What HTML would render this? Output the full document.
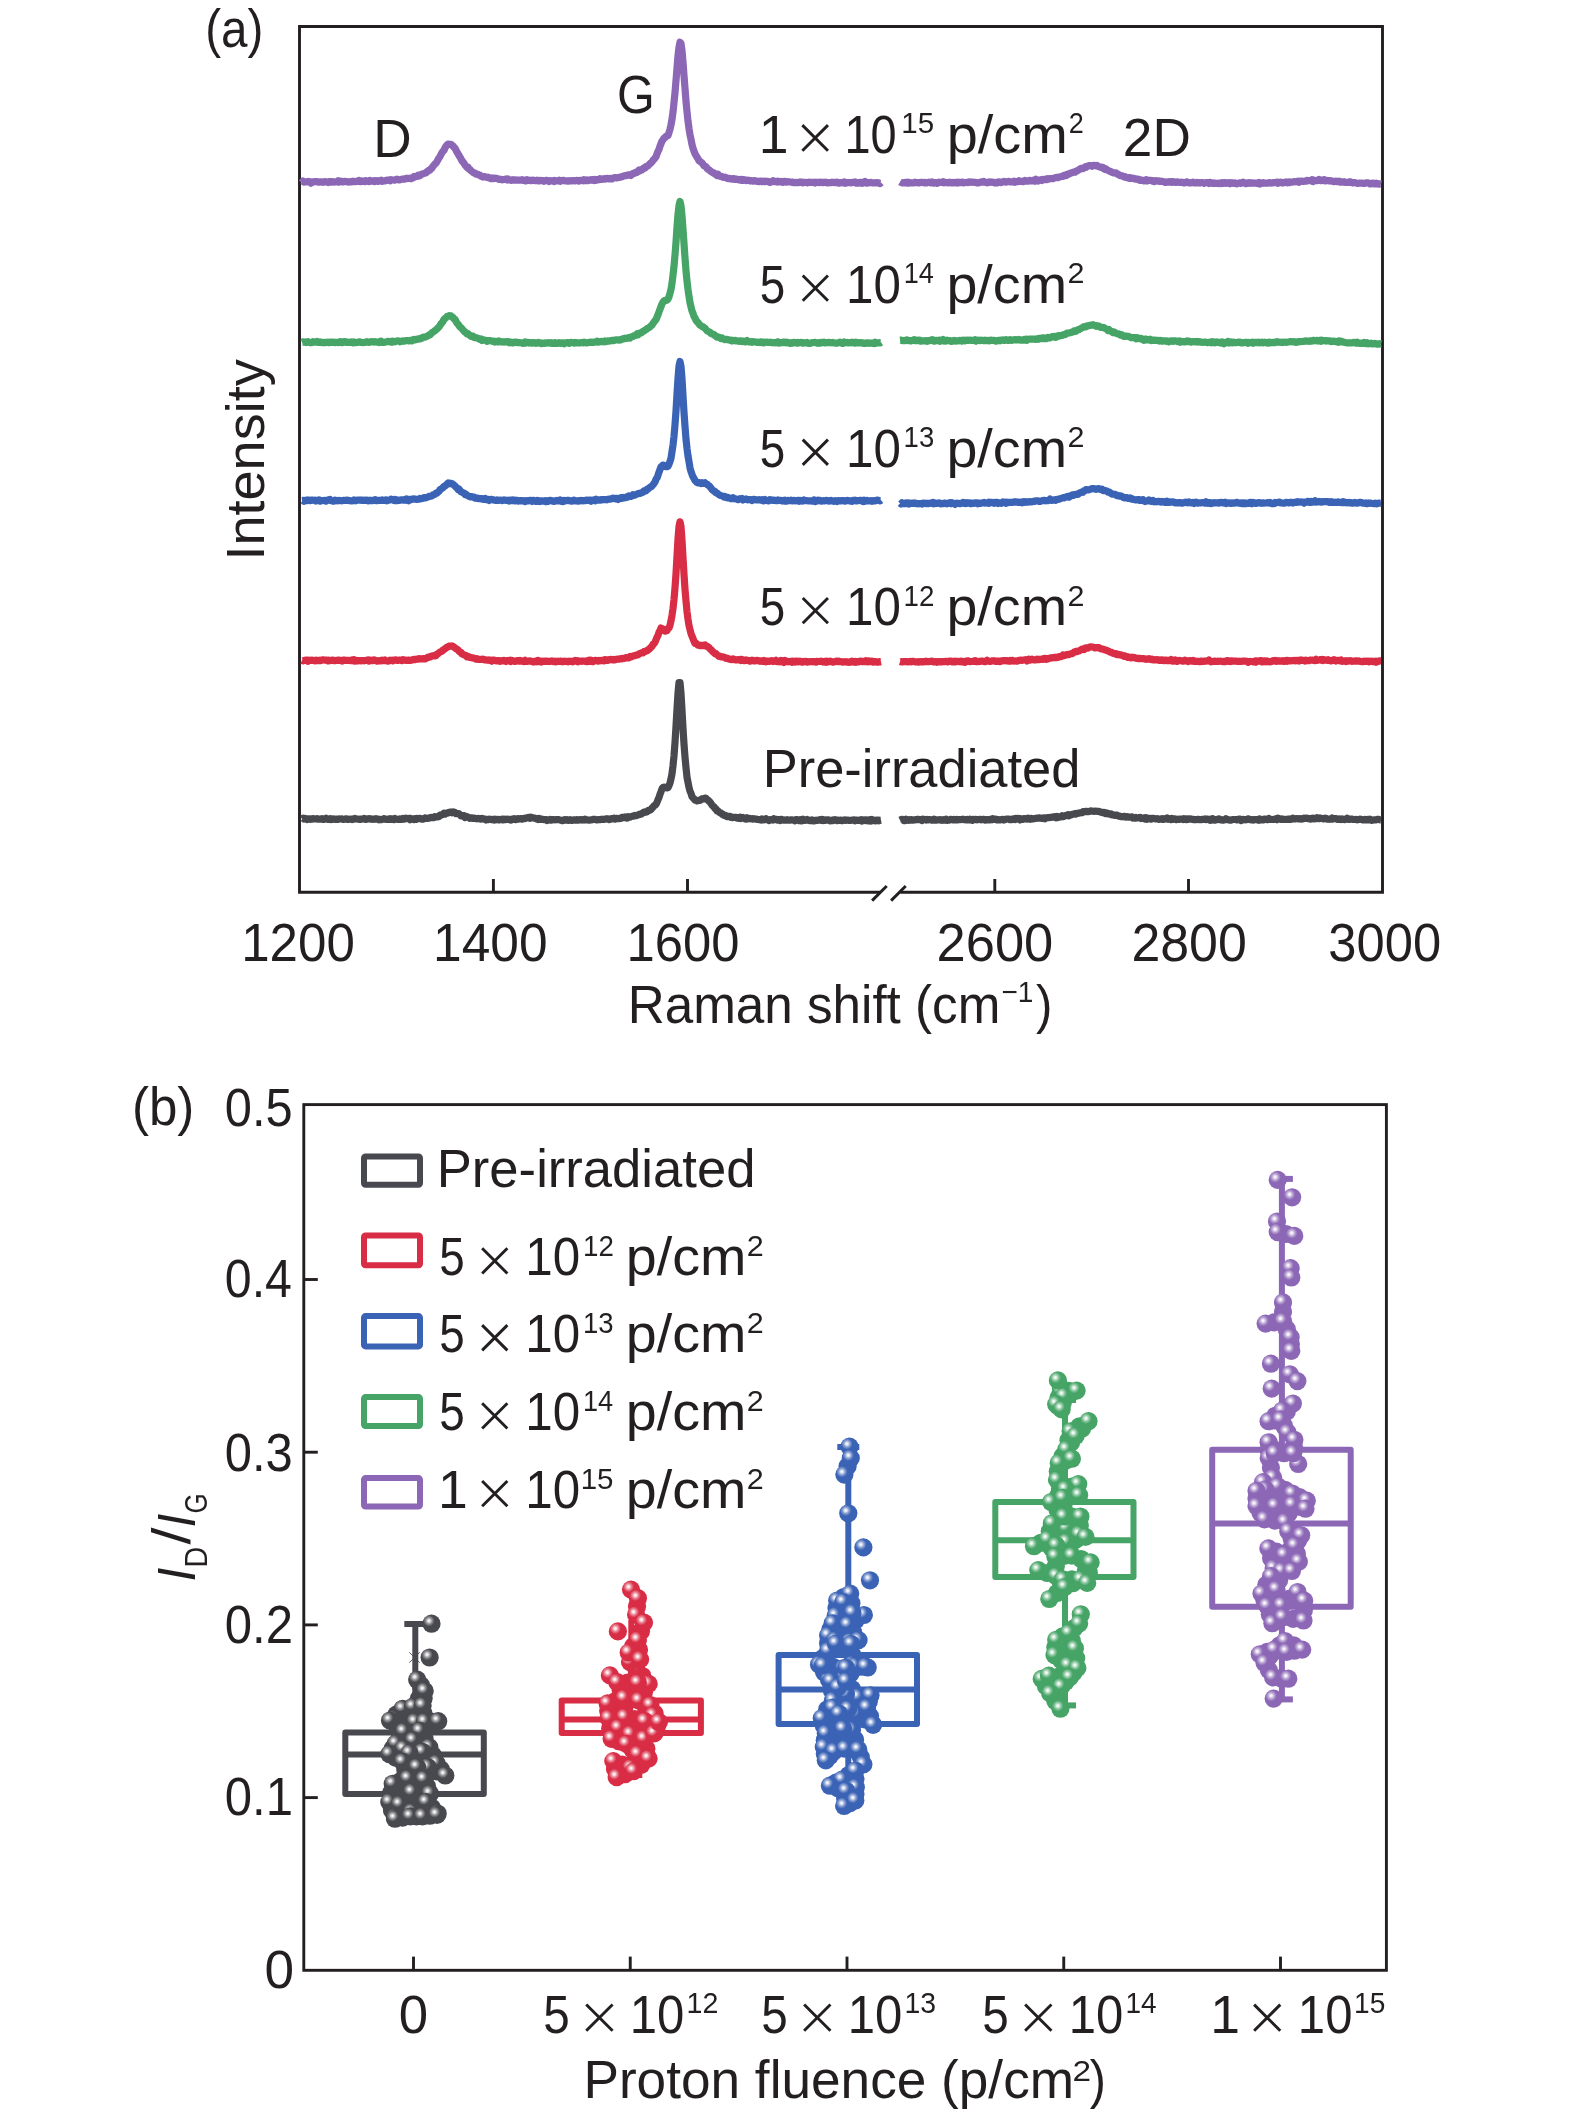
<!DOCTYPE html><html><head><meta charset="utf-8"><style>html,body{margin:0;padding:0;background:#fff;overflow:hidden}svg{display:block}text{font-family:"Liberation Sans",sans-serif;font-kerning:none}svg{will-change:transform}</style></head><body>
<svg width="1575" height="2115" viewBox="0 0 1575 2115">
<rect width="1575" height="2115" fill="#fff"/>
<defs>
<radialGradient id="gk" cx="0.36" cy="0.34" r="0.62" fx="0.36" fy="0.34"><stop offset="0" stop-color="#ffffff" stop-opacity="1"/><stop offset="0.11" stop-color="#ffffff" stop-opacity="0.85"/><stop offset="0.28" stop-color="#ffffff" stop-opacity="0.4"/><stop offset="0.5" stop-color="#ffffff" stop-opacity="0"/></radialGradient>
<radialGradient id="gr" cx="0.36" cy="0.34" r="0.62" fx="0.36" fy="0.34"><stop offset="0" stop-color="#ffffff" stop-opacity="1"/><stop offset="0.11" stop-color="#ffffff" stop-opacity="0.85"/><stop offset="0.28" stop-color="#ffffff" stop-opacity="0.4"/><stop offset="0.5" stop-color="#ffffff" stop-opacity="0"/></radialGradient>
<radialGradient id="gb" cx="0.36" cy="0.34" r="0.62" fx="0.36" fy="0.34"><stop offset="0" stop-color="#ffffff" stop-opacity="1"/><stop offset="0.11" stop-color="#ffffff" stop-opacity="0.85"/><stop offset="0.28" stop-color="#ffffff" stop-opacity="0.4"/><stop offset="0.5" stop-color="#ffffff" stop-opacity="0"/></radialGradient>
<radialGradient id="gg" cx="0.36" cy="0.34" r="0.62" fx="0.36" fy="0.34"><stop offset="0" stop-color="#ffffff" stop-opacity="1"/><stop offset="0.11" stop-color="#ffffff" stop-opacity="0.85"/><stop offset="0.28" stop-color="#ffffff" stop-opacity="0.4"/><stop offset="0.5" stop-color="#ffffff" stop-opacity="0"/></radialGradient>
<radialGradient id="gp" cx="0.36" cy="0.34" r="0.62" fx="0.36" fy="0.34"><stop offset="0" stop-color="#ffffff" stop-opacity="1"/><stop offset="0.11" stop-color="#ffffff" stop-opacity="0.85"/><stop offset="0.28" stop-color="#ffffff" stop-opacity="0.4"/><stop offset="0.5" stop-color="#ffffff" stop-opacity="0"/></radialGradient>
</defs>
<g fill="none" stroke="#231f20" stroke-width="2.9">
<polyline points="880,892.3 299.5,892.3 299.5,26.5 1382.5,26.5 1382.5,892.3 900.3,892.3"/>
<line x1="493.4" y1="892.3" x2="493.4" y2="879"/>
<line x1="687.5" y1="892.3" x2="687.5" y2="879"/>
<line x1="994.8" y1="892.3" x2="994.8" y2="879"/>
<line x1="1188.5" y1="892.3" x2="1188.5" y2="879"/>
<line x1="872.1" y1="900.6" x2="886.7" y2="886"/>
<line x1="891.1" y1="900.6" x2="905.7" y2="886"/>
</g>
<g fill="#231f20">
<text x="205.25" y="46.50" font-size="54.00" textLength="58.21" lengthAdjust="spacingAndGlyphs">(a)</text>
<text x="373.24" y="157.10" font-size="53.50" textLength="38.41" lengthAdjust="spacingAndGlyphs">D</text>
<text x="616.96" y="112.70" font-size="53.50" textLength="37.77" lengthAdjust="spacingAndGlyphs">G</text>
<text x="1122.82" y="155.50" font-size="53.50" textLength="68.02" lengthAdjust="spacingAndGlyphs">2D</text>
<text x="758.68" y="152.60" font-size="53.50">1</text>
<text x="844.42" y="152.60" font-size="53.50" textLength="52.21" lengthAdjust="spacingAndGlyphs">10</text>
<text x="901.26" y="133.10" font-size="30.00" textLength="32.78" lengthAdjust="spacingAndGlyphs">15</text>
<text x="946.70" y="152.60" font-size="53.50" textLength="121.19" lengthAdjust="spacingAndGlyphs">p/cm</text>
<text x="1068.64" y="133.10" font-size="30.00" textLength="15.02" lengthAdjust="spacingAndGlyphs">2</text>
<text x="759.87" y="302.60" font-size="53.50" textLength="25.45" lengthAdjust="spacingAndGlyphs">5</text>
<text x="845.94" y="302.60" font-size="53.50" textLength="54.89" lengthAdjust="spacingAndGlyphs">10</text>
<text x="903.63" y="283.10" font-size="30.00" textLength="30.16" lengthAdjust="spacingAndGlyphs">14</text>
<text x="946.41" y="302.60" font-size="53.50" textLength="120.66" lengthAdjust="spacingAndGlyphs">p/cm</text>
<text x="1067.47" y="283.10" font-size="30.00" textLength="16.97" lengthAdjust="spacingAndGlyphs">2</text>
<text x="759.87" y="466.70" font-size="53.50" textLength="25.45" lengthAdjust="spacingAndGlyphs">5</text>
<text x="845.94" y="466.70" font-size="53.50" textLength="54.89" lengthAdjust="spacingAndGlyphs">10</text>
<text x="903.60" y="447.20" font-size="30.00" textLength="30.61" lengthAdjust="spacingAndGlyphs">13</text>
<text x="946.41" y="466.70" font-size="53.50" textLength="120.66" lengthAdjust="spacingAndGlyphs">p/cm</text>
<text x="1067.47" y="447.20" font-size="30.00" textLength="16.97" lengthAdjust="spacingAndGlyphs">2</text>
<text x="759.87" y="625.00" font-size="53.50" textLength="25.45" lengthAdjust="spacingAndGlyphs">5</text>
<text x="845.94" y="625.00" font-size="53.50" textLength="54.89" lengthAdjust="spacingAndGlyphs">10</text>
<text x="903.59" y="605.50" font-size="30.00" textLength="30.80" lengthAdjust="spacingAndGlyphs">12</text>
<text x="946.41" y="625.00" font-size="53.50" textLength="120.66" lengthAdjust="spacingAndGlyphs">p/cm</text>
<text x="1067.47" y="605.50" font-size="30.00" textLength="16.97" lengthAdjust="spacingAndGlyphs">2</text>
<text x="762.70" y="786.70" font-size="53.50" textLength="317.78" lengthAdjust="spacingAndGlyphs">Pre-irradiated</text>
<text x="241.21" y="960.70" font-size="53.50" textLength="113.58" lengthAdjust="spacingAndGlyphs">1200</text>
<text x="433.08" y="960.70" font-size="53.50" textLength="114.53" lengthAdjust="spacingAndGlyphs">1400</text>
<text x="626.54" y="960.70" font-size="53.50" textLength="112.85" lengthAdjust="spacingAndGlyphs">1600</text>
<text x="936.56" y="960.70" font-size="53.50" textLength="116.69" lengthAdjust="spacingAndGlyphs">2600</text>
<text x="1131.39" y="960.70" font-size="53.50" textLength="115.44" lengthAdjust="spacingAndGlyphs">2800</text>
<text x="1328.37" y="960.70" font-size="53.50" textLength="112.81" lengthAdjust="spacingAndGlyphs">3000</text>
<text x="627.70" y="1022.60" font-size="53.50" textLength="372.67" lengthAdjust="spacingAndGlyphs">Raman shift (cm</text>
<text x="1001.42" y="1002.00" font-size="30.00" textLength="31.95" lengthAdjust="spacingAndGlyphs">−1</text>
<text x="1036.11" y="1022.60" font-size="53.50" textLength="16.45" lengthAdjust="spacingAndGlyphs">)</text>
<text transform="translate(263.90,555.60) rotate(-90)" x="-4.99" y="0" font-size="53.50" textLength="201.40" lengthAdjust="spacingAndGlyphs">Intensity</text>
</g>
<g fill="none" stroke="#231f20" stroke-width="2.9">
<rect x="303.8" y="1104.6" width="1082.6" height="865.7"/>
<line x1="303.8" y1="1797.6" x2="317.8" y2="1797.6"/>
<line x1="303.8" y1="1624.9" x2="317.8" y2="1624.9"/>
<line x1="303.8" y1="1452.2" x2="317.8" y2="1452.2"/>
<line x1="303.8" y1="1279.5" x2="317.8" y2="1279.5"/>
<line x1="413.5" y1="1970.3" x2="413.5" y2="1956.6"/>
<line x1="630.25" y1="1970.3" x2="630.25" y2="1956.6"/>
<line x1="847.0" y1="1970.3" x2="847.0" y2="1956.6"/>
<line x1="1063.75" y1="1970.3" x2="1063.75" y2="1956.6"/>
<line x1="1280.5" y1="1970.3" x2="1280.5" y2="1956.6"/>
</g>
<g fill="#231f20">
<text x="131.93" y="1125.20" font-size="54.00" textLength="62.44" lengthAdjust="spacingAndGlyphs">(b)</text>
<text x="224.79" y="1125.70" font-size="53.50" textLength="67.86" lengthAdjust="spacingAndGlyphs">0.5</text>
<text x="224.81" y="1297.30" font-size="53.50" textLength="67.20" lengthAdjust="spacingAndGlyphs">0.4</text>
<text x="224.79" y="1470.70" font-size="53.50" textLength="67.96" lengthAdjust="spacingAndGlyphs">0.3</text>
<text x="224.78" y="1642.80" font-size="53.50" textLength="68.29" lengthAdjust="spacingAndGlyphs">0.2</text>
<text x="224.78" y="1815.00" font-size="53.50" textLength="68.21" lengthAdjust="spacingAndGlyphs">0.1</text>
<text x="264.62" y="1988.10" font-size="53.50" textLength="29.55" lengthAdjust="spacingAndGlyphs">0</text>
<text x="398.74" y="2032.60" font-size="53.50" textLength="29.32" lengthAdjust="spacingAndGlyphs">0</text>
<text x="543.29" y="2032.60" font-size="53.50" textLength="26.51" lengthAdjust="spacingAndGlyphs">5</text>
<text x="629.76" y="2032.60" font-size="53.50" textLength="54.55" lengthAdjust="spacingAndGlyphs">10</text>
<text x="686.52" y="2012.60" font-size="30.00" textLength="31.82" lengthAdjust="spacingAndGlyphs">12</text>
<text x="761.19" y="2032.60" font-size="53.50" textLength="26.51" lengthAdjust="spacingAndGlyphs">5</text>
<text x="847.66" y="2032.60" font-size="53.50" textLength="54.55" lengthAdjust="spacingAndGlyphs">10</text>
<text x="904.44" y="2012.60" font-size="30.00" textLength="31.61" lengthAdjust="spacingAndGlyphs">13</text>
<text x="982.19" y="2032.60" font-size="53.50" textLength="26.51" lengthAdjust="spacingAndGlyphs">5</text>
<text x="1068.66" y="2032.60" font-size="53.50" textLength="54.55" lengthAdjust="spacingAndGlyphs">10</text>
<text x="1125.47" y="2012.60" font-size="30.00" textLength="31.15" lengthAdjust="spacingAndGlyphs">14</text>
<text x="1210.18" y="2032.60" font-size="53.50">1</text>
<text x="1297.86" y="2032.60" font-size="53.50" textLength="54.55" lengthAdjust="spacingAndGlyphs">10</text>
<text x="1354.06" y="2012.60" font-size="30.00" textLength="31.22" lengthAdjust="spacingAndGlyphs">15</text>
<text x="583.44" y="2098.10" font-size="53.50" textLength="490.57" lengthAdjust="spacingAndGlyphs">Proton fluence (p/cm</text>
<text x="1072.62" y="2081.00" font-size="30.00" textLength="18.56" lengthAdjust="spacingAndGlyphs">2</text>
<text x="1089.71" y="2098.10" font-size="53.50" textLength="16.20" lengthAdjust="spacingAndGlyphs">)</text>
</g>
<g fill="#231f20">
<text transform="translate(195.40,1579.40) rotate(-90)" x="-1.99" y="0" font-size="53.50" textLength="13.95" lengthAdjust="spacingAndGlyphs" font-style="italic">I</text>
<text transform="translate(206.70,1565.20) rotate(-90)" x="-2.35" y="0" font-size="31.50" textLength="20.73" lengthAdjust="spacingAndGlyphs">D</text>
<text transform="translate(189.70,1544.40) rotate(-90)" x="-0.00" y="0" font-size="53.50" textLength="17.00" lengthAdjust="spacingAndGlyphs">/</text>
<text transform="translate(195.40,1525.50) rotate(-90)" x="-1.97" y="0" font-size="53.50" textLength="13.83" lengthAdjust="spacingAndGlyphs" font-style="italic">I</text>
<text transform="translate(206.70,1512.30) rotate(-90)" x="-1.31" y="0" font-size="31.50" textLength="20.26" lengthAdjust="spacingAndGlyphs">G</text>
</g>
<rect x="364" y="1156.4" width="56" height="28.3" rx="1.5" fill="none" stroke="#48484f" stroke-width="6"/>
<rect x="364" y="1235.5" width="56" height="29.8" rx="1.5" fill="none" stroke="#d92c45" stroke-width="6"/>
<rect x="364" y="1316.1" width="56" height="30.3" rx="1.5" fill="none" stroke="#3b63b5" stroke-width="6"/>
<rect x="364" y="1397.1" width="56" height="28.9" rx="1.5" fill="none" stroke="#45a466" stroke-width="6"/>
<rect x="364" y="1478.1" width="56" height="28.4" rx="1.5" fill="none" stroke="#8c67b6" stroke-width="6"/>
<g fill="#231f20">
<text x="436.79" y="1187.30" font-size="53.50" textLength="318.60" lengthAdjust="spacingAndGlyphs">Pre-irradiated</text>
<text x="439.27" y="1275.30" font-size="53.50" textLength="25.45" lengthAdjust="spacingAndGlyphs">5</text>
<text x="525.34" y="1275.30" font-size="53.50" textLength="54.89" lengthAdjust="spacingAndGlyphs">10</text>
<text x="582.99" y="1255.80" font-size="30.00" textLength="30.80" lengthAdjust="spacingAndGlyphs">12</text>
<text x="625.81" y="1275.30" font-size="53.50" textLength="120.66" lengthAdjust="spacingAndGlyphs">p/cm</text>
<text x="746.87" y="1255.80" font-size="30.00" textLength="16.97" lengthAdjust="spacingAndGlyphs">2</text>
<text x="439.27" y="1352.20" font-size="53.50" textLength="25.45" lengthAdjust="spacingAndGlyphs">5</text>
<text x="525.34" y="1352.20" font-size="53.50" textLength="54.89" lengthAdjust="spacingAndGlyphs">10</text>
<text x="583.00" y="1332.70" font-size="30.00" textLength="30.61" lengthAdjust="spacingAndGlyphs">13</text>
<text x="625.81" y="1352.20" font-size="53.50" textLength="120.66" lengthAdjust="spacingAndGlyphs">p/cm</text>
<text x="746.87" y="1332.70" font-size="30.00" textLength="16.97" lengthAdjust="spacingAndGlyphs">2</text>
<text x="439.27" y="1430.40" font-size="53.50" textLength="25.45" lengthAdjust="spacingAndGlyphs">5</text>
<text x="525.34" y="1430.40" font-size="53.50" textLength="54.89" lengthAdjust="spacingAndGlyphs">10</text>
<text x="583.03" y="1410.90" font-size="30.00" textLength="30.16" lengthAdjust="spacingAndGlyphs">14</text>
<text x="625.81" y="1430.40" font-size="53.50" textLength="120.66" lengthAdjust="spacingAndGlyphs">p/cm</text>
<text x="746.87" y="1410.90" font-size="30.00" textLength="16.97" lengthAdjust="spacingAndGlyphs">2</text>
<text x="438.08" y="1508.10" font-size="53.50">1</text>
<text x="525.34" y="1508.10" font-size="53.50" textLength="54.89" lengthAdjust="spacingAndGlyphs">10</text>
<text x="580.66" y="1488.60" font-size="30.00" textLength="32.78" lengthAdjust="spacingAndGlyphs">15</text>
<text x="625.81" y="1508.10" font-size="53.50" textLength="120.66" lengthAdjust="spacingAndGlyphs">p/cm</text>
<text x="746.87" y="1488.60" font-size="30.00" textLength="16.97" lengthAdjust="spacingAndGlyphs">2</text>
</g>
<g fill="none" stroke="#48484f" stroke-width="6" stroke-linejoin="round">
<rect x="345.3" y="1732.6" width="138.5" height="61.4"/>
<line x1="345.3" y1="1754.6" x2="483.8" y2="1754.6"/>
<line x1="415.3" y1="1624.0" x2="415.3" y2="1732.6"/>
<line x1="415.3" y1="1794.0" x2="415.3" y2="1820.0"/>
<line x1="404.3" y1="1624.0" x2="426.3" y2="1624.0"/>
<line x1="404.3" y1="1820.0" x2="426.3" y2="1820.0"/>
</g>
<g fill="none" stroke="#d92c45" stroke-width="6" stroke-linejoin="round">
<rect x="561.7" y="1700.4" width="139.2" height="32.7"/>
<line x1="561.7" y1="1719.4" x2="700.9" y2="1719.4"/>
<line x1="631.3" y1="1620.0" x2="631.3" y2="1700.4"/>
<line x1="631.3" y1="1733.1" x2="631.3" y2="1775.0"/>
<line x1="620.3" y1="1775.0" x2="642.3" y2="1775.0"/>
</g>
<g fill="none" stroke="#3b63b5" stroke-width="6" stroke-linejoin="round">
<rect x="778.6" y="1655.0" width="138.4" height="69.1"/>
<line x1="778.6" y1="1689.5" x2="917.0" y2="1689.5"/>
<line x1="848.3" y1="1447.0" x2="848.3" y2="1655.0"/>
<line x1="848.3" y1="1724.1" x2="848.3" y2="1805.0"/>
<line x1="837.3" y1="1447.0" x2="859.3" y2="1447.0"/>
<line x1="837.3" y1="1805.0" x2="859.3" y2="1805.0"/>
</g>
<g fill="none" stroke="#45a466" stroke-width="6" stroke-linejoin="round">
<rect x="995.3" y="1502.0" width="138.2" height="75.0"/>
<line x1="995.3" y1="1540.3" x2="1133.5" y2="1540.3"/>
<line x1="1065.0" y1="1400.0" x2="1065.0" y2="1502.0"/>
<line x1="1065.0" y1="1577.0" x2="1065.0" y2="1705.4"/>
<line x1="1054.0" y1="1400.0" x2="1076.0" y2="1400.0"/>
<line x1="1054.0" y1="1705.4" x2="1076.0" y2="1705.4"/>
</g>
<g fill="none" stroke="#8c67b6" stroke-width="6" stroke-linejoin="round">
<rect x="1212.2" y="1449.7" width="138.5" height="157.1"/>
<line x1="1212.2" y1="1523.4" x2="1350.7" y2="1523.4"/>
<line x1="1281.9" y1="1178.9" x2="1281.9" y2="1449.7"/>
<line x1="1281.9" y1="1606.8" x2="1281.9" y2="1699.4"/>
<line x1="1270.9" y1="1178.9" x2="1292.9" y2="1178.9"/>
<line x1="1270.9" y1="1699.4" x2="1292.9" y2="1699.4"/>
</g>
<g fill="#48484f">
<circle cx="420.9" cy="1685.3" r="9.1"/>
<circle cx="418.8" cy="1698.8" r="9.1"/>
<circle cx="423.6" cy="1698.3" r="9.1"/>
<circle cx="412.6" cy="1707.2" r="9.1"/>
<circle cx="398.3" cy="1713.9" r="9.1"/>
<circle cx="396.3" cy="1714.7" r="9.1"/>
<circle cx="408.8" cy="1715.3" r="9.1"/>
<circle cx="413.9" cy="1714.2" r="9.1"/>
<circle cx="418.8" cy="1714.2" r="9.1"/>
<circle cx="418.8" cy="1713.7" r="9.1"/>
<circle cx="423.6" cy="1713.7" r="9.1"/>
<circle cx="398.9" cy="1725.3" r="9.1"/>
<circle cx="396.9" cy="1726.0" r="9.1"/>
<circle cx="409.4" cy="1726.7" r="9.1"/>
<circle cx="414.1" cy="1731.1" r="9.1"/>
<circle cx="431.4" cy="1721.5" r="9.1"/>
<circle cx="429.0" cy="1726.1" r="9.1"/>
<circle cx="411.8" cy="1731.2" r="9.1"/>
<circle cx="424.6" cy="1739.1" r="9.1"/>
<circle cx="408.5" cy="1736.0" r="9.1"/>
<circle cx="399.8" cy="1737.5" r="9.1"/>
<circle cx="403.5" cy="1740.2" r="9.1"/>
<circle cx="404.6" cy="1742.0" r="9.1"/>
<circle cx="408.4" cy="1744.6" r="9.1"/>
<circle cx="421.3" cy="1743.8" r="9.1"/>
<circle cx="417.9" cy="1746.1" r="9.1"/>
<circle cx="411.4" cy="1746.7" r="9.1"/>
<circle cx="392.6" cy="1748.8" r="9.1"/>
<circle cx="402.6" cy="1748.2" r="9.1"/>
<circle cx="399.2" cy="1752.6" r="9.1"/>
<circle cx="412.9" cy="1750.3" r="9.1"/>
<circle cx="396.4" cy="1751.4" r="9.1"/>
<circle cx="403.0" cy="1755.2" r="9.1"/>
<circle cx="419.4" cy="1750.2" r="9.1"/>
<circle cx="432.9" cy="1755.3" r="9.1"/>
<circle cx="428.6" cy="1757.2" r="9.1"/>
<circle cx="415.9" cy="1752.4" r="9.1"/>
<circle cx="429.4" cy="1757.5" r="9.1"/>
<circle cx="425.1" cy="1759.4" r="9.1"/>
<circle cx="419.8" cy="1759.4" r="9.1"/>
<circle cx="399.4" cy="1753.5" r="9.1"/>
<circle cx="396.0" cy="1757.9" r="9.1"/>
<circle cx="413.3" cy="1760.0" r="9.1"/>
<circle cx="409.9" cy="1764.4" r="9.1"/>
<circle cx="405.3" cy="1770.1" r="9.1"/>
<circle cx="426.8" cy="1765.2" r="9.1"/>
<circle cx="440.9" cy="1769.4" r="9.1"/>
<circle cx="430.2" cy="1771.3" r="9.1"/>
<circle cx="436.6" cy="1771.3" r="9.1"/>
<circle cx="425.9" cy="1773.2" r="9.1"/>
<circle cx="412.6" cy="1772.8" r="9.1"/>
<circle cx="420.6" cy="1773.2" r="9.1"/>
<circle cx="416.0" cy="1778.9" r="9.1"/>
<circle cx="400.4" cy="1781.2" r="9.1"/>
<circle cx="409.9" cy="1785.3" r="9.1"/>
<circle cx="417.9" cy="1785.8" r="9.1"/>
<circle cx="427.0" cy="1786.5" r="9.1"/>
<circle cx="402.2" cy="1788.0" r="9.1"/>
<circle cx="391.0" cy="1792.9" r="9.1"/>
<circle cx="420.9" cy="1793.0" r="9.1"/>
<circle cx="405.7" cy="1798.3" r="9.1"/>
<circle cx="419.0" cy="1797.2" r="9.1"/>
<circle cx="411.8" cy="1802.1" r="9.1"/>
<circle cx="392.1" cy="1809.8" r="9.1"/>
<circle cx="392.1" cy="1810.4" r="9.1"/>
<circle cx="405.7" cy="1808.2" r="9.1"/>
<circle cx="397.3" cy="1810.9" r="9.1"/>
<circle cx="397.3" cy="1811.6" r="9.1"/>
<circle cx="405.0" cy="1810.4" r="9.1"/>
<circle cx="419.0" cy="1807.0" r="9.1"/>
<circle cx="431.9" cy="1807.8" r="9.1"/>
<circle cx="424.4" cy="1809.2" r="9.1"/>
<circle cx="431.6" cy="1808.5" r="9.1"/>
<circle cx="403.4" cy="1814.7" r="9.1"/>
<circle cx="403.4" cy="1815.3" r="9.1"/>
<circle cx="430.1" cy="1815.0" r="9.1"/>
<circle cx="402.6" cy="1816.9" r="9.1"/>
<circle cx="402.6" cy="1817.6" r="9.1"/>
<circle cx="416.4" cy="1816.4" r="9.1"/>
<circle cx="429.8" cy="1815.7" r="9.1"/>
</g>
<g>
<circle cx="431.5" cy="1623.7" r="9.1" fill="#48484f"/><circle cx="431.5" cy="1623.7" r="9.1" fill="url(#gk)"/>
<circle cx="429.6" cy="1657.5" r="9.1" fill="#48484f"/><circle cx="429.6" cy="1657.5" r="9.1" fill="url(#gk)"/>
<circle cx="417.2" cy="1679.7" r="9.1" fill="#48484f"/><circle cx="417.2" cy="1679.7" r="9.1" fill="url(#gk)"/>
<circle cx="424.7" cy="1691.0" r="9.1" fill="#48484f"/><circle cx="424.7" cy="1691.0" r="9.1" fill="url(#gk)"/>
<circle cx="402.6" cy="1708.8" r="9.1" fill="#48484f"/><circle cx="402.6" cy="1708.8" r="9.1" fill="url(#gk)"/>
<circle cx="412.9" cy="1706.7" r="9.1" fill="#48484f"/><circle cx="412.9" cy="1706.7" r="9.1" fill="url(#gk)"/>
<circle cx="422.6" cy="1705.6" r="9.1" fill="#48484f"/><circle cx="422.6" cy="1705.6" r="9.1" fill="url(#gk)"/>
<circle cx="394.0" cy="1719.1" r="9.1" fill="#48484f"/><circle cx="394.0" cy="1719.1" r="9.1" fill="url(#gk)"/>
<circle cx="390.0" cy="1720.5" r="9.1" fill="#48484f"/><circle cx="390.0" cy="1720.5" r="9.1" fill="url(#gk)"/>
<circle cx="415.0" cy="1721.8" r="9.1" fill="#48484f"/><circle cx="415.0" cy="1721.8" r="9.1" fill="url(#gk)"/>
<circle cx="424.7" cy="1721.8" r="9.1" fill="#48484f"/><circle cx="424.7" cy="1721.8" r="9.1" fill="url(#gk)"/>
<circle cx="438.2" cy="1721.2" r="9.1" fill="#48484f"/><circle cx="438.2" cy="1721.2" r="9.1" fill="url(#gk)"/>
<circle cx="419.9" cy="1730.9" r="9.1" fill="#48484f"/><circle cx="419.9" cy="1730.9" r="9.1" fill="url(#gk)"/>
<circle cx="403.7" cy="1731.5" r="9.1" fill="#48484f"/><circle cx="403.7" cy="1731.5" r="9.1" fill="url(#gk)"/>
<circle cx="413.3" cy="1740.4" r="9.1" fill="#48484f"/><circle cx="413.3" cy="1740.4" r="9.1" fill="url(#gk)"/>
<circle cx="395.8" cy="1743.5" r="9.1" fill="#48484f"/><circle cx="395.8" cy="1743.5" r="9.1" fill="url(#gk)"/>
<circle cx="403.4" cy="1748.8" r="9.1" fill="#48484f"/><circle cx="403.4" cy="1748.8" r="9.1" fill="url(#gk)"/>
<circle cx="429.3" cy="1747.3" r="9.1" fill="#48484f"/><circle cx="429.3" cy="1747.3" r="9.1" fill="url(#gk)"/>
<circle cx="422.4" cy="1751.8" r="9.1" fill="#48484f"/><circle cx="422.4" cy="1751.8" r="9.1" fill="url(#gk)"/>
<circle cx="389.3" cy="1754.1" r="9.1" fill="#48484f"/><circle cx="389.3" cy="1754.1" r="9.1" fill="url(#gk)"/>
<circle cx="409.5" cy="1753.0" r="9.1" fill="#48484f"/><circle cx="409.5" cy="1753.0" r="9.1" fill="url(#gk)"/>
<circle cx="402.6" cy="1761.7" r="9.1" fill="#48484f"/><circle cx="402.6" cy="1761.7" r="9.1" fill="url(#gk)"/>
<circle cx="436.5" cy="1763.3" r="9.1" fill="#48484f"/><circle cx="436.5" cy="1763.3" r="9.1" fill="url(#gk)"/>
<circle cx="427.8" cy="1767.1" r="9.1" fill="#48484f"/><circle cx="427.8" cy="1767.1" r="9.1" fill="url(#gk)"/>
<circle cx="417.1" cy="1767.1" r="9.1" fill="#48484f"/><circle cx="417.1" cy="1767.1" r="9.1" fill="url(#gk)"/>
<circle cx="445.3" cy="1775.5" r="9.1" fill="#48484f"/><circle cx="445.3" cy="1775.5" r="9.1" fill="url(#gk)"/>
<circle cx="408.0" cy="1778.5" r="9.1" fill="#48484f"/><circle cx="408.0" cy="1778.5" r="9.1" fill="url(#gk)"/>
<circle cx="424.0" cy="1779.3" r="9.1" fill="#48484f"/><circle cx="424.0" cy="1779.3" r="9.1" fill="url(#gk)"/>
<circle cx="392.7" cy="1783.8" r="9.1" fill="#48484f"/><circle cx="392.7" cy="1783.8" r="9.1" fill="url(#gk)"/>
<circle cx="411.8" cy="1792.2" r="9.1" fill="#48484f"/><circle cx="411.8" cy="1792.2" r="9.1" fill="url(#gk)"/>
<circle cx="430.0" cy="1793.7" r="9.1" fill="#48484f"/><circle cx="430.0" cy="1793.7" r="9.1" fill="url(#gk)"/>
<circle cx="389.3" cy="1802.1" r="9.1" fill="#48484f"/><circle cx="389.3" cy="1802.1" r="9.1" fill="url(#gk)"/>
<circle cx="399.6" cy="1804.4" r="9.1" fill="#48484f"/><circle cx="399.6" cy="1804.4" r="9.1" fill="url(#gk)"/>
<circle cx="426.2" cy="1802.1" r="9.1" fill="#48484f"/><circle cx="426.2" cy="1802.1" r="9.1" fill="url(#gk)"/>
<circle cx="411.8" cy="1812.0" r="9.1" fill="#48484f"/><circle cx="411.8" cy="1812.0" r="9.1" fill="url(#gk)"/>
<circle cx="437.7" cy="1813.5" r="9.1" fill="#48484f"/><circle cx="437.7" cy="1813.5" r="9.1" fill="url(#gk)"/>
<circle cx="395.0" cy="1817.4" r="9.1" fill="#48484f"/><circle cx="395.0" cy="1817.4" r="9.1" fill="url(#gk)"/>
<circle cx="395.0" cy="1818.7" r="9.1" fill="#48484f"/><circle cx="395.0" cy="1818.7" r="9.1" fill="url(#gk)"/>
<circle cx="410.3" cy="1816.4" r="9.1" fill="#48484f"/><circle cx="410.3" cy="1816.4" r="9.1" fill="url(#gk)"/>
<circle cx="422.5" cy="1816.4" r="9.1" fill="#48484f"/><circle cx="422.5" cy="1816.4" r="9.1" fill="url(#gk)"/>
<circle cx="437.0" cy="1814.9" r="9.1" fill="#48484f"/><circle cx="437.0" cy="1814.9" r="9.1" fill="url(#gk)"/>
</g>
<g fill="#d92c45">
<circle cx="632.4" cy="1660.2" r="9.1"/>
<circle cx="642.4" cy="1676.0" r="9.1"/>
<circle cx="637.0" cy="1675.4" r="9.1"/>
<circle cx="637.0" cy="1606.5" r="9.1"/>
<circle cx="641.0" cy="1631.2" r="9.1"/>
<circle cx="633.3" cy="1646.2" r="9.1"/>
<circle cx="639.0" cy="1649.7" r="9.1"/>
<circle cx="634.4" cy="1656.0" r="9.1"/>
<circle cx="627.6" cy="1682.5" r="9.1"/>
<circle cx="620.7" cy="1690.2" r="9.1"/>
<circle cx="643.9" cy="1692.2" r="9.1"/>
<circle cx="631.0" cy="1690.5" r="9.1"/>
<circle cx="638.5" cy="1691.7" r="9.1"/>
<circle cx="615.9" cy="1700.8" r="9.1"/>
<circle cx="631.5" cy="1699.3" r="9.1"/>
<circle cx="624.4" cy="1707.7" r="9.1"/>
<circle cx="608.2" cy="1710.8" r="9.1"/>
<circle cx="644.7" cy="1702.8" r="9.1"/>
<circle cx="646.1" cy="1708.0" r="9.1"/>
<circle cx="647.5" cy="1713.1" r="9.1"/>
<circle cx="654.6" cy="1713.5" r="9.1"/>
<circle cx="616.7" cy="1717.7" r="9.1"/>
<circle cx="613.5" cy="1723.1" r="9.1"/>
<circle cx="610.2" cy="1728.5" r="9.1"/>
<circle cx="634.7" cy="1719.1" r="9.1"/>
<circle cx="621.5" cy="1722.5" r="9.1"/>
<circle cx="627.5" cy="1725.7" r="9.1"/>
<circle cx="653.8" cy="1724.4" r="9.1"/>
<circle cx="637.5" cy="1727.7" r="9.1"/>
<circle cx="644.4" cy="1729.9" r="9.1"/>
<circle cx="649.5" cy="1727.2" r="9.1"/>
<circle cx="651.8" cy="1721.5" r="9.1"/>
<circle cx="624.4" cy="1731.1" r="9.1"/>
<circle cx="615.0" cy="1733.3" r="9.1"/>
<circle cx="622.4" cy="1735.9" r="9.1"/>
<circle cx="621.0" cy="1736.5" r="9.1"/>
<circle cx="637.2" cy="1736.5" r="9.1"/>
<circle cx="619.0" cy="1741.3" r="9.1"/>
<circle cx="635.2" cy="1741.3" r="9.1"/>
<circle cx="641.0" cy="1746.5" r="9.1"/>
<circle cx="646.4" cy="1748.7" r="9.1"/>
<circle cx="632.1" cy="1749.1" r="9.1"/>
<circle cx="656.6" cy="1727.7" r="9.1"/>
<circle cx="634.5" cy="1761.1" r="9.1"/>
<circle cx="635.8" cy="1762.7" r="9.1"/>
<circle cx="622.1" cy="1764.5" r="9.1"/>
<circle cx="615.0" cy="1769.1" r="9.1"/>
<circle cx="639.8" cy="1763.2" r="9.1"/>
<circle cx="623.9" cy="1772.5" r="9.1"/>
<circle cx="641.2" cy="1764.8" r="9.1"/>
<circle cx="625.2" cy="1774.1" r="9.1"/>
</g>
<g>
<circle cx="636.0" cy="1668.0" r="9.1" fill="#d92c45"/><circle cx="636.0" cy="1668.0" r="9.1" fill="url(#gr)"/>
<circle cx="630.0" cy="1662.0" r="9.1" fill="#d92c45"/><circle cx="630.0" cy="1662.0" r="9.1" fill="url(#gr)"/>
<circle cx="631.0" cy="1589.6" r="9.1" fill="#d92c45"/><circle cx="631.0" cy="1589.6" r="9.1" fill="url(#gr)"/>
<circle cx="637.9" cy="1598.2" r="9.1" fill="#d92c45"/><circle cx="637.9" cy="1598.2" r="9.1" fill="url(#gr)"/>
<circle cx="636.1" cy="1614.8" r="9.1" fill="#d92c45"/><circle cx="636.1" cy="1614.8" r="9.1" fill="url(#gr)"/>
<circle cx="644.0" cy="1622.6" r="9.1" fill="#d92c45"/><circle cx="644.0" cy="1622.6" r="9.1" fill="url(#gr)"/>
<circle cx="617.9" cy="1631.4" r="9.1" fill="#d92c45"/><circle cx="617.9" cy="1631.4" r="9.1" fill="url(#gr)"/>
<circle cx="637.9" cy="1639.9" r="9.1" fill="#d92c45"/><circle cx="637.9" cy="1639.9" r="9.1" fill="url(#gr)"/>
<circle cx="628.7" cy="1652.5" r="9.1" fill="#d92c45"/><circle cx="628.7" cy="1652.5" r="9.1" fill="url(#gr)"/>
<circle cx="640.1" cy="1659.4" r="9.1" fill="#d92c45"/><circle cx="640.1" cy="1659.4" r="9.1" fill="url(#gr)"/>
<circle cx="609.9" cy="1675.4" r="9.1" fill="#d92c45"/><circle cx="609.9" cy="1675.4" r="9.1" fill="url(#gr)"/>
<circle cx="617.3" cy="1682.2" r="9.1" fill="#d92c45"/><circle cx="617.3" cy="1682.2" r="9.1" fill="url(#gr)"/>
<circle cx="648.7" cy="1683.9" r="9.1" fill="#d92c45"/><circle cx="648.7" cy="1683.9" r="9.1" fill="url(#gr)"/>
<circle cx="637.9" cy="1682.8" r="9.1" fill="#d92c45"/><circle cx="637.9" cy="1682.8" r="9.1" fill="url(#gr)"/>
<circle cx="624.1" cy="1698.2" r="9.1" fill="#d92c45"/><circle cx="624.1" cy="1698.2" r="9.1" fill="url(#gr)"/>
<circle cx="607.6" cy="1703.4" r="9.1" fill="#d92c45"/><circle cx="607.6" cy="1703.4" r="9.1" fill="url(#gr)"/>
<circle cx="639.0" cy="1700.5" r="9.1" fill="#d92c45"/><circle cx="639.0" cy="1700.5" r="9.1" fill="url(#gr)"/>
<circle cx="650.4" cy="1705.1" r="9.1" fill="#d92c45"/><circle cx="650.4" cy="1705.1" r="9.1" fill="url(#gr)"/>
<circle cx="608.7" cy="1718.2" r="9.1" fill="#d92c45"/><circle cx="608.7" cy="1718.2" r="9.1" fill="url(#gr)"/>
<circle cx="624.7" cy="1717.1" r="9.1" fill="#d92c45"/><circle cx="624.7" cy="1717.1" r="9.1" fill="url(#gr)"/>
<circle cx="653.3" cy="1715.4" r="9.1" fill="#d92c45"/><circle cx="653.3" cy="1715.4" r="9.1" fill="url(#gr)"/>
<circle cx="644.7" cy="1721.1" r="9.1" fill="#d92c45"/><circle cx="644.7" cy="1721.1" r="9.1" fill="url(#gr)"/>
<circle cx="618.4" cy="1727.9" r="9.1" fill="#d92c45"/><circle cx="618.4" cy="1727.9" r="9.1" fill="url(#gr)"/>
<circle cx="630.4" cy="1734.2" r="9.1" fill="#d92c45"/><circle cx="630.4" cy="1734.2" r="9.1" fill="url(#gr)"/>
<circle cx="611.6" cy="1738.8" r="9.1" fill="#d92c45"/><circle cx="611.6" cy="1738.8" r="9.1" fill="url(#gr)"/>
<circle cx="644.1" cy="1738.8" r="9.1" fill="#d92c45"/><circle cx="644.1" cy="1738.8" r="9.1" fill="url(#gr)"/>
<circle cx="626.4" cy="1743.9" r="9.1" fill="#d92c45"/><circle cx="626.4" cy="1743.9" r="9.1" fill="url(#gr)"/>
<circle cx="654.3" cy="1733.4" r="9.1" fill="#d92c45"/><circle cx="654.3" cy="1733.4" r="9.1" fill="url(#gr)"/>
<circle cx="658.9" cy="1722.0" r="9.1" fill="#d92c45"/><circle cx="658.9" cy="1722.0" r="9.1" fill="url(#gr)"/>
<circle cx="637.9" cy="1754.2" r="9.1" fill="#d92c45"/><circle cx="637.9" cy="1754.2" r="9.1" fill="url(#gr)"/>
<circle cx="613.3" cy="1761.1" r="9.1" fill="#d92c45"/><circle cx="613.3" cy="1761.1" r="9.1" fill="url(#gr)"/>
<circle cx="631.0" cy="1767.9" r="9.1" fill="#d92c45"/><circle cx="631.0" cy="1767.9" r="9.1" fill="url(#gr)"/>
<circle cx="648.6" cy="1758.6" r="9.1" fill="#d92c45"/><circle cx="648.6" cy="1758.6" r="9.1" fill="url(#gr)"/>
<circle cx="616.7" cy="1777.1" r="9.1" fill="#d92c45"/><circle cx="616.7" cy="1777.1" r="9.1" fill="url(#gr)"/>
<circle cx="633.7" cy="1771.1" r="9.1" fill="#d92c45"/><circle cx="633.7" cy="1771.1" r="9.1" fill="url(#gr)"/>
</g>
<g fill="#3b63b5">
<circle cx="857.0" cy="1705.5" r="9.1"/>
<circle cx="852.0" cy="1695.5" r="9.1"/>
<circle cx="852.0" cy="1689.0" r="9.1"/>
<circle cx="864.2" cy="1696.2" r="9.1"/>
<circle cx="853.1" cy="1703.0" r="9.1"/>
<circle cx="862.5" cy="1702.2" r="9.1"/>
<circle cx="854.0" cy="1722.0" r="9.1"/>
<circle cx="861.5" cy="1710.8" r="9.1"/>
<circle cx="847.5" cy="1713.8" r="9.1"/>
<circle cx="864.5" cy="1719.4" r="9.1"/>
<circle cx="849.5" cy="1721.4" r="9.1"/>
<circle cx="845.5" cy="1721.8" r="9.1"/>
<circle cx="848.5" cy="1739.3" r="9.1"/>
<circle cx="855.1" cy="1739.8" r="9.1"/>
<circle cx="840.9" cy="1689.5" r="9.1"/>
<circle cx="845.5" cy="1686.1" r="9.1"/>
<circle cx="838.5" cy="1687.5" r="9.1"/>
<circle cx="846.0" cy="1687.5" r="9.1"/>
<circle cx="839.5" cy="1697.2" r="9.1"/>
<circle cx="839.5" cy="1700.8" r="9.1"/>
<circle cx="847.1" cy="1701.5" r="9.1"/>
<circle cx="842.5" cy="1703.8" r="9.1"/>
<circle cx="847.6" cy="1466.3" r="9.1"/>
<circle cx="843.7" cy="1597.0" r="9.1"/>
<circle cx="851.4" cy="1603.2" r="9.1"/>
<circle cx="844.9" cy="1606.6" r="9.1"/>
<circle cx="836.5" cy="1608.1" r="9.1"/>
<circle cx="847.9" cy="1607.3" r="9.1"/>
<circle cx="839.5" cy="1608.8" r="9.1"/>
<circle cx="855.9" cy="1620.0" r="9.1"/>
<circle cx="844.1" cy="1614.2" r="9.1"/>
<circle cx="850.2" cy="1618.8" r="9.1"/>
<circle cx="841.8" cy="1620.3" r="9.1"/>
<circle cx="840.3" cy="1624.1" r="9.1"/>
<circle cx="830.4" cy="1629.4" r="9.1"/>
<circle cx="833.9" cy="1631.7" r="9.1"/>
<circle cx="834.4" cy="1633.4" r="9.1"/>
<circle cx="841.5" cy="1632.5" r="9.1"/>
<circle cx="849.0" cy="1633.2" r="9.1"/>
<circle cx="853.2" cy="1632.5" r="9.1"/>
<circle cx="849.5" cy="1634.5" r="9.1"/>
<circle cx="828.1" cy="1643.2" r="9.1"/>
<circle cx="842.6" cy="1640.8" r="9.1"/>
<circle cx="831.5" cy="1645.4" r="9.1"/>
<circle cx="843.1" cy="1642.0" r="9.1"/>
<circle cx="843.1" cy="1642.5" r="9.1"/>
<circle cx="823.5" cy="1657.7" r="9.1"/>
<circle cx="825.5" cy="1658.1" r="9.1"/>
<circle cx="824.0" cy="1672.1" r="9.1"/>
<circle cx="825.0" cy="1672.8" r="9.1"/>
<circle cx="860.1" cy="1666.0" r="9.1"/>
<circle cx="848.7" cy="1671.3" r="9.1"/>
<circle cx="851.9" cy="1654.2" r="9.1"/>
<circle cx="859.0" cy="1665.5" r="9.1"/>
<circle cx="849.3" cy="1672.8" r="9.1"/>
<circle cx="836.1" cy="1674.0" r="9.1"/>
<circle cx="839.5" cy="1676.7" r="9.1"/>
<circle cx="833.0" cy="1666.8" r="9.1"/>
<circle cx="837.1" cy="1674.7" r="9.1"/>
<circle cx="840.6" cy="1677.8" r="9.1"/>
<circle cx="844.7" cy="1674.7" r="9.1"/>
<circle cx="861.2" cy="1666.7" r="9.1"/>
<circle cx="836.9" cy="1679.0" r="9.1"/>
<circle cx="825.8" cy="1672.6" r="9.1"/>
<circle cx="837.5" cy="1673.8" r="9.1"/>
<circle cx="837.5" cy="1680.4" r="9.1"/>
<circle cx="840.9" cy="1676.5" r="9.1"/>
<circle cx="834.3" cy="1692.7" r="9.1"/>
<circle cx="849.8" cy="1672.1" r="9.1"/>
<circle cx="837.9" cy="1679.7" r="9.1"/>
<circle cx="843.6" cy="1643.8" r="9.1"/>
<circle cx="826.8" cy="1673.2" r="9.1"/>
<circle cx="850.5" cy="1673.5" r="9.1"/>
<circle cx="855.8" cy="1667.2" r="9.1"/>
<circle cx="838.5" cy="1674.5" r="9.1"/>
<circle cx="842.0" cy="1677.6" r="9.1"/>
<circle cx="846.1" cy="1674.5" r="9.1"/>
<circle cx="838.5" cy="1681.1" r="9.1"/>
<circle cx="831.9" cy="1690.8" r="9.1"/>
<circle cx="835.5" cy="1693.8" r="9.1"/>
<circle cx="835.5" cy="1697.3" r="9.1"/>
<circle cx="868.8" cy="1701.4" r="9.1"/>
<circle cx="840.5" cy="1704.7" r="9.1"/>
<circle cx="827.3" cy="1709.3" r="9.1"/>
<circle cx="836.0" cy="1707.0" r="9.1"/>
<circle cx="840.5" cy="1708.2" r="9.1"/>
<circle cx="827.3" cy="1712.8" r="9.1"/>
<circle cx="857.6" cy="1708.2" r="9.1"/>
<circle cx="845.7" cy="1718.9" r="9.1"/>
<circle cx="870.0" cy="1716.2" r="9.1"/>
<circle cx="830.4" cy="1715.9" r="9.1"/>
<circle cx="823.8" cy="1725.8" r="9.1"/>
<circle cx="841.0" cy="1721.2" r="9.1"/>
<circle cx="834.5" cy="1731.1" r="9.1"/>
<circle cx="844.1" cy="1738.8" r="9.1"/>
<circle cx="824.8" cy="1740.2" r="9.1"/>
<circle cx="829.9" cy="1742.3" r="9.1"/>
<circle cx="824.8" cy="1753.7" r="9.1"/>
<circle cx="829.9" cy="1755.8" r="9.1"/>
<circle cx="851.7" cy="1749.2" r="9.1"/>
<circle cx="860.8" cy="1757.1" r="9.1"/>
<circle cx="848.7" cy="1775.0" r="9.1"/>
<circle cx="855.5" cy="1778.9" r="9.1"/>
<circle cx="836.0" cy="1782.7" r="9.1"/>
<circle cx="849.0" cy="1783.4" r="9.1"/>
<circle cx="838.0" cy="1788.2" r="9.1"/>
<circle cx="855.5" cy="1793.9" r="9.1"/>
<circle cx="845.1" cy="1798.4" r="9.1"/>
<circle cx="850.7" cy="1795.7" r="9.1"/>
<circle cx="849.7" cy="1803.2" r="9.1"/>
</g>
<g>
<circle cx="858.0" cy="1697.0" r="9.1" fill="#3b63b5"/><circle cx="858.0" cy="1697.0" r="9.1" fill="url(#gb)"/>
<circle cx="856.0" cy="1714.0" r="9.1" fill="#3b63b5"/><circle cx="856.0" cy="1714.0" r="9.1" fill="url(#gb)"/>
<circle cx="852.0" cy="1730.0" r="9.1" fill="#3b63b5"/><circle cx="852.0" cy="1730.0" r="9.1" fill="url(#gb)"/>
<circle cx="846.0" cy="1694.0" r="9.1" fill="#3b63b5"/><circle cx="846.0" cy="1694.0" r="9.1" fill="url(#gb)"/>
<circle cx="849.5" cy="1446.7" r="9.1" fill="#3b63b5"/><circle cx="849.5" cy="1446.7" r="9.1" fill="url(#gb)"/>
<circle cx="850.8" cy="1458.1" r="9.1" fill="#3b63b5"/><circle cx="850.8" cy="1458.1" r="9.1" fill="url(#gb)"/>
<circle cx="844.4" cy="1474.6" r="9.1" fill="#3b63b5"/><circle cx="844.4" cy="1474.6" r="9.1" fill="url(#gb)"/>
<circle cx="848.3" cy="1513.3" r="9.1" fill="#3b63b5"/><circle cx="848.3" cy="1513.3" r="9.1" fill="url(#gb)"/>
<circle cx="863.4" cy="1547.4" r="9.1" fill="#3b63b5"/><circle cx="863.4" cy="1547.4" r="9.1" fill="url(#gb)"/>
<circle cx="870.0" cy="1580.3" r="9.1" fill="#3b63b5"/><circle cx="870.0" cy="1580.3" r="9.1" fill="url(#gb)"/>
<circle cx="850.2" cy="1593.6" r="9.1" fill="#3b63b5"/><circle cx="850.2" cy="1593.6" r="9.1" fill="url(#gb)"/>
<circle cx="837.2" cy="1600.5" r="9.1" fill="#3b63b5"/><circle cx="837.2" cy="1600.5" r="9.1" fill="url(#gb)"/>
<circle cx="843.3" cy="1602.0" r="9.1" fill="#3b63b5"/><circle cx="843.3" cy="1602.0" r="9.1" fill="url(#gb)"/>
<circle cx="863.9" cy="1615.0" r="9.1" fill="#3b63b5"/><circle cx="863.9" cy="1615.0" r="9.1" fill="url(#gb)"/>
<circle cx="852.5" cy="1612.7" r="9.1" fill="#3b63b5"/><circle cx="852.5" cy="1612.7" r="9.1" fill="url(#gb)"/>
<circle cx="835.7" cy="1615.7" r="9.1" fill="#3b63b5"/><circle cx="835.7" cy="1615.7" r="9.1" fill="url(#gb)"/>
<circle cx="832.7" cy="1623.3" r="9.1" fill="#3b63b5"/><circle cx="832.7" cy="1623.3" r="9.1" fill="url(#gb)"/>
<circle cx="847.9" cy="1624.9" r="9.1" fill="#3b63b5"/><circle cx="847.9" cy="1624.9" r="9.1" fill="url(#gb)"/>
<circle cx="828.1" cy="1635.5" r="9.1" fill="#3b63b5"/><circle cx="828.1" cy="1635.5" r="9.1" fill="url(#gb)"/>
<circle cx="835.0" cy="1640.1" r="9.1" fill="#3b63b5"/><circle cx="835.0" cy="1640.1" r="9.1" fill="url(#gb)"/>
<circle cx="850.2" cy="1641.6" r="9.1" fill="#3b63b5"/><circle cx="850.2" cy="1641.6" r="9.1" fill="url(#gb)"/>
<circle cx="858.6" cy="1640.1" r="9.1" fill="#3b63b5"/><circle cx="858.6" cy="1640.1" r="9.1" fill="url(#gb)"/>
<circle cx="828.1" cy="1650.8" r="9.1" fill="#3b63b5"/><circle cx="828.1" cy="1650.8" r="9.1" fill="url(#gb)"/>
<circle cx="819.0" cy="1664.5" r="9.1" fill="#3b63b5"/><circle cx="819.0" cy="1664.5" r="9.1" fill="url(#gb)"/>
<circle cx="852.5" cy="1664.5" r="9.1" fill="#3b63b5"/><circle cx="852.5" cy="1664.5" r="9.1" fill="url(#gb)"/>
<circle cx="843.3" cy="1668.3" r="9.1" fill="#3b63b5"/><circle cx="843.3" cy="1668.3" r="9.1" fill="url(#gb)"/>
<circle cx="867.7" cy="1667.5" r="9.1" fill="#3b63b5"/><circle cx="867.7" cy="1667.5" r="9.1" fill="url(#gb)"/>
<circle cx="828.9" cy="1679.7" r="9.1" fill="#3b63b5"/><circle cx="828.9" cy="1679.7" r="9.1" fill="url(#gb)"/>
<circle cx="835.7" cy="1685.0" r="9.1" fill="#3b63b5"/><circle cx="835.7" cy="1685.0" r="9.1" fill="url(#gb)"/>
<circle cx="844.9" cy="1678.2" r="9.1" fill="#3b63b5"/><circle cx="844.9" cy="1678.2" r="9.1" fill="url(#gb)"/>
<circle cx="836.0" cy="1643.5" r="9.1" fill="#3b63b5"/><circle cx="836.0" cy="1643.5" r="9.1" fill="url(#gb)"/>
<circle cx="851.2" cy="1644.0" r="9.1" fill="#3b63b5"/><circle cx="851.2" cy="1644.0" r="9.1" fill="url(#gb)"/>
<circle cx="822.8" cy="1665.4" r="9.1" fill="#3b63b5"/><circle cx="822.8" cy="1665.4" r="9.1" fill="url(#gb)"/>
<circle cx="854.8" cy="1665.9" r="9.1" fill="#3b63b5"/><circle cx="854.8" cy="1665.9" r="9.1" fill="url(#gb)"/>
<circle cx="865.5" cy="1666.4" r="9.1" fill="#3b63b5"/><circle cx="865.5" cy="1666.4" r="9.1" fill="url(#gb)"/>
<circle cx="846.1" cy="1667.9" r="9.1" fill="#3b63b5"/><circle cx="846.1" cy="1667.9" r="9.1" fill="url(#gb)"/>
<circle cx="830.9" cy="1681.1" r="9.1" fill="#3b63b5"/><circle cx="830.9" cy="1681.1" r="9.1" fill="url(#gb)"/>
<circle cx="838.0" cy="1687.2" r="9.1" fill="#3b63b5"/><circle cx="838.0" cy="1687.2" r="9.1" fill="url(#gb)"/>
<circle cx="846.1" cy="1681.1" r="9.1" fill="#3b63b5"/><circle cx="846.1" cy="1681.1" r="9.1" fill="url(#gb)"/>
<circle cx="870.5" cy="1695.3" r="9.1" fill="#3b63b5"/><circle cx="870.5" cy="1695.3" r="9.1" fill="url(#gb)"/>
<circle cx="832.9" cy="1700.4" r="9.1" fill="#3b63b5"/><circle cx="832.9" cy="1700.4" r="9.1" fill="url(#gb)"/>
<circle cx="832.9" cy="1707.5" r="9.1" fill="#3b63b5"/><circle cx="832.9" cy="1707.5" r="9.1" fill="url(#gb)"/>
<circle cx="848.2" cy="1709.0" r="9.1" fill="#3b63b5"/><circle cx="848.2" cy="1709.0" r="9.1" fill="url(#gb)"/>
<circle cx="867.0" cy="1707.5" r="9.1" fill="#3b63b5"/><circle cx="867.0" cy="1707.5" r="9.1" fill="url(#gb)"/>
<circle cx="821.8" cy="1718.2" r="9.1" fill="#3b63b5"/><circle cx="821.8" cy="1718.2" r="9.1" fill="url(#gb)"/>
<circle cx="839.0" cy="1713.6" r="9.1" fill="#3b63b5"/><circle cx="839.0" cy="1713.6" r="9.1" fill="url(#gb)"/>
<circle cx="873.1" cy="1724.8" r="9.1" fill="#3b63b5"/><circle cx="873.1" cy="1724.8" r="9.1" fill="url(#gb)"/>
<circle cx="843.1" cy="1728.8" r="9.1" fill="#3b63b5"/><circle cx="843.1" cy="1728.8" r="9.1" fill="url(#gb)"/>
<circle cx="825.8" cy="1733.4" r="9.1" fill="#3b63b5"/><circle cx="825.8" cy="1733.4" r="9.1" fill="url(#gb)"/>
<circle cx="823.8" cy="1747.1" r="9.1" fill="#3b63b5"/><circle cx="823.8" cy="1747.1" r="9.1" fill="url(#gb)"/>
<circle cx="834.0" cy="1751.2" r="9.1" fill="#3b63b5"/><circle cx="834.0" cy="1751.2" r="9.1" fill="url(#gb)"/>
<circle cx="845.1" cy="1748.7" r="9.1" fill="#3b63b5"/><circle cx="845.1" cy="1748.7" r="9.1" fill="url(#gb)"/>
<circle cx="858.3" cy="1749.7" r="9.1" fill="#3b63b5"/><circle cx="858.3" cy="1749.7" r="9.1" fill="url(#gb)"/>
<circle cx="825.8" cy="1760.3" r="9.1" fill="#3b63b5"/><circle cx="825.8" cy="1760.3" r="9.1" fill="url(#gb)"/>
<circle cx="863.4" cy="1764.4" r="9.1" fill="#3b63b5"/><circle cx="863.4" cy="1764.4" r="9.1" fill="url(#gb)"/>
<circle cx="855.3" cy="1770.5" r="9.1" fill="#3b63b5"/><circle cx="855.3" cy="1770.5" r="9.1" fill="url(#gb)"/>
<circle cx="842.1" cy="1779.6" r="9.1" fill="#3b63b5"/><circle cx="842.1" cy="1779.6" r="9.1" fill="url(#gb)"/>
<circle cx="829.9" cy="1785.7" r="9.1" fill="#3b63b5"/><circle cx="829.9" cy="1785.7" r="9.1" fill="url(#gb)"/>
<circle cx="855.8" cy="1787.3" r="9.1" fill="#3b63b5"/><circle cx="855.8" cy="1787.3" r="9.1" fill="url(#gb)"/>
<circle cx="846.1" cy="1790.8" r="9.1" fill="#3b63b5"/><circle cx="846.1" cy="1790.8" r="9.1" fill="url(#gb)"/>
<circle cx="844.1" cy="1806.0" r="9.1" fill="#3b63b5"/><circle cx="844.1" cy="1806.0" r="9.1" fill="url(#gb)"/>
<circle cx="855.3" cy="1800.5" r="9.1" fill="#3b63b5"/><circle cx="855.3" cy="1800.5" r="9.1" fill="url(#gb)"/>
</g>
<g fill="#45a466">
<circle cx="1059.0" cy="1525.7" r="9.1"/>
<circle cx="1073.2" cy="1522.2" r="9.1"/>
<circle cx="1072.5" cy="1531.2" r="9.1"/>
<circle cx="1066.2" cy="1535.0" r="9.1"/>
<circle cx="1061.1" cy="1536.7" r="9.1"/>
<circle cx="1059.5" cy="1398.5" r="9.1"/>
<circle cx="1068.8" cy="1390.8" r="9.1"/>
<circle cx="1058.6" cy="1397.6" r="9.1"/>
<circle cx="1061.3" cy="1400.2" r="9.1"/>
<circle cx="1061.0" cy="1388.2" r="9.1"/>
<circle cx="1070.3" cy="1393.3" r="9.1"/>
<circle cx="1062.8" cy="1402.7" r="9.1"/>
<circle cx="1079.5" cy="1426.3" r="9.1"/>
<circle cx="1082.1" cy="1428.5" r="9.1"/>
<circle cx="1068.5" cy="1440.3" r="9.1"/>
<circle cx="1071.1" cy="1442.5" r="9.1"/>
<circle cx="1062.6" cy="1456.1" r="9.1"/>
<circle cx="1065.3" cy="1460.8" r="9.1"/>
<circle cx="1057.8" cy="1471.4" r="9.1"/>
<circle cx="1061.2" cy="1484.6" r="9.1"/>
<circle cx="1060.0" cy="1488.8" r="9.1"/>
<circle cx="1071.9" cy="1486.7" r="9.1"/>
<circle cx="1070.7" cy="1490.9" r="9.1"/>
<circle cx="1072.3" cy="1492.2" r="9.1"/>
<circle cx="1058.2" cy="1495.6" r="9.1"/>
<circle cx="1071.0" cy="1496.5" r="9.1"/>
<circle cx="1057.0" cy="1499.9" r="9.1"/>
<circle cx="1057.4" cy="1509.2" r="9.1"/>
<circle cx="1063.4" cy="1507.2" r="9.1"/>
<circle cx="1057.8" cy="1519.9" r="9.1"/>
<circle cx="1072.1" cy="1516.5" r="9.1"/>
<circle cx="1049.8" cy="1531.3" r="9.1"/>
<circle cx="1079.8" cy="1525.4" r="9.1"/>
<circle cx="1072.8" cy="1538.2" r="9.1"/>
<circle cx="1057.0" cy="1540.7" r="9.1"/>
<circle cx="1040.8" cy="1542.8" r="9.1"/>
<circle cx="1051.4" cy="1547.9" r="9.1"/>
<circle cx="1076.0" cy="1539.5" r="9.1"/>
<circle cx="1060.8" cy="1549.2" r="9.1"/>
<circle cx="1069.2" cy="1548.8" r="9.1"/>
<circle cx="1064.1" cy="1550.5" r="9.1"/>
<circle cx="1063.6" cy="1556.0" r="9.1"/>
<circle cx="1055.8" cy="1566.2" r="9.1"/>
<circle cx="1081.2" cy="1559.0" r="9.1"/>
<circle cx="1085.7" cy="1570.9" r="9.1"/>
<circle cx="1088.9" cy="1572.7" r="9.1"/>
<circle cx="1047.2" cy="1573.0" r="9.1"/>
<circle cx="1060.5" cy="1581.5" r="9.1"/>
<circle cx="1071.9" cy="1579.4" r="9.1"/>
<circle cx="1072.8" cy="1583.2" r="9.1"/>
<circle cx="1057.0" cy="1593.0" r="9.1"/>
<circle cx="1074.0" cy="1628.3" r="9.1"/>
<circle cx="1062.6" cy="1636.4" r="9.1"/>
<circle cx="1071.9" cy="1640.7" r="9.1"/>
<circle cx="1065.6" cy="1644.0" r="9.1"/>
<circle cx="1055.3" cy="1647.4" r="9.1"/>
<circle cx="1071.5" cy="1656.8" r="9.1"/>
<circle cx="1076.2" cy="1658.1" r="9.1"/>
<circle cx="1061.3" cy="1660.2" r="9.1"/>
<circle cx="1068.9" cy="1671.2" r="9.1"/>
<circle cx="1073.6" cy="1672.6" r="9.1"/>
<circle cx="1046.0" cy="1686.2" r="9.1"/>
<circle cx="1059.3" cy="1676.4" r="9.1"/>
<circle cx="1055.1" cy="1681.1" r="9.1"/>
<circle cx="1049.6" cy="1684.5" r="9.1"/>
<circle cx="1065.5" cy="1681.9" r="9.1"/>
<circle cx="1055.8" cy="1690.0" r="9.1"/>
<circle cx="1055.3" cy="1701.1" r="9.1"/>
</g>
<g>
<circle cx="1066.0" cy="1528.0" r="9.1" fill="#45a466"/><circle cx="1066.0" cy="1528.0" r="9.1" fill="url(#gg)"/>
<circle cx="1061.0" cy="1391.0" r="9.1" fill="#45a466"/><circle cx="1061.0" cy="1391.0" r="9.1" fill="url(#gg)"/>
<circle cx="1058.0" cy="1406.0" r="9.1" fill="#45a466"/><circle cx="1058.0" cy="1406.0" r="9.1" fill="url(#gg)"/>
<circle cx="1064.0" cy="1396.0" r="9.1" fill="#45a466"/><circle cx="1064.0" cy="1396.0" r="9.1" fill="url(#gg)"/>
<circle cx="1057.9" cy="1380.4" r="9.1" fill="#45a466"/><circle cx="1057.9" cy="1380.4" r="9.1" fill="url(#gg)"/>
<circle cx="1076.6" cy="1390.6" r="9.1" fill="#45a466"/><circle cx="1076.6" cy="1390.6" r="9.1" fill="url(#gg)"/>
<circle cx="1056.2" cy="1404.2" r="9.1" fill="#45a466"/><circle cx="1056.2" cy="1404.2" r="9.1" fill="url(#gg)"/>
<circle cx="1061.7" cy="1409.3" r="9.1" fill="#45a466"/><circle cx="1061.7" cy="1409.3" r="9.1" fill="url(#gg)"/>
<circle cx="1088.5" cy="1421.2" r="9.1" fill="#45a466"/><circle cx="1088.5" cy="1421.2" r="9.1" fill="url(#gg)"/>
<circle cx="1070.6" cy="1431.4" r="9.1" fill="#45a466"/><circle cx="1070.6" cy="1431.4" r="9.1" fill="url(#gg)"/>
<circle cx="1075.7" cy="1435.7" r="9.1" fill="#45a466"/><circle cx="1075.7" cy="1435.7" r="9.1" fill="url(#gg)"/>
<circle cx="1066.4" cy="1449.3" r="9.1" fill="#45a466"/><circle cx="1066.4" cy="1449.3" r="9.1" fill="url(#gg)"/>
<circle cx="1058.7" cy="1462.9" r="9.1" fill="#45a466"/><circle cx="1058.7" cy="1462.9" r="9.1" fill="url(#gg)"/>
<circle cx="1071.9" cy="1458.7" r="9.1" fill="#45a466"/><circle cx="1071.9" cy="1458.7" r="9.1" fill="url(#gg)"/>
<circle cx="1057.0" cy="1479.9" r="9.1" fill="#45a466"/><circle cx="1057.0" cy="1479.9" r="9.1" fill="url(#gg)"/>
<circle cx="1078.3" cy="1484.1" r="9.1" fill="#45a466"/><circle cx="1078.3" cy="1484.1" r="9.1" fill="url(#gg)"/>
<circle cx="1065.5" cy="1489.2" r="9.1" fill="#45a466"/><circle cx="1065.5" cy="1489.2" r="9.1" fill="url(#gg)"/>
<circle cx="1079.1" cy="1495.2" r="9.1" fill="#45a466"/><circle cx="1079.1" cy="1495.2" r="9.1" fill="url(#gg)"/>
<circle cx="1051.0" cy="1502.0" r="9.1" fill="#45a466"/><circle cx="1051.0" cy="1502.0" r="9.1" fill="url(#gg)"/>
<circle cx="1063.0" cy="1497.8" r="9.1" fill="#45a466"/><circle cx="1063.0" cy="1497.8" r="9.1" fill="url(#gg)"/>
<circle cx="1063.8" cy="1516.5" r="9.1" fill="#45a466"/><circle cx="1063.8" cy="1516.5" r="9.1" fill="url(#gg)"/>
<circle cx="1051.9" cy="1523.3" r="9.1" fill="#45a466"/><circle cx="1051.9" cy="1523.3" r="9.1" fill="url(#gg)"/>
<circle cx="1080.4" cy="1516.5" r="9.1" fill="#45a466"/><circle cx="1080.4" cy="1516.5" r="9.1" fill="url(#gg)"/>
<circle cx="1079.1" cy="1534.3" r="9.1" fill="#45a466"/><circle cx="1079.1" cy="1534.3" r="9.1" fill="url(#gg)"/>
<circle cx="1047.6" cy="1539.4" r="9.1" fill="#45a466"/><circle cx="1047.6" cy="1539.4" r="9.1" fill="url(#gg)"/>
<circle cx="1066.4" cy="1542.0" r="9.1" fill="#45a466"/><circle cx="1066.4" cy="1542.0" r="9.1" fill="url(#gg)"/>
<circle cx="1056.2" cy="1545.4" r="9.1" fill="#45a466"/><circle cx="1056.2" cy="1545.4" r="9.1" fill="url(#gg)"/>
<circle cx="1034.0" cy="1546.2" r="9.1" fill="#45a466"/><circle cx="1034.0" cy="1546.2" r="9.1" fill="url(#gg)"/>
<circle cx="1085.5" cy="1536.9" r="9.1" fill="#45a466"/><circle cx="1085.5" cy="1536.9" r="9.1" fill="url(#gg)"/>
<circle cx="1055.3" cy="1556.4" r="9.1" fill="#45a466"/><circle cx="1055.3" cy="1556.4" r="9.1" fill="url(#gg)"/>
<circle cx="1071.9" cy="1555.6" r="9.1" fill="#45a466"/><circle cx="1071.9" cy="1555.6" r="9.1" fill="url(#gg)"/>
<circle cx="1090.6" cy="1562.4" r="9.1" fill="#45a466"/><circle cx="1090.6" cy="1562.4" r="9.1" fill="url(#gg)"/>
<circle cx="1038.3" cy="1570.1" r="9.1" fill="#45a466"/><circle cx="1038.3" cy="1570.1" r="9.1" fill="url(#gg)"/>
<circle cx="1056.2" cy="1576.0" r="9.1" fill="#45a466"/><circle cx="1056.2" cy="1576.0" r="9.1" fill="url(#gg)"/>
<circle cx="1063.0" cy="1579.4" r="9.1" fill="#45a466"/><circle cx="1063.0" cy="1579.4" r="9.1" fill="url(#gg)"/>
<circle cx="1080.8" cy="1579.4" r="9.1" fill="#45a466"/><circle cx="1080.8" cy="1579.4" r="9.1" fill="url(#gg)"/>
<circle cx="1064.7" cy="1587.1" r="9.1" fill="#45a466"/><circle cx="1064.7" cy="1587.1" r="9.1" fill="url(#gg)"/>
<circle cx="1087.2" cy="1582.9" r="9.1" fill="#45a466"/><circle cx="1087.2" cy="1582.9" r="9.1" fill="url(#gg)"/>
<circle cx="1049.3" cy="1599.0" r="9.1" fill="#45a466"/><circle cx="1049.3" cy="1599.0" r="9.1" fill="url(#gg)"/>
<circle cx="1080.8" cy="1614.3" r="9.1" fill="#45a466"/><circle cx="1080.8" cy="1614.3" r="9.1" fill="url(#gg)"/>
<circle cx="1079.1" cy="1623.6" r="9.1" fill="#45a466"/><circle cx="1079.1" cy="1623.6" r="9.1" fill="url(#gg)"/>
<circle cx="1068.9" cy="1633.0" r="9.1" fill="#45a466"/><circle cx="1068.9" cy="1633.0" r="9.1" fill="url(#gg)"/>
<circle cx="1056.2" cy="1639.8" r="9.1" fill="#45a466"/><circle cx="1056.2" cy="1639.8" r="9.1" fill="url(#gg)"/>
<circle cx="1074.9" cy="1648.3" r="9.1" fill="#45a466"/><circle cx="1074.9" cy="1648.3" r="9.1" fill="url(#gg)"/>
<circle cx="1054.5" cy="1655.1" r="9.1" fill="#45a466"/><circle cx="1054.5" cy="1655.1" r="9.1" fill="url(#gg)"/>
<circle cx="1068.1" cy="1665.3" r="9.1" fill="#45a466"/><circle cx="1068.1" cy="1665.3" r="9.1" fill="url(#gg)"/>
<circle cx="1077.4" cy="1667.9" r="9.1" fill="#45a466"/><circle cx="1077.4" cy="1667.9" r="9.1" fill="url(#gg)"/>
<circle cx="1041.7" cy="1678.9" r="9.1" fill="#45a466"/><circle cx="1041.7" cy="1678.9" r="9.1" fill="url(#gg)"/>
<circle cx="1048.9" cy="1675.6" r="9.1" fill="#45a466"/><circle cx="1048.9" cy="1675.6" r="9.1" fill="url(#gg)"/>
<circle cx="1069.8" cy="1677.2" r="9.1" fill="#45a466"/><circle cx="1069.8" cy="1677.2" r="9.1" fill="url(#gg)"/>
<circle cx="1061.3" cy="1686.6" r="9.1" fill="#45a466"/><circle cx="1061.3" cy="1686.6" r="9.1" fill="url(#gg)"/>
<circle cx="1050.2" cy="1693.4" r="9.1" fill="#45a466"/><circle cx="1050.2" cy="1693.4" r="9.1" fill="url(#gg)"/>
<circle cx="1060.4" cy="1708.7" r="9.1" fill="#45a466"/><circle cx="1060.4" cy="1708.7" r="9.1" fill="url(#gg)"/>
</g>
<g fill="#8c67b6">
<circle cx="1286.0" cy="1234.0" r="9.1"/>
<circle cx="1283.0" cy="1311.8" r="9.1"/>
<circle cx="1274.3" cy="1322.4" r="9.1"/>
<circle cx="1286.8" cy="1329.2" r="9.1"/>
<circle cx="1290.9" cy="1344.0" r="9.1"/>
<circle cx="1287.6" cy="1407.0" r="9.1"/>
<circle cx="1286.8" cy="1411.5" r="9.1"/>
<circle cx="1275.4" cy="1415.8" r="9.1"/>
<circle cx="1274.7" cy="1420.4" r="9.1"/>
<circle cx="1284.1" cy="1426.0" r="9.1"/>
<circle cx="1268.7" cy="1450.2" r="9.1"/>
<circle cx="1271.7" cy="1447.8" r="9.1"/>
<circle cx="1293.8" cy="1446.5" r="9.1"/>
<circle cx="1270.9" cy="1467.8" r="9.1"/>
<circle cx="1284.0" cy="1453.2" r="9.1"/>
<circle cx="1269.1" cy="1483.5" r="9.1"/>
<circle cx="1270.4" cy="1484.2" r="9.1"/>
<circle cx="1271.4" cy="1487.8" r="9.1"/>
<circle cx="1285.0" cy="1489.8" r="9.1"/>
<circle cx="1276.4" cy="1496.1" r="9.1"/>
<circle cx="1260.8" cy="1497.8" r="9.1"/>
<circle cx="1270.1" cy="1497.8" r="9.1"/>
<circle cx="1256.5" cy="1498.4" r="9.1"/>
<circle cx="1299.5" cy="1497.1" r="9.1"/>
<circle cx="1298.9" cy="1501.1" r="9.1"/>
<circle cx="1299.5" cy="1502.7" r="9.1"/>
<circle cx="1265.8" cy="1506.0" r="9.1"/>
<circle cx="1260.5" cy="1512.7" r="9.1"/>
<circle cx="1283.7" cy="1505.3" r="9.1"/>
<circle cx="1269.8" cy="1512.7" r="9.1"/>
<circle cx="1280.0" cy="1514.0" r="9.1"/>
<circle cx="1298.9" cy="1506.7" r="9.1"/>
<circle cx="1288.7" cy="1513.3" r="9.1"/>
<circle cx="1274.8" cy="1520.6" r="9.1"/>
<circle cx="1294.8" cy="1533.2" r="9.1"/>
<circle cx="1291.6" cy="1538.5" r="9.1"/>
<circle cx="1298.1" cy="1540.5" r="9.1"/>
<circle cx="1276.3" cy="1551.7" r="9.1"/>
<circle cx="1271.1" cy="1558.3" r="9.1"/>
<circle cx="1289.6" cy="1550.3" r="9.1"/>
<circle cx="1296.9" cy="1553.7" r="9.1"/>
<circle cx="1291.6" cy="1558.3" r="9.1"/>
<circle cx="1279.0" cy="1561.6" r="9.1"/>
<circle cx="1283.0" cy="1563.0" r="9.1"/>
<circle cx="1288.1" cy="1563.0" r="9.1"/>
<circle cx="1290.3" cy="1566.2" r="9.1"/>
<circle cx="1282.8" cy="1569.6" r="9.1"/>
<circle cx="1279.1" cy="1580.2" r="9.1"/>
<circle cx="1273.8" cy="1582.8" r="9.1"/>
<circle cx="1266.3" cy="1584.8" r="9.1"/>
<circle cx="1269.0" cy="1591.5" r="9.1"/>
<circle cx="1271.8" cy="1597.7" r="9.1"/>
<circle cx="1279.1" cy="1597.3" r="9.1"/>
<circle cx="1289.7" cy="1598.7" r="9.1"/>
<circle cx="1264.3" cy="1599.7" r="9.1"/>
<circle cx="1303.8" cy="1610.6" r="9.1"/>
<circle cx="1274.4" cy="1605.6" r="9.1"/>
<circle cx="1269.8" cy="1614.6" r="9.1"/>
<circle cx="1275.0" cy="1611.6" r="9.1"/>
<circle cx="1277.1" cy="1614.2" r="9.1"/>
<circle cx="1277.7" cy="1620.2" r="9.1"/>
<circle cx="1293.2" cy="1618.8" r="9.1"/>
<circle cx="1279.7" cy="1645.3" r="9.1"/>
<circle cx="1293.6" cy="1645.3" r="9.1"/>
<circle cx="1267.1" cy="1651.9" r="9.1"/>
<circle cx="1269.5" cy="1656.2" r="9.1"/>
<circle cx="1280.5" cy="1650.7" r="9.1"/>
<circle cx="1294.4" cy="1650.7" r="9.1"/>
<circle cx="1268.8" cy="1670.1" r="9.1"/>
<circle cx="1280.7" cy="1678.1" r="9.1"/>
</g>
<g>
<circle cx="1277.7" cy="1179.9" r="9.1" fill="#8c67b6"/><circle cx="1277.7" cy="1179.9" r="9.1" fill="url(#gp)"/>
<circle cx="1292.1" cy="1197.3" r="9.1" fill="#8c67b6"/><circle cx="1292.1" cy="1197.3" r="9.1" fill="url(#gp)"/>
<circle cx="1277.0" cy="1221.5" r="9.1" fill="#8c67b6"/><circle cx="1277.0" cy="1221.5" r="9.1" fill="url(#gp)"/>
<circle cx="1277.7" cy="1232.1" r="9.1" fill="#8c67b6"/><circle cx="1277.7" cy="1232.1" r="9.1" fill="url(#gp)"/>
<circle cx="1294.3" cy="1235.9" r="9.1" fill="#8c67b6"/><circle cx="1294.3" cy="1235.9" r="9.1" fill="url(#gp)"/>
<circle cx="1290.6" cy="1268.2" r="9.1" fill="#8c67b6"/><circle cx="1290.6" cy="1268.2" r="9.1" fill="url(#gp)"/>
<circle cx="1291.3" cy="1277.5" r="9.1" fill="#8c67b6"/><circle cx="1291.3" cy="1277.5" r="9.1" fill="url(#gp)"/>
<circle cx="1283.0" cy="1302.4" r="9.1" fill="#8c67b6"/><circle cx="1283.0" cy="1302.4" r="9.1" fill="url(#gp)"/>
<circle cx="1265.6" cy="1323.6" r="9.1" fill="#8c67b6"/><circle cx="1265.6" cy="1323.6" r="9.1" fill="url(#gp)"/>
<circle cx="1283.0" cy="1321.3" r="9.1" fill="#8c67b6"/><circle cx="1283.0" cy="1321.3" r="9.1" fill="url(#gp)"/>
<circle cx="1290.6" cy="1337.2" r="9.1" fill="#8c67b6"/><circle cx="1290.6" cy="1337.2" r="9.1" fill="url(#gp)"/>
<circle cx="1291.3" cy="1350.8" r="9.1" fill="#8c67b6"/><circle cx="1291.3" cy="1350.8" r="9.1" fill="url(#gp)"/>
<circle cx="1270.9" cy="1363.7" r="9.1" fill="#8c67b6"/><circle cx="1270.9" cy="1363.7" r="9.1" fill="url(#gp)"/>
<circle cx="1289.8" cy="1374.3" r="9.1" fill="#8c67b6"/><circle cx="1289.8" cy="1374.3" r="9.1" fill="url(#gp)"/>
<circle cx="1297.4" cy="1381.1" r="9.1" fill="#8c67b6"/><circle cx="1297.4" cy="1381.1" r="9.1" fill="url(#gp)"/>
<circle cx="1271.7" cy="1388.6" r="9.1" fill="#8c67b6"/><circle cx="1271.7" cy="1388.6" r="9.1" fill="url(#gp)"/>
<circle cx="1292.9" cy="1403.5" r="9.1" fill="#8c67b6"/><circle cx="1292.9" cy="1403.5" r="9.1" fill="url(#gp)"/>
<circle cx="1282.2" cy="1410.5" r="9.1" fill="#8c67b6"/><circle cx="1282.2" cy="1410.5" r="9.1" fill="url(#gp)"/>
<circle cx="1268.6" cy="1421.2" r="9.1" fill="#8c67b6"/><circle cx="1268.6" cy="1421.2" r="9.1" fill="url(#gp)"/>
<circle cx="1280.7" cy="1419.6" r="9.1" fill="#8c67b6"/><circle cx="1280.7" cy="1419.6" r="9.1" fill="url(#gp)"/>
<circle cx="1287.5" cy="1432.5" r="9.1" fill="#8c67b6"/><circle cx="1287.5" cy="1432.5" r="9.1" fill="url(#gp)"/>
<circle cx="1268.6" cy="1442.3" r="9.1" fill="#8c67b6"/><circle cx="1268.6" cy="1442.3" r="9.1" fill="url(#gp)"/>
<circle cx="1294.4" cy="1439.8" r="9.1" fill="#8c67b6"/><circle cx="1294.4" cy="1439.8" r="9.1" fill="url(#gp)"/>
<circle cx="1268.7" cy="1458.0" r="9.1" fill="#8c67b6"/><circle cx="1268.7" cy="1458.0" r="9.1" fill="url(#gp)"/>
<circle cx="1298.2" cy="1464.0" r="9.1" fill="#8c67b6"/><circle cx="1298.2" cy="1464.0" r="9.1" fill="url(#gp)"/>
<circle cx="1274.7" cy="1453.2" r="9.1" fill="#8c67b6"/><circle cx="1274.7" cy="1453.2" r="9.1" fill="url(#gp)"/>
<circle cx="1293.2" cy="1453.2" r="9.1" fill="#8c67b6"/><circle cx="1293.2" cy="1453.2" r="9.1" fill="url(#gp)"/>
<circle cx="1273.1" cy="1477.6" r="9.1" fill="#8c67b6"/><circle cx="1273.1" cy="1477.6" r="9.1" fill="url(#gp)"/>
<circle cx="1263.1" cy="1482.2" r="9.1" fill="#8c67b6"/><circle cx="1263.1" cy="1482.2" r="9.1" fill="url(#gp)"/>
<circle cx="1277.7" cy="1486.2" r="9.1" fill="#8c67b6"/><circle cx="1277.7" cy="1486.2" r="9.1" fill="url(#gp)"/>
<circle cx="1265.1" cy="1489.5" r="9.1" fill="#8c67b6"/><circle cx="1265.1" cy="1489.5" r="9.1" fill="url(#gp)"/>
<circle cx="1256.5" cy="1490.8" r="9.1" fill="#8c67b6"/><circle cx="1256.5" cy="1490.8" r="9.1" fill="url(#gp)"/>
<circle cx="1292.3" cy="1493.5" r="9.1" fill="#8c67b6"/><circle cx="1292.3" cy="1493.5" r="9.1" fill="url(#gp)"/>
<circle cx="1306.8" cy="1500.7" r="9.1" fill="#8c67b6"/><circle cx="1306.8" cy="1500.7" r="9.1" fill="url(#gp)"/>
<circle cx="1256.5" cy="1506.0" r="9.1" fill="#8c67b6"/><circle cx="1256.5" cy="1506.0" r="9.1" fill="url(#gp)"/>
<circle cx="1275.1" cy="1506.0" r="9.1" fill="#8c67b6"/><circle cx="1275.1" cy="1506.0" r="9.1" fill="url(#gp)"/>
<circle cx="1292.3" cy="1504.7" r="9.1" fill="#8c67b6"/><circle cx="1292.3" cy="1504.7" r="9.1" fill="url(#gp)"/>
<circle cx="1305.5" cy="1508.7" r="9.1" fill="#8c67b6"/><circle cx="1305.5" cy="1508.7" r="9.1" fill="url(#gp)"/>
<circle cx="1264.5" cy="1519.3" r="9.1" fill="#8c67b6"/><circle cx="1264.5" cy="1519.3" r="9.1" fill="url(#gp)"/>
<circle cx="1285.0" cy="1521.9" r="9.1" fill="#8c67b6"/><circle cx="1285.0" cy="1521.9" r="9.1" fill="url(#gp)"/>
<circle cx="1288.3" cy="1531.2" r="9.1" fill="#8c67b6"/><circle cx="1288.3" cy="1531.2" r="9.1" fill="url(#gp)"/>
<circle cx="1301.2" cy="1535.3" r="9.1" fill="#8c67b6"/><circle cx="1301.2" cy="1535.3" r="9.1" fill="url(#gp)"/>
<circle cx="1268.4" cy="1548.4" r="9.1" fill="#8c67b6"/><circle cx="1268.4" cy="1548.4" r="9.1" fill="url(#gp)"/>
<circle cx="1294.9" cy="1545.7" r="9.1" fill="#8c67b6"/><circle cx="1294.9" cy="1545.7" r="9.1" fill="url(#gp)"/>
<circle cx="1284.3" cy="1555.0" r="9.1" fill="#8c67b6"/><circle cx="1284.3" cy="1555.0" r="9.1" fill="url(#gp)"/>
<circle cx="1298.9" cy="1561.6" r="9.1" fill="#8c67b6"/><circle cx="1298.9" cy="1561.6" r="9.1" fill="url(#gp)"/>
<circle cx="1273.7" cy="1568.2" r="9.1" fill="#8c67b6"/><circle cx="1273.7" cy="1568.2" r="9.1" fill="url(#gp)"/>
<circle cx="1281.7" cy="1570.9" r="9.1" fill="#8c67b6"/><circle cx="1281.7" cy="1570.9" r="9.1" fill="url(#gp)"/>
<circle cx="1271.1" cy="1576.2" r="9.1" fill="#8c67b6"/><circle cx="1271.1" cy="1576.2" r="9.1" fill="url(#gp)"/>
<circle cx="1291.9" cy="1571.0" r="9.1" fill="#8c67b6"/><circle cx="1291.9" cy="1571.0" r="9.1" fill="url(#gp)"/>
<circle cx="1276.4" cy="1589.4" r="9.1" fill="#8c67b6"/><circle cx="1276.4" cy="1589.4" r="9.1" fill="url(#gp)"/>
<circle cx="1297.6" cy="1592.0" r="9.1" fill="#8c67b6"/><circle cx="1297.6" cy="1592.0" r="9.1" fill="url(#gp)"/>
<circle cx="1261.5" cy="1593.5" r="9.1" fill="#8c67b6"/><circle cx="1261.5" cy="1593.5" r="9.1" fill="url(#gp)"/>
<circle cx="1304.2" cy="1600.7" r="9.1" fill="#8c67b6"/><circle cx="1304.2" cy="1600.7" r="9.1" fill="url(#gp)"/>
<circle cx="1267.1" cy="1605.9" r="9.1" fill="#8c67b6"/><circle cx="1267.1" cy="1605.9" r="9.1" fill="url(#gp)"/>
<circle cx="1281.7" cy="1605.3" r="9.1" fill="#8c67b6"/><circle cx="1281.7" cy="1605.3" r="9.1" fill="url(#gp)"/>
<circle cx="1272.4" cy="1623.2" r="9.1" fill="#8c67b6"/><circle cx="1272.4" cy="1623.2" r="9.1" fill="url(#gp)"/>
<circle cx="1283.0" cy="1617.2" r="9.1" fill="#8c67b6"/><circle cx="1283.0" cy="1617.2" r="9.1" fill="url(#gp)"/>
<circle cx="1303.5" cy="1620.5" r="9.1" fill="#8c67b6"/><circle cx="1303.5" cy="1620.5" r="9.1" fill="url(#gp)"/>
<circle cx="1285.0" cy="1641.0" r="9.1" fill="#8c67b6"/><circle cx="1285.0" cy="1641.0" r="9.1" fill="url(#gp)"/>
<circle cx="1274.4" cy="1649.6" r="9.1" fill="#8c67b6"/><circle cx="1274.4" cy="1649.6" r="9.1" fill="url(#gp)"/>
<circle cx="1302.2" cy="1649.6" r="9.1" fill="#8c67b6"/><circle cx="1302.2" cy="1649.6" r="9.1" fill="url(#gp)"/>
<circle cx="1259.8" cy="1654.3" r="9.1" fill="#8c67b6"/><circle cx="1259.8" cy="1654.3" r="9.1" fill="url(#gp)"/>
<circle cx="1264.5" cy="1662.8" r="9.1" fill="#8c67b6"/><circle cx="1264.5" cy="1662.8" r="9.1" fill="url(#gp)"/>
<circle cx="1286.6" cy="1651.8" r="9.1" fill="#8c67b6"/><circle cx="1286.6" cy="1651.8" r="9.1" fill="url(#gp)"/>
<circle cx="1273.1" cy="1677.4" r="9.1" fill="#8c67b6"/><circle cx="1273.1" cy="1677.4" r="9.1" fill="url(#gp)"/>
<circle cx="1288.3" cy="1678.7" r="9.1" fill="#8c67b6"/><circle cx="1288.3" cy="1678.7" r="9.1" fill="url(#gp)"/>
<circle cx="1273.7" cy="1698.6" r="9.1" fill="#8c67b6"/><circle cx="1273.7" cy="1698.6" r="9.1" fill="url(#gp)"/>
</g>
<path d="M409.3,1652.3L419.7,1662.7M409.3,1662.7L419.7,1652.3" stroke="#48484f" stroke-width="0.9" fill="none"/>
<path d="M302.0,182.7 L303.0,181.1 L304.0,182.1 L305.0,181.8 L306.0,181.8 L307.0,181.9 L308.0,181.3 L309.0,181.9 L310.0,181.7 L311.0,183.1 L312.0,182.0 L313.0,181.8 L314.0,181.8 L315.0,181.7 L316.0,181.6 L317.0,181.8 L318.0,182.1 L319.0,181.8 L320.0,182.2 L321.0,181.8 L322.0,181.9 L323.0,182.4 L324.0,182.1 L325.0,181.7 L326.0,181.8 L327.0,182.0 L328.0,182.5 L329.0,181.7 L330.0,181.7 L331.0,182.2 L332.0,181.5 L333.0,181.7 L334.0,182.1 L335.0,182.0 L336.0,181.8 L337.0,182.0 L338.0,180.8 L339.0,182.1 L340.0,181.4 L341.0,181.1 L342.0,181.8 L343.0,181.9 L344.0,181.5 L345.0,181.3 L346.0,181.7 L347.0,181.6 L348.0,182.1 L349.0,181.9 L350.0,181.7 L351.0,182.0 L352.0,181.5 L353.0,181.2 L354.0,181.7 L355.0,181.7 L356.0,181.4 L357.0,181.2 L358.0,181.5 L359.0,180.6 L360.0,181.7 L361.0,181.6 L362.0,180.8 L363.0,181.4 L364.0,181.0 L365.0,181.6 L366.0,180.6 L367.0,180.9 L368.0,181.5 L369.0,181.6 L370.0,180.4 L371.0,181.0 L372.0,181.2 L373.0,180.9 L374.0,181.6 L375.0,180.6 L376.0,181.1 L377.0,180.6 L378.0,181.4 L379.0,180.8 L380.0,180.7 L381.0,180.2 L382.0,181.3 L383.0,180.9 L384.0,180.9 L385.0,181.0 L386.0,180.6 L387.0,180.2 L388.0,180.1 L389.0,180.1 L390.0,180.8 L391.0,179.7 L392.0,179.9 L393.0,180.0 L394.0,180.1 L395.0,180.1 L396.0,179.4 L397.0,179.1 L398.0,179.6 L399.0,180.0 L400.0,179.7 L401.0,179.4 L402.0,179.1 L403.0,179.2 L404.0,178.9 L405.0,179.1 L406.0,178.4 L407.0,178.6 L408.0,178.3 L409.0,178.4 L410.0,178.1 L411.0,178.7 L412.0,178.1 L413.0,177.9 L414.0,176.4 L415.0,176.8 L416.0,176.4 L417.0,176.5 L418.0,175.2 L419.0,176.1 L420.0,175.6 L421.0,174.4 L422.0,174.1 L423.0,173.7 L424.0,173.5 L425.0,173.1 L426.0,173.0 L427.0,171.6 L428.0,171.2 L429.0,170.3 L430.0,170.0 L431.0,168.7 L432.0,168.0 L433.0,166.1 L434.0,165.2 L435.0,163.8 L436.0,163.2 L437.0,161.5 L438.0,159.6 L439.0,157.9 L440.0,156.6 L441.0,154.4 L442.0,152.6 L443.0,151.3 L444.0,150.3 L445.0,147.8 L446.0,146.3 L447.0,145.0 L448.0,144.1 L449.0,144.3 L450.0,144.3 L451.0,144.3 L452.0,145.1 L453.0,146.0 L454.0,147.3 L455.0,148.2 L456.0,150.2 L457.0,152.2 L458.0,153.6 L459.0,155.5 L460.0,157.1 L461.0,158.9 L462.0,160.9 L463.0,161.9 L464.0,163.3 L465.0,165.0 L466.0,166.1 L467.0,167.5 L468.0,167.2 L469.0,169.2 L470.0,169.6 L471.0,170.6 L472.0,171.5 L473.0,172.3 L474.0,172.9 L475.0,173.1 L476.0,174.1 L477.0,174.0 L478.0,174.4 L479.0,175.2 L480.0,175.1 L481.0,176.4 L482.0,176.3 L483.0,177.0 L484.0,176.5 L485.0,176.6 L486.0,177.1 L487.0,177.5 L488.0,177.2 L489.0,177.8 L490.0,177.8 L491.0,178.6 L492.0,177.9 L493.0,178.7 L494.0,178.2 L495.0,178.2 L496.0,178.4 L497.0,178.4 L498.0,179.0 L499.0,179.4 L500.0,179.2 L501.0,179.4 L502.0,179.9 L503.0,179.5 L504.0,179.5 L505.0,179.4 L506.0,179.0 L507.0,179.9 L508.0,179.1 L509.0,180.0 L510.0,179.8 L511.0,180.3 L512.0,179.9 L513.0,179.7 L514.0,180.2 L515.0,179.9 L516.0,180.1 L517.0,180.2 L518.0,180.2 L519.0,180.2 L520.0,180.0 L521.0,180.2 L522.0,179.6 L523.0,180.3 L524.0,180.0 L525.0,180.8 L526.0,180.9 L527.0,179.8 L528.0,180.5 L529.0,180.5 L530.0,180.2 L531.0,180.7 L532.0,180.4 L533.0,180.0 L534.0,180.5 L535.0,180.6 L536.0,180.7 L537.0,180.2 L538.0,180.9 L539.0,180.9 L540.0,180.3 L541.0,180.5 L542.0,180.7 L543.0,180.5 L544.0,181.3 L545.0,180.8 L546.0,180.4 L547.0,180.4 L548.0,180.7 L549.0,181.5 L550.0,180.7 L551.0,180.8 L552.0,180.9 L553.0,180.7 L554.0,181.5 L555.0,180.5 L556.0,181.0 L557.0,180.8 L558.0,180.9 L559.0,180.3 L560.0,181.3 L561.0,180.7 L562.0,180.7 L563.0,180.4 L564.0,180.4 L565.0,180.9 L566.0,181.0 L567.0,180.9 L568.0,181.1 L569.0,180.9 L570.0,180.6 L571.0,180.9 L572.0,180.8 L573.0,180.5 L574.0,180.8 L575.0,181.0 L576.0,180.6 L577.0,180.4 L578.0,180.7 L579.0,181.1 L580.0,180.3 L581.0,180.4 L582.0,180.3 L583.0,180.8 L584.0,179.7 L585.0,180.4 L586.0,180.7 L587.0,179.9 L588.0,180.7 L589.0,180.3 L590.0,179.9 L591.0,180.1 L592.0,179.5 L593.0,179.7 L594.0,180.5 L595.0,179.5 L596.0,180.4 L597.0,179.7 L598.0,180.0 L599.0,179.6 L600.0,178.7 L601.0,179.2 L602.0,179.4 L603.0,178.9 L604.0,178.7 L605.0,179.2 L606.0,178.8 L607.0,178.3 L608.0,178.6 L609.0,179.0 L610.0,178.4 L611.0,178.8 L612.0,178.9 L613.0,178.3 L614.0,177.7 L615.0,177.5 L616.0,177.8 L617.0,178.0 L618.0,177.6 L619.0,177.5 L620.0,177.0 L621.0,177.1 L622.0,176.6 L623.0,176.4 L624.0,175.9 L625.0,175.5 L626.0,175.7 L627.0,175.2 L628.0,174.9 L629.0,175.2 L630.0,174.6 L631.0,175.4 L632.0,174.3 L633.0,173.4 L634.0,173.5 L635.0,173.0 L636.0,172.2 L637.0,172.4 L638.0,171.3 L639.0,170.0 L640.0,170.8 L641.0,169.8 L642.0,170.0 L643.0,168.6 L644.0,167.8 L645.0,168.1 L646.0,166.5 L647.0,166.3 L648.0,165.9 L649.0,164.6 L650.0,163.7 L651.0,162.8 L652.0,162.0 L653.0,160.3 L654.0,159.4 L655.0,157.9 L656.0,156.8 L657.0,153.9 L658.0,151.4 L659.0,149.4 L660.0,146.2 L661.0,143.7 L662.0,141.2 L663.0,139.8 L664.0,138.0 L665.0,137.6 L666.0,136.3 L667.0,136.1 L668.0,135.6 L669.0,132.5 L670.0,129.3 L671.0,124.7 L672.0,119.5 L673.0,112.1 L674.0,102.7 L675.0,92.7 L676.0,80.6 L677.0,68.1 L678.0,55.6 L679.0,47.1 L680.0,42.2 L681.0,43.5 L682.0,50.6 L683.0,62.0 L684.0,75.5 L685.0,88.3 L686.0,101.1 L687.0,111.6 L688.0,121.1 L689.0,128.6 L690.0,134.7 L691.0,139.3 L692.0,144.5 L693.0,148.3 L694.0,151.1 L695.0,153.7 L696.0,155.5 L697.0,157.3 L698.0,158.6 L699.0,160.7 L700.0,161.4 L701.0,162.2 L702.0,162.9 L703.0,164.2 L704.0,165.7 L705.0,166.2 L706.0,166.7 L707.0,168.3 L708.0,169.2 L709.0,169.8 L710.0,170.6 L711.0,171.5 L712.0,172.0 L713.0,172.7 L714.0,172.8 L715.0,174.2 L716.0,174.2 L717.0,175.4 L718.0,174.4 L719.0,175.8 L720.0,176.3 L721.0,176.1 L722.0,176.7 L723.0,177.2 L724.0,177.4 L725.0,177.2 L726.0,177.6 L727.0,178.3 L728.0,178.6 L729.0,178.4 L730.0,178.5 L731.0,178.7 L732.0,179.2 L733.0,178.6 L734.0,178.7 L735.0,179.3 L736.0,179.0 L737.0,179.3 L738.0,179.7 L739.0,179.9 L740.0,179.5 L741.0,180.2 L742.0,179.4 L743.0,180.3 L744.0,179.7 L745.0,179.9 L746.0,180.6 L747.0,180.3 L748.0,180.2 L749.0,180.4 L750.0,180.8 L751.0,180.7 L752.0,180.8 L753.0,181.2 L754.0,180.6 L755.0,180.8 L756.0,180.8 L757.0,181.5 L758.0,181.4 L759.0,181.6 L760.0,181.2 L761.0,181.2 L762.0,181.6 L763.0,181.2 L764.0,181.6 L765.0,181.6 L766.0,181.2 L767.0,181.4 L768.0,181.4 L769.0,182.1 L770.0,182.5 L771.0,181.5 L772.0,181.6 L773.0,180.8 L774.0,181.7 L775.0,181.7 L776.0,181.3 L777.0,182.0 L778.0,181.2 L779.0,181.7 L780.0,181.9 L781.0,181.4 L782.0,182.2 L783.0,182.3 L784.0,181.4 L785.0,181.4 L786.0,182.2 L787.0,182.0 L788.0,181.6 L789.0,181.9 L790.0,182.0 L791.0,182.0 L792.0,182.3 L793.0,182.2 L794.0,182.7 L795.0,182.6 L796.0,182.4 L797.0,182.5 L798.0,182.6 L799.0,182.4 L800.0,181.8 L801.0,182.5 L802.0,182.2 L803.0,182.8 L804.0,182.3 L805.0,182.4 L806.0,182.4 L807.0,182.9 L808.0,182.3 L809.0,182.2 L810.0,182.4 L811.0,182.2 L812.0,182.4 L813.0,182.3 L814.0,182.4 L815.0,183.0 L816.0,182.2 L817.0,182.4 L818.0,182.3 L819.0,182.6 L820.0,182.0 L821.0,182.2 L822.0,182.4 L823.0,182.6 L824.0,182.4 L825.0,182.3 L826.0,182.2 L827.0,182.7 L828.0,183.0 L829.0,182.6 L830.0,182.6 L831.0,182.7 L832.0,182.2 L833.0,182.4 L834.0,182.4 L835.0,182.6 L836.0,182.5 L837.0,182.1 L838.0,182.9 L839.0,183.2 L840.0,182.5 L841.0,182.7 L842.0,182.7 L843.0,182.9 L844.0,182.1 L845.0,183.2 L846.0,182.4 L847.0,183.0 L848.0,182.6 L849.0,182.5 L850.0,182.6 L851.0,182.9 L852.0,182.3 L853.0,182.5 L854.0,182.5 L855.0,182.0 L856.0,183.1 L857.0,182.9 L858.0,182.7 L859.0,183.1 L860.0,182.3 L861.0,182.6 L862.0,183.3 L863.0,183.0 L864.0,181.9 L865.0,181.5 L866.0,182.3 L867.0,183.1 L868.0,182.5 L869.0,182.6 L870.0,182.9 L871.0,182.4 L872.0,182.8 L873.0,183.0 L874.0,182.9 L875.0,182.9 L876.0,182.5 L877.0,182.9 L878.0,182.6 L879.0,183.2 L880.0,183.6 L881.0,182.5 M900.0,181.8 L901.0,182.4 L902.0,182.7 L903.0,183.0 L904.0,183.0 L905.0,182.3 L906.0,182.3 L907.0,183.0 L908.0,182.2 L909.0,183.0 L910.0,182.5 L911.0,182.9 L912.0,182.8 L913.0,182.9 L914.0,182.9 L915.0,182.2 L916.0,182.7 L917.0,182.6 L918.0,182.7 L919.0,183.0 L920.0,182.5 L921.0,182.3 L922.0,182.3 L923.0,182.5 L924.0,182.8 L925.0,182.3 L926.0,183.0 L927.0,182.7 L928.0,182.5 L929.0,182.1 L930.0,182.7 L931.0,182.8 L932.0,182.0 L933.0,183.0 L934.0,183.1 L935.0,182.7 L936.0,182.7 L937.0,183.4 L938.0,183.0 L939.0,182.2 L940.0,182.5 L941.0,182.5 L942.0,182.5 L943.0,181.7 L944.0,182.8 L945.0,182.3 L946.0,182.6 L947.0,182.5 L948.0,182.8 L949.0,182.4 L950.0,182.2 L951.0,182.7 L952.0,183.0 L953.0,182.4 L954.0,183.0 L955.0,182.6 L956.0,182.3 L957.0,183.0 L958.0,182.2 L959.0,182.8 L960.0,182.3 L961.0,182.6 L962.0,182.0 L963.0,182.2 L964.0,182.8 L965.0,182.5 L966.0,182.5 L967.0,182.3 L968.0,182.6 L969.0,181.9 L970.0,182.0 L971.0,182.3 L972.0,182.1 L973.0,182.1 L974.0,182.4 L975.0,182.3 L976.0,182.3 L977.0,182.9 L978.0,182.7 L979.0,182.8 L980.0,182.3 L981.0,182.1 L982.0,181.8 L983.0,182.2 L984.0,181.5 L985.0,182.1 L986.0,182.5 L987.0,182.8 L988.0,182.6 L989.0,181.9 L990.0,182.4 L991.0,181.9 L992.0,182.4 L993.0,182.1 L994.0,182.4 L995.0,183.0 L996.0,182.4 L997.0,182.9 L998.0,182.1 L999.0,181.9 L1000.0,182.5 L1001.0,182.6 L1002.0,181.8 L1003.0,182.0 L1004.0,181.4 L1005.0,181.8 L1006.0,182.2 L1007.0,181.8 L1008.0,181.6 L1009.0,181.3 L1010.0,181.9 L1011.0,182.0 L1012.0,181.9 L1013.0,181.8 L1014.0,181.2 L1015.0,182.2 L1016.0,181.5 L1017.0,181.5 L1018.0,181.7 L1019.0,180.7 L1020.0,181.4 L1021.0,181.3 L1022.0,181.4 L1023.0,181.7 L1024.0,181.4 L1025.0,180.5 L1026.0,181.0 L1027.0,181.1 L1028.0,181.1 L1029.0,180.5 L1030.0,180.3 L1031.0,181.0 L1032.0,180.9 L1033.0,180.7 L1034.0,180.0 L1035.0,181.1 L1036.0,179.4 L1037.0,180.2 L1038.0,181.0 L1039.0,180.1 L1040.0,180.2 L1041.0,179.6 L1042.0,180.4 L1043.0,179.3 L1044.0,179.7 L1045.0,179.6 L1046.0,179.0 L1047.0,179.6 L1048.0,178.7 L1049.0,178.8 L1050.0,178.8 L1051.0,178.6 L1052.0,178.7 L1053.0,178.7 L1054.0,178.1 L1055.0,177.8 L1056.0,177.6 L1057.0,177.4 L1058.0,177.6 L1059.0,177.0 L1060.0,177.0 L1061.0,176.6 L1062.0,176.1 L1063.0,176.4 L1064.0,175.4 L1065.0,175.5 L1066.0,175.7 L1067.0,174.4 L1068.0,174.5 L1069.0,173.6 L1070.0,173.6 L1071.0,172.8 L1072.0,172.8 L1073.0,172.3 L1074.0,172.1 L1075.0,172.2 L1076.0,171.3 L1077.0,171.0 L1078.0,170.3 L1079.0,169.7 L1080.0,169.1 L1081.0,168.3 L1082.0,168.5 L1083.0,168.6 L1084.0,167.8 L1085.0,167.0 L1086.0,167.4 L1087.0,166.4 L1088.0,166.0 L1089.0,165.6 L1090.0,165.5 L1091.0,165.6 L1092.0,166.3 L1093.0,165.5 L1094.0,165.3 L1095.0,165.5 L1096.0,165.8 L1097.0,165.4 L1098.0,166.3 L1099.0,166.8 L1100.0,167.0 L1101.0,167.5 L1102.0,167.2 L1103.0,167.5 L1104.0,169.0 L1105.0,169.4 L1106.0,168.9 L1107.0,170.0 L1108.0,170.4 L1109.0,171.0 L1110.0,171.4 L1111.0,171.6 L1112.0,172.3 L1113.0,172.7 L1114.0,173.0 L1115.0,172.8 L1116.0,172.8 L1117.0,174.0 L1118.0,174.0 L1119.0,175.1 L1120.0,175.6 L1121.0,175.7 L1122.0,175.8 L1123.0,176.3 L1124.0,176.9 L1125.0,176.6 L1126.0,177.4 L1127.0,177.6 L1128.0,177.6 L1129.0,178.3 L1130.0,177.7 L1131.0,178.5 L1132.0,178.1 L1133.0,178.3 L1134.0,178.4 L1135.0,179.1 L1136.0,178.8 L1137.0,179.3 L1138.0,179.0 L1139.0,179.9 L1140.0,180.3 L1141.0,179.9 L1142.0,180.5 L1143.0,180.3 L1144.0,180.9 L1145.0,180.3 L1146.0,179.8 L1147.0,181.0 L1148.0,180.5 L1149.0,180.3 L1150.0,180.5 L1151.0,180.3 L1152.0,180.9 L1153.0,180.6 L1154.0,181.6 L1155.0,181.4 L1156.0,180.7 L1157.0,180.8 L1158.0,181.2 L1159.0,180.8 L1160.0,181.5 L1161.0,181.5 L1162.0,181.3 L1163.0,181.5 L1164.0,181.9 L1165.0,182.3 L1166.0,182.3 L1167.0,181.9 L1168.0,182.2 L1169.0,181.7 L1170.0,182.1 L1171.0,181.7 L1172.0,182.3 L1173.0,181.7 L1174.0,181.8 L1175.0,182.2 L1176.0,182.4 L1177.0,181.8 L1178.0,182.1 L1179.0,182.4 L1180.0,182.4 L1181.0,182.1 L1182.0,182.4 L1183.0,182.3 L1184.0,183.0 L1185.0,182.7 L1186.0,182.1 L1187.0,181.8 L1188.0,182.6 L1189.0,183.0 L1190.0,182.7 L1191.0,182.9 L1192.0,182.5 L1193.0,182.2 L1194.0,183.0 L1195.0,182.8 L1196.0,183.0 L1197.0,182.3 L1198.0,182.8 L1199.0,182.6 L1200.0,183.1 L1201.0,182.6 L1202.0,182.6 L1203.0,182.6 L1204.0,183.3 L1205.0,182.9 L1206.0,182.6 L1207.0,182.6 L1208.0,182.6 L1209.0,183.4 L1210.0,182.3 L1211.0,182.7 L1212.0,183.2 L1213.0,183.4 L1214.0,182.9 L1215.0,183.3 L1216.0,183.3 L1217.0,183.4 L1218.0,183.0 L1219.0,183.6 L1220.0,183.1 L1221.0,183.6 L1222.0,182.7 L1223.0,183.4 L1224.0,182.6 L1225.0,182.6 L1226.0,183.3 L1227.0,182.8 L1228.0,183.3 L1229.0,182.7 L1230.0,183.7 L1231.0,183.1 L1232.0,182.7 L1233.0,183.2 L1234.0,183.4 L1235.0,182.9 L1236.0,183.3 L1237.0,183.9 L1238.0,183.4 L1239.0,183.1 L1240.0,182.9 L1241.0,183.3 L1242.0,182.6 L1243.0,182.1 L1244.0,182.9 L1245.0,182.8 L1246.0,183.7 L1247.0,183.2 L1248.0,182.8 L1249.0,182.7 L1250.0,183.3 L1251.0,182.8 L1252.0,182.9 L1253.0,183.1 L1254.0,183.1 L1255.0,183.1 L1256.0,183.1 L1257.0,183.5 L1258.0,183.6 L1259.0,182.5 L1260.0,183.9 L1261.0,183.1 L1262.0,183.4 L1263.0,182.7 L1264.0,183.1 L1265.0,183.0 L1266.0,183.0 L1267.0,183.2 L1268.0,183.1 L1269.0,182.5 L1270.0,182.8 L1271.0,183.1 L1272.0,183.0 L1273.0,182.7 L1274.0,182.7 L1275.0,182.7 L1276.0,182.3 L1277.0,182.2 L1278.0,183.2 L1279.0,182.4 L1280.0,182.6 L1281.0,182.2 L1282.0,182.9 L1283.0,183.0 L1284.0,182.3 L1285.0,182.5 L1286.0,182.0 L1287.0,182.8 L1288.0,182.5 L1289.0,181.8 L1290.0,182.5 L1291.0,182.1 L1292.0,182.1 L1293.0,182.0 L1294.0,181.6 L1295.0,181.6 L1296.0,181.9 L1297.0,181.6 L1298.0,181.2 L1299.0,182.2 L1300.0,181.3 L1301.0,181.1 L1302.0,181.0 L1303.0,181.4 L1304.0,181.4 L1305.0,181.1 L1306.0,181.2 L1307.0,180.3 L1308.0,180.7 L1309.0,180.6 L1310.0,180.7 L1311.0,180.8 L1312.0,179.8 L1313.0,181.6 L1314.0,180.2 L1315.0,180.6 L1316.0,180.7 L1317.0,180.7 L1318.0,180.5 L1319.0,179.4 L1320.0,180.0 L1321.0,180.7 L1322.0,180.1 L1323.0,180.1 L1324.0,179.7 L1325.0,181.0 L1326.0,180.8 L1327.0,180.4 L1328.0,180.7 L1329.0,180.8 L1330.0,180.5 L1331.0,180.9 L1332.0,181.1 L1333.0,181.3 L1334.0,181.7 L1335.0,181.3 L1336.0,181.2 L1337.0,181.6 L1338.0,181.4 L1339.0,181.2 L1340.0,182.1 L1341.0,181.7 L1342.0,182.0 L1343.0,182.2 L1344.0,181.7 L1345.0,182.4 L1346.0,182.4 L1347.0,182.3 L1348.0,182.5 L1349.0,182.2 L1350.0,181.7 L1351.0,182.5 L1352.0,182.3 L1353.0,183.0 L1354.0,182.8 L1355.0,182.6 L1356.0,182.9 L1357.0,183.4 L1358.0,183.4 L1359.0,183.1 L1360.0,183.2 L1361.0,183.0 L1362.0,183.1 L1363.0,183.4 L1364.0,183.2 L1365.0,183.4 L1366.0,182.9 L1367.0,182.8 L1368.0,182.8 L1369.0,183.3 L1370.0,183.9 L1371.0,183.9 L1372.0,183.2 L1373.0,183.0 L1374.0,183.9 L1375.0,183.8 L1376.0,183.1 L1377.0,184.0 L1378.0,183.7 L1379.0,184.2 L1380.0,183.8 L1381.0,184.1" fill="none" stroke="#8c67b6" stroke-width="7.2" stroke-linejoin="round" stroke-linecap="butt"/>
<path d="M302.0,342.3 L303.0,341.9 L304.0,342.1 L305.0,342.0 L306.0,342.5 L307.0,341.9 L308.0,341.7 L309.0,342.5 L310.0,342.6 L311.0,342.7 L312.0,342.6 L313.0,341.7 L314.0,342.0 L315.0,342.1 L316.0,342.2 L317.0,341.5 L318.0,342.3 L319.0,342.4 L320.0,341.9 L321.0,342.3 L322.0,342.7 L323.0,342.3 L324.0,342.6 L325.0,342.6 L326.0,342.4 L327.0,342.4 L328.0,342.1 L329.0,342.7 L330.0,342.1 L331.0,342.0 L332.0,342.5 L333.0,342.0 L334.0,342.4 L335.0,342.6 L336.0,342.3 L337.0,342.3 L338.0,342.6 L339.0,342.5 L340.0,341.7 L341.0,341.8 L342.0,342.7 L343.0,342.4 L344.0,341.5 L345.0,341.8 L346.0,342.3 L347.0,341.9 L348.0,342.4 L349.0,342.3 L350.0,342.4 L351.0,341.8 L352.0,342.5 L353.0,342.9 L354.0,342.0 L355.0,342.7 L356.0,342.6 L357.0,342.5 L358.0,342.2 L359.0,341.8 L360.0,341.9 L361.0,342.5 L362.0,342.5 L363.0,342.6 L364.0,342.5 L365.0,342.5 L366.0,342.0 L367.0,341.7 L368.0,342.2 L369.0,342.3 L370.0,342.2 L371.0,341.6 L372.0,341.9 L373.0,341.6 L374.0,342.1 L375.0,341.7 L376.0,342.0 L377.0,342.1 L378.0,342.1 L379.0,342.5 L380.0,341.6 L381.0,341.2 L382.0,342.3 L383.0,342.4 L384.0,342.4 L385.0,342.0 L386.0,342.0 L387.0,341.8 L388.0,341.3 L389.0,341.5 L390.0,341.9 L391.0,341.5 L392.0,342.3 L393.0,341.1 L394.0,341.4 L395.0,341.9 L396.0,341.2 L397.0,341.0 L398.0,340.9 L399.0,341.0 L400.0,341.8 L401.0,341.3 L402.0,341.3 L403.0,340.8 L404.0,341.2 L405.0,340.9 L406.0,340.5 L407.0,340.5 L408.0,340.7 L409.0,340.9 L410.0,340.3 L411.0,340.4 L412.0,340.8 L413.0,339.7 L414.0,339.4 L415.0,340.0 L416.0,339.6 L417.0,339.2 L418.0,339.2 L419.0,338.7 L420.0,338.8 L421.0,338.2 L422.0,338.3 L423.0,337.3 L424.0,337.1 L425.0,337.1 L426.0,336.5 L427.0,336.4 L428.0,335.7 L429.0,335.0 L430.0,334.7 L431.0,333.8 L432.0,332.7 L433.0,332.1 L434.0,331.4 L435.0,330.6 L436.0,329.8 L437.0,329.0 L438.0,327.7 L439.0,326.9 L440.0,325.5 L441.0,323.6 L442.0,322.9 L443.0,321.3 L444.0,319.4 L445.0,318.5 L446.0,317.7 L447.0,316.5 L448.0,316.2 L449.0,315.7 L450.0,315.8 L451.0,315.9 L452.0,316.8 L453.0,317.4 L454.0,318.9 L455.0,319.3 L456.0,321.4 L457.0,323.1 L458.0,324.2 L459.0,325.4 L460.0,326.9 L461.0,327.6 L462.0,328.8 L463.0,330.0 L464.0,331.0 L465.0,332.3 L466.0,332.5 L467.0,333.9 L468.0,333.7 L469.0,334.6 L470.0,335.5 L471.0,336.4 L472.0,336.3 L473.0,336.2 L474.0,337.5 L475.0,337.7 L476.0,337.7 L477.0,338.0 L478.0,338.4 L479.0,339.0 L480.0,339.4 L481.0,338.9 L482.0,340.4 L483.0,339.8 L484.0,339.9 L485.0,340.4 L486.0,340.4 L487.0,341.3 L488.0,341.0 L489.0,340.6 L490.0,340.7 L491.0,340.8 L492.0,341.0 L493.0,341.4 L494.0,341.1 L495.0,342.0 L496.0,341.4 L497.0,341.5 L498.0,342.0 L499.0,341.0 L500.0,341.4 L501.0,342.0 L502.0,341.9 L503.0,341.9 L504.0,342.1 L505.0,341.8 L506.0,342.0 L507.0,341.7 L508.0,341.5 L509.0,342.7 L510.0,342.0 L511.0,342.1 L512.0,342.8 L513.0,342.8 L514.0,342.2 L515.0,342.3 L516.0,342.5 L517.0,342.2 L518.0,342.7 L519.0,342.6 L520.0,342.6 L521.0,342.9 L522.0,342.9 L523.0,343.3 L524.0,343.2 L525.0,342.1 L526.0,343.0 L527.0,342.4 L528.0,342.3 L529.0,343.0 L530.0,342.6 L531.0,342.7 L532.0,343.2 L533.0,342.6 L534.0,342.5 L535.0,343.0 L536.0,343.3 L537.0,343.1 L538.0,342.4 L539.0,342.7 L540.0,342.9 L541.0,343.6 L542.0,343.2 L543.0,343.2 L544.0,343.4 L545.0,342.8 L546.0,343.1 L547.0,343.1 L548.0,342.6 L549.0,343.0 L550.0,343.2 L551.0,342.6 L552.0,343.3 L553.0,343.2 L554.0,343.3 L555.0,342.7 L556.0,343.0 L557.0,343.5 L558.0,343.2 L559.0,342.7 L560.0,343.0 L561.0,343.4 L562.0,342.9 L563.0,343.1 L564.0,343.8 L565.0,342.9 L566.0,342.9 L567.0,342.6 L568.0,342.7 L569.0,343.4 L570.0,342.8 L571.0,342.4 L572.0,342.5 L573.0,342.8 L574.0,343.1 L575.0,342.5 L576.0,343.0 L577.0,342.6 L578.0,342.9 L579.0,342.9 L580.0,342.9 L581.0,342.5 L582.0,342.6 L583.0,342.8 L584.0,342.2 L585.0,342.6 L586.0,342.7 L587.0,342.9 L588.0,342.5 L589.0,342.4 L590.0,342.5 L591.0,342.1 L592.0,342.2 L593.0,342.4 L594.0,342.3 L595.0,341.8 L596.0,342.0 L597.0,341.3 L598.0,342.2 L599.0,341.7 L600.0,341.9 L601.0,341.4 L602.0,341.6 L603.0,341.7 L604.0,341.8 L605.0,340.9 L606.0,341.6 L607.0,341.2 L608.0,340.9 L609.0,341.2 L610.0,340.8 L611.0,340.7 L612.0,340.4 L613.0,340.6 L614.0,340.4 L615.0,340.2 L616.0,339.8 L617.0,339.8 L618.0,340.0 L619.0,340.1 L620.0,339.5 L621.0,339.8 L622.0,339.1 L623.0,338.6 L624.0,338.9 L625.0,338.2 L626.0,338.4 L627.0,338.4 L628.0,337.7 L629.0,337.5 L630.0,338.1 L631.0,337.0 L632.0,336.7 L633.0,336.5 L634.0,335.8 L635.0,335.5 L636.0,335.2 L637.0,333.9 L638.0,334.8 L639.0,333.4 L640.0,332.9 L641.0,333.0 L642.0,332.3 L643.0,331.3 L644.0,331.2 L645.0,330.1 L646.0,329.6 L647.0,328.7 L648.0,328.1 L649.0,327.8 L650.0,326.8 L651.0,325.9 L652.0,325.1 L653.0,323.6 L654.0,322.1 L655.0,320.7 L656.0,319.6 L657.0,317.0 L658.0,314.7 L659.0,311.9 L660.0,309.2 L661.0,306.5 L662.0,303.9 L663.0,302.1 L664.0,300.8 L665.0,300.4 L666.0,300.6 L667.0,300.1 L668.0,299.0 L669.0,296.7 L670.0,293.2 L671.0,289.3 L672.0,283.4 L673.0,275.1 L674.0,266.5 L675.0,255.0 L676.0,242.3 L677.0,227.3 L678.0,214.3 L679.0,205.6 L680.0,201.4 L681.0,205.7 L682.0,215.6 L683.0,229.3 L684.0,243.6 L685.0,258.1 L686.0,270.7 L687.0,280.9 L688.0,289.4 L689.0,296.2 L690.0,302.6 L691.0,306.9 L692.0,310.9 L693.0,313.2 L694.0,316.4 L695.0,318.0 L696.0,320.3 L697.0,321.6 L698.0,322.4 L699.0,323.9 L700.0,325.1 L701.0,325.7 L702.0,326.5 L703.0,326.8 L704.0,327.6 L705.0,328.3 L706.0,329.5 L707.0,330.7 L708.0,331.2 L709.0,331.9 L710.0,332.2 L711.0,333.5 L712.0,333.9 L713.0,334.0 L714.0,334.6 L715.0,335.6 L716.0,335.9 L717.0,337.2 L718.0,337.1 L719.0,337.1 L720.0,337.6 L721.0,338.6 L722.0,338.0 L723.0,338.9 L724.0,339.0 L725.0,339.6 L726.0,339.5 L727.0,339.3 L728.0,339.8 L729.0,339.8 L730.0,340.3 L731.0,340.1 L732.0,340.9 L733.0,340.3 L734.0,340.7 L735.0,340.4 L736.0,340.8 L737.0,340.8 L738.0,341.0 L739.0,341.3 L740.0,340.9 L741.0,340.9 L742.0,341.6 L743.0,341.2 L744.0,341.1 L745.0,341.8 L746.0,341.8 L747.0,340.6 L748.0,341.5 L749.0,341.9 L750.0,342.0 L751.0,341.6 L752.0,342.3 L753.0,341.6 L754.0,341.8 L755.0,342.0 L756.0,342.0 L757.0,342.3 L758.0,342.4 L759.0,342.1 L760.0,342.6 L761.0,341.9 L762.0,342.1 L763.0,342.8 L764.0,342.2 L765.0,342.6 L766.0,342.1 L767.0,342.2 L768.0,342.3 L769.0,342.4 L770.0,342.2 L771.0,342.4 L772.0,342.6 L773.0,342.8 L774.0,342.5 L775.0,342.7 L776.0,342.8 L777.0,342.1 L778.0,341.9 L779.0,343.1 L780.0,343.0 L781.0,342.6 L782.0,342.7 L783.0,342.2 L784.0,342.1 L785.0,342.7 L786.0,342.1 L787.0,342.9 L788.0,342.4 L789.0,342.7 L790.0,343.3 L791.0,343.3 L792.0,342.6 L793.0,343.0 L794.0,342.3 L795.0,342.5 L796.0,342.8 L797.0,343.2 L798.0,342.5 L799.0,342.9 L800.0,342.7 L801.0,342.3 L802.0,342.7 L803.0,343.2 L804.0,342.7 L805.0,342.9 L806.0,343.0 L807.0,342.5 L808.0,343.2 L809.0,343.3 L810.0,343.3 L811.0,343.2 L812.0,342.6 L813.0,342.6 L814.0,342.5 L815.0,342.4 L816.0,342.5 L817.0,343.1 L818.0,343.3 L819.0,342.6 L820.0,343.1 L821.0,342.3 L822.0,342.7 L823.0,342.4 L824.0,342.2 L825.0,342.8 L826.0,342.8 L827.0,342.6 L828.0,342.6 L829.0,342.4 L830.0,342.7 L831.0,342.6 L832.0,342.9 L833.0,342.4 L834.0,342.9 L835.0,343.0 L836.0,343.2 L837.0,343.2 L838.0,342.9 L839.0,342.5 L840.0,342.1 L841.0,342.8 L842.0,343.3 L843.0,343.4 L844.0,341.9 L845.0,342.5 L846.0,342.7 L847.0,342.4 L848.0,342.8 L849.0,342.8 L850.0,342.6 L851.0,342.8 L852.0,342.2 L853.0,342.4 L854.0,342.5 L855.0,343.1 L856.0,342.2 L857.0,342.7 L858.0,343.0 L859.0,342.7 L860.0,343.0 L861.0,342.5 L862.0,342.9 L863.0,343.1 L864.0,343.5 L865.0,343.0 L866.0,343.3 L867.0,342.8 L868.0,342.8 L869.0,343.3 L870.0,343.0 L871.0,343.2 L872.0,343.0 L873.0,343.5 L874.0,343.6 L875.0,342.4 L876.0,343.4 L877.0,342.9 L878.0,342.9 L879.0,342.7 L880.0,343.0 L881.0,342.3 M900.0,340.2 L901.0,340.1 L902.0,340.5 L903.0,340.7 L904.0,340.7 L905.0,340.6 L906.0,340.2 L907.0,339.8 L908.0,340.6 L909.0,340.5 L910.0,340.6 L911.0,341.0 L912.0,340.4 L913.0,340.4 L914.0,339.7 L915.0,340.7 L916.0,340.5 L917.0,340.2 L918.0,340.6 L919.0,340.1 L920.0,340.3 L921.0,341.2 L922.0,340.8 L923.0,340.8 L924.0,340.8 L925.0,340.8 L926.0,340.6 L927.0,341.3 L928.0,340.5 L929.0,340.8 L930.0,340.5 L931.0,340.4 L932.0,339.7 L933.0,339.9 L934.0,341.1 L935.0,341.1 L936.0,340.4 L937.0,340.6 L938.0,340.8 L939.0,340.2 L940.0,341.2 L941.0,340.2 L942.0,340.3 L943.0,339.6 L944.0,341.1 L945.0,340.6 L946.0,341.1 L947.0,340.2 L948.0,340.7 L949.0,340.6 L950.0,340.7 L951.0,341.3 L952.0,341.4 L953.0,341.1 L954.0,340.4 L955.0,340.9 L956.0,341.1 L957.0,340.8 L958.0,340.8 L959.0,340.8 L960.0,340.3 L961.0,340.7 L962.0,341.1 L963.0,340.2 L964.0,340.6 L965.0,340.9 L966.0,340.1 L967.0,340.5 L968.0,340.0 L969.0,340.4 L970.0,340.1 L971.0,340.3 L972.0,340.4 L973.0,340.5 L974.0,340.5 L975.0,339.7 L976.0,341.1 L977.0,340.5 L978.0,340.2 L979.0,340.3 L980.0,340.6 L981.0,340.2 L982.0,340.4 L983.0,340.4 L984.0,340.7 L985.0,340.2 L986.0,340.7 L987.0,340.6 L988.0,340.4 L989.0,340.9 L990.0,340.5 L991.0,340.0 L992.0,340.5 L993.0,340.5 L994.0,340.4 L995.0,340.5 L996.0,341.2 L997.0,340.5 L998.0,340.5 L999.0,340.3 L1000.0,340.8 L1001.0,340.3 L1002.0,340.0 L1003.0,339.9 L1004.0,340.5 L1005.0,340.5 L1006.0,339.7 L1007.0,340.0 L1008.0,340.4 L1009.0,340.5 L1010.0,339.7 L1011.0,340.0 L1012.0,340.4 L1013.0,339.9 L1014.0,339.9 L1015.0,339.8 L1016.0,339.5 L1017.0,340.0 L1018.0,340.0 L1019.0,339.4 L1020.0,339.9 L1021.0,340.2 L1022.0,339.9 L1023.0,340.1 L1024.0,339.5 L1025.0,340.1 L1026.0,339.3 L1027.0,340.2 L1028.0,339.4 L1029.0,339.2 L1030.0,339.1 L1031.0,339.2 L1032.0,339.1 L1033.0,339.0 L1034.0,339.1 L1035.0,339.3 L1036.0,339.3 L1037.0,338.8 L1038.0,339.3 L1039.0,338.4 L1040.0,338.4 L1041.0,338.2 L1042.0,338.7 L1043.0,337.9 L1044.0,337.8 L1045.0,338.7 L1046.0,338.7 L1047.0,338.5 L1048.0,337.3 L1049.0,337.7 L1050.0,337.9 L1051.0,337.5 L1052.0,336.7 L1053.0,337.0 L1054.0,336.4 L1055.0,336.4 L1056.0,337.4 L1057.0,336.7 L1058.0,335.7 L1059.0,335.5 L1060.0,335.9 L1061.0,335.3 L1062.0,335.5 L1063.0,334.8 L1064.0,334.7 L1065.0,334.6 L1066.0,333.8 L1067.0,333.2 L1068.0,333.1 L1069.0,333.0 L1070.0,332.8 L1071.0,332.5 L1072.0,332.1 L1073.0,331.9 L1074.0,331.0 L1075.0,331.4 L1076.0,331.2 L1077.0,330.2 L1078.0,329.7 L1079.0,329.6 L1080.0,329.0 L1081.0,328.4 L1082.0,327.9 L1083.0,327.3 L1084.0,326.7 L1085.0,327.0 L1086.0,326.9 L1087.0,325.8 L1088.0,325.8 L1089.0,325.7 L1090.0,325.3 L1091.0,325.1 L1092.0,325.1 L1093.0,324.6 L1094.0,325.3 L1095.0,325.3 L1096.0,326.3 L1097.0,326.0 L1098.0,325.8 L1099.0,326.2 L1100.0,327.1 L1101.0,327.5 L1102.0,327.3 L1103.0,327.6 L1104.0,327.6 L1105.0,328.4 L1106.0,328.9 L1107.0,329.2 L1108.0,330.5 L1109.0,329.6 L1110.0,330.7 L1111.0,331.3 L1112.0,331.8 L1113.0,332.6 L1114.0,331.9 L1115.0,332.6 L1116.0,333.2 L1117.0,333.6 L1118.0,333.8 L1119.0,334.0 L1120.0,335.0 L1121.0,334.5 L1122.0,335.0 L1123.0,336.0 L1124.0,336.4 L1125.0,336.3 L1126.0,336.0 L1127.0,336.2 L1128.0,336.4 L1129.0,336.6 L1130.0,337.0 L1131.0,337.8 L1132.0,337.6 L1133.0,337.5 L1134.0,337.6 L1135.0,337.7 L1136.0,338.7 L1137.0,337.7 L1138.0,338.6 L1139.0,338.2 L1140.0,338.4 L1141.0,338.4 L1142.0,339.4 L1143.0,339.2 L1144.0,340.3 L1145.0,339.0 L1146.0,339.1 L1147.0,339.8 L1148.0,339.9 L1149.0,339.7 L1150.0,339.2 L1151.0,340.5 L1152.0,340.2 L1153.0,340.3 L1154.0,340.0 L1155.0,340.5 L1156.0,340.2 L1157.0,340.4 L1158.0,340.4 L1159.0,341.0 L1160.0,340.4 L1161.0,340.5 L1162.0,341.1 L1163.0,340.9 L1164.0,340.8 L1165.0,340.8 L1166.0,341.3 L1167.0,340.8 L1168.0,341.2 L1169.0,341.8 L1170.0,341.3 L1171.0,340.9 L1172.0,340.8 L1173.0,341.3 L1174.0,340.9 L1175.0,340.8 L1176.0,341.1 L1177.0,341.0 L1178.0,341.7 L1179.0,341.0 L1180.0,342.1 L1181.0,341.3 L1182.0,341.6 L1183.0,341.8 L1184.0,341.7 L1185.0,341.9 L1186.0,341.3 L1187.0,340.9 L1188.0,341.7 L1189.0,341.2 L1190.0,341.6 L1191.0,342.2 L1192.0,341.8 L1193.0,341.7 L1194.0,341.5 L1195.0,341.8 L1196.0,341.9 L1197.0,341.4 L1198.0,342.1 L1199.0,341.6 L1200.0,342.1 L1201.0,341.9 L1202.0,342.4 L1203.0,342.4 L1204.0,342.1 L1205.0,342.1 L1206.0,342.3 L1207.0,342.6 L1208.0,342.6 L1209.0,342.3 L1210.0,342.3 L1211.0,342.8 L1212.0,341.7 L1213.0,342.5 L1214.0,342.0 L1215.0,342.8 L1216.0,342.1 L1217.0,342.3 L1218.0,342.0 L1219.0,342.4 L1220.0,342.7 L1221.0,343.0 L1222.0,342.0 L1223.0,342.3 L1224.0,343.8 L1225.0,342.8 L1226.0,342.4 L1227.0,342.6 L1228.0,341.5 L1229.0,343.0 L1230.0,342.5 L1231.0,342.0 L1232.0,342.9 L1233.0,342.3 L1234.0,342.2 L1235.0,342.7 L1236.0,342.7 L1237.0,342.4 L1238.0,342.5 L1239.0,342.1 L1240.0,342.1 L1241.0,342.9 L1242.0,343.0 L1243.0,342.7 L1244.0,342.7 L1245.0,342.4 L1246.0,342.5 L1247.0,342.3 L1248.0,343.2 L1249.0,342.4 L1250.0,342.7 L1251.0,342.6 L1252.0,342.1 L1253.0,343.3 L1254.0,342.5 L1255.0,342.3 L1256.0,342.6 L1257.0,342.3 L1258.0,342.6 L1259.0,342.2 L1260.0,342.8 L1261.0,342.6 L1262.0,342.1 L1263.0,342.9 L1264.0,342.6 L1265.0,342.1 L1266.0,342.6 L1267.0,342.7 L1268.0,343.2 L1269.0,342.2 L1270.0,342.8 L1271.0,342.4 L1272.0,342.7 L1273.0,342.3 L1274.0,342.4 L1275.0,342.6 L1276.0,341.9 L1277.0,341.6 L1278.0,342.3 L1279.0,342.1 L1280.0,342.3 L1281.0,342.5 L1282.0,342.1 L1283.0,342.6 L1284.0,342.1 L1285.0,342.1 L1286.0,342.4 L1287.0,342.2 L1288.0,342.0 L1289.0,342.0 L1290.0,341.6 L1291.0,341.6 L1292.0,341.8 L1293.0,342.0 L1294.0,341.5 L1295.0,341.9 L1296.0,342.3 L1297.0,342.3 L1298.0,341.5 L1299.0,341.8 L1300.0,341.6 L1301.0,341.6 L1302.0,341.5 L1303.0,341.4 L1304.0,341.4 L1305.0,341.1 L1306.0,340.9 L1307.0,341.0 L1308.0,341.1 L1309.0,341.3 L1310.0,340.9 L1311.0,341.0 L1312.0,341.2 L1313.0,340.4 L1314.0,340.6 L1315.0,340.8 L1316.0,340.6 L1317.0,340.3 L1318.0,341.0 L1319.0,340.6 L1320.0,340.3 L1321.0,341.3 L1322.0,340.2 L1323.0,340.7 L1324.0,340.5 L1325.0,340.8 L1326.0,341.1 L1327.0,340.6 L1328.0,340.9 L1329.0,341.0 L1330.0,340.8 L1331.0,341.6 L1332.0,341.3 L1333.0,341.2 L1334.0,341.2 L1335.0,341.4 L1336.0,341.6 L1337.0,341.5 L1338.0,342.2 L1339.0,340.9 L1340.0,341.1 L1341.0,341.9 L1342.0,341.4 L1343.0,342.1 L1344.0,342.0 L1345.0,342.5 L1346.0,342.5 L1347.0,342.9 L1348.0,342.8 L1349.0,343.0 L1350.0,342.8 L1351.0,343.0 L1352.0,342.9 L1353.0,342.6 L1354.0,342.4 L1355.0,342.5 L1356.0,343.1 L1357.0,342.2 L1358.0,343.1 L1359.0,342.8 L1360.0,343.4 L1361.0,343.3 L1362.0,343.0 L1363.0,343.3 L1364.0,342.5 L1365.0,343.5 L1366.0,343.6 L1367.0,342.8 L1368.0,343.8 L1369.0,343.5 L1370.0,343.6 L1371.0,343.1 L1372.0,343.8 L1373.0,343.8 L1374.0,343.7 L1375.0,343.4 L1376.0,344.0 L1377.0,344.2 L1378.0,343.9 L1379.0,344.2 L1380.0,343.6 L1381.0,343.9" fill="none" stroke="#45a466" stroke-width="7.2" stroke-linejoin="round" stroke-linecap="butt"/>
<path d="M302.0,500.5 L303.0,500.4 L304.0,501.3 L305.0,500.5 L306.0,500.2 L307.0,500.6 L308.0,500.0 L309.0,500.5 L310.0,500.6 L311.0,500.2 L312.0,500.3 L313.0,500.1 L314.0,500.4 L315.0,500.1 L316.0,501.0 L317.0,500.6 L318.0,500.3 L319.0,499.9 L320.0,501.1 L321.0,500.9 L322.0,500.6 L323.0,500.5 L324.0,500.5 L325.0,500.3 L326.0,501.1 L327.0,500.5 L328.0,499.9 L329.0,500.2 L330.0,499.5 L331.0,500.7 L332.0,500.7 L333.0,501.1 L334.0,501.2 L335.0,500.2 L336.0,500.6 L337.0,500.8 L338.0,500.7 L339.0,500.3 L340.0,500.7 L341.0,500.6 L342.0,500.9 L343.0,500.4 L344.0,500.4 L345.0,500.3 L346.0,500.3 L347.0,500.2 L348.0,500.3 L349.0,500.6 L350.0,500.6 L351.0,500.9 L352.0,500.8 L353.0,500.7 L354.0,500.0 L355.0,500.6 L356.0,500.8 L357.0,500.0 L358.0,500.0 L359.0,500.1 L360.0,500.1 L361.0,500.3 L362.0,500.1 L363.0,500.5 L364.0,500.0 L365.0,500.4 L366.0,500.2 L367.0,500.1 L368.0,500.8 L369.0,500.4 L370.0,500.6 L371.0,500.3 L372.0,500.6 L373.0,500.6 L374.0,500.3 L375.0,499.7 L376.0,500.6 L377.0,500.6 L378.0,500.4 L379.0,500.4 L380.0,500.4 L381.0,500.4 L382.0,499.9 L383.0,500.3 L384.0,500.4 L385.0,500.0 L386.0,499.9 L387.0,500.9 L388.0,500.4 L389.0,500.1 L390.0,500.0 L391.0,499.2 L392.0,499.6 L393.0,500.0 L394.0,500.5 L395.0,499.4 L396.0,499.8 L397.0,500.7 L398.0,500.2 L399.0,500.1 L400.0,500.4 L401.0,499.9 L402.0,499.8 L403.0,500.1 L404.0,500.1 L405.0,499.4 L406.0,500.2 L407.0,499.0 L408.0,499.4 L409.0,500.6 L410.0,499.3 L411.0,499.6 L412.0,499.0 L413.0,499.2 L414.0,498.9 L415.0,499.0 L416.0,499.2 L417.0,499.5 L418.0,499.1 L419.0,499.2 L420.0,498.4 L421.0,498.9 L422.0,498.4 L423.0,498.5 L424.0,497.7 L425.0,497.6 L426.0,497.9 L427.0,497.4 L428.0,497.0 L429.0,496.4 L430.0,496.3 L431.0,496.1 L432.0,495.8 L433.0,494.9 L434.0,494.5 L435.0,494.2 L436.0,493.1 L437.0,493.2 L438.0,492.1 L439.0,491.3 L440.0,489.7 L441.0,489.1 L442.0,488.4 L443.0,487.6 L444.0,486.4 L445.0,486.0 L446.0,485.1 L447.0,484.2 L448.0,483.0 L449.0,483.9 L450.0,483.2 L451.0,483.6 L452.0,483.5 L453.0,484.3 L454.0,485.3 L455.0,486.0 L456.0,487.2 L457.0,487.8 L458.0,489.5 L459.0,489.0 L460.0,490.4 L461.0,491.8 L462.0,492.1 L463.0,492.8 L464.0,493.0 L465.0,494.6 L466.0,494.1 L467.0,495.4 L468.0,495.7 L469.0,496.4 L470.0,496.9 L471.0,496.5 L472.0,496.8 L473.0,497.2 L474.0,497.0 L475.0,498.1 L476.0,497.9 L477.0,498.3 L478.0,498.0 L479.0,498.6 L480.0,498.5 L481.0,498.8 L482.0,498.6 L483.0,499.4 L484.0,499.0 L485.0,498.4 L486.0,499.6 L487.0,499.4 L488.0,499.3 L489.0,500.5 L490.0,499.7 L491.0,499.3 L492.0,499.6 L493.0,500.0 L494.0,499.9 L495.0,500.4 L496.0,500.4 L497.0,499.8 L498.0,500.2 L499.0,500.4 L500.0,500.1 L501.0,500.1 L502.0,500.6 L503.0,500.5 L504.0,499.9 L505.0,500.2 L506.0,500.3 L507.0,500.4 L508.0,500.2 L509.0,501.0 L510.0,500.2 L511.0,500.2 L512.0,500.6 L513.0,499.8 L514.0,500.2 L515.0,500.8 L516.0,500.2 L517.0,500.4 L518.0,501.1 L519.0,500.8 L520.0,500.7 L521.0,500.8 L522.0,500.5 L523.0,500.9 L524.0,500.7 L525.0,501.6 L526.0,501.0 L527.0,500.7 L528.0,500.8 L529.0,500.8 L530.0,500.3 L531.0,500.5 L532.0,501.4 L533.0,500.3 L534.0,500.6 L535.0,501.2 L536.0,501.4 L537.0,500.5 L538.0,501.4 L539.0,500.7 L540.0,501.5 L541.0,501.1 L542.0,500.8 L543.0,501.1 L544.0,501.1 L545.0,500.6 L546.0,501.6 L547.0,500.8 L548.0,501.3 L549.0,500.7 L550.0,500.3 L551.0,500.5 L552.0,500.9 L553.0,501.1 L554.0,501.5 L555.0,500.9 L556.0,500.8 L557.0,500.4 L558.0,500.9 L559.0,501.0 L560.0,500.1 L561.0,501.3 L562.0,501.2 L563.0,501.6 L564.0,500.5 L565.0,500.8 L566.0,500.8 L567.0,500.3 L568.0,500.5 L569.0,500.4 L570.0,501.0 L571.0,500.9 L572.0,501.2 L573.0,500.6 L574.0,500.2 L575.0,500.9 L576.0,500.8 L577.0,500.9 L578.0,501.1 L579.0,500.5 L580.0,500.9 L581.0,500.3 L582.0,500.7 L583.0,500.8 L584.0,500.5 L585.0,500.6 L586.0,500.0 L587.0,500.3 L588.0,500.5 L589.0,500.0 L590.0,500.1 L591.0,501.2 L592.0,500.4 L593.0,500.0 L594.0,499.9 L595.0,500.7 L596.0,499.2 L597.0,500.0 L598.0,500.2 L599.0,499.8 L600.0,500.1 L601.0,499.5 L602.0,499.8 L603.0,499.7 L604.0,499.7 L605.0,499.6 L606.0,499.5 L607.0,499.8 L608.0,499.3 L609.0,499.1 L610.0,499.1 L611.0,499.0 L612.0,498.5 L613.0,498.2 L614.0,498.3 L615.0,498.8 L616.0,498.4 L617.0,498.3 L618.0,499.4 L619.0,498.6 L620.0,498.0 L621.0,497.7 L622.0,498.3 L623.0,497.4 L624.0,497.9 L625.0,497.5 L626.0,497.6 L627.0,496.7 L628.0,497.0 L629.0,495.8 L630.0,496.2 L631.0,496.4 L632.0,496.0 L633.0,494.8 L634.0,495.4 L635.0,495.1 L636.0,494.6 L637.0,494.0 L638.0,493.8 L639.0,493.3 L640.0,493.5 L641.0,492.9 L642.0,492.7 L643.0,492.1 L644.0,490.9 L645.0,490.9 L646.0,491.0 L647.0,489.3 L648.0,489.1 L649.0,488.0 L650.0,487.2 L651.0,486.7 L652.0,486.0 L653.0,484.8 L654.0,483.4 L655.0,482.0 L656.0,479.2 L657.0,477.9 L658.0,475.2 L659.0,472.2 L660.0,469.5 L661.0,466.9 L662.0,466.1 L663.0,465.0 L664.0,465.2 L665.0,466.4 L666.0,466.6 L667.0,466.7 L668.0,466.4 L669.0,464.1 L670.0,461.5 L671.0,458.3 L672.0,451.6 L673.0,445.2 L674.0,436.3 L675.0,424.8 L676.0,410.9 L677.0,394.0 L678.0,378.6 L679.0,366.1 L680.0,361.5 L681.0,366.4 L682.0,378.7 L683.0,395.7 L684.0,412.2 L685.0,426.2 L686.0,439.0 L687.0,448.4 L688.0,456.0 L689.0,461.6 L690.0,467.8 L691.0,471.6 L692.0,474.3 L693.0,476.8 L694.0,478.4 L695.0,480.5 L696.0,481.4 L697.0,482.5 L698.0,482.9 L699.0,482.7 L700.0,482.8 L701.0,483.5 L702.0,482.7 L703.0,483.3 L704.0,483.5 L705.0,482.8 L706.0,483.8 L707.0,484.1 L708.0,485.1 L709.0,485.6 L710.0,486.8 L711.0,488.1 L712.0,489.6 L713.0,490.3 L714.0,491.1 L715.0,491.4 L716.0,492.7 L717.0,493.1 L718.0,493.9 L719.0,494.6 L720.0,495.3 L721.0,495.6 L722.0,495.9 L723.0,496.2 L724.0,497.0 L725.0,496.5 L726.0,497.1 L727.0,497.8 L728.0,497.4 L729.0,498.0 L730.0,498.2 L731.0,498.7 L732.0,498.6 L733.0,497.8 L734.0,498.5 L735.0,498.7 L736.0,499.0 L737.0,499.0 L738.0,499.6 L739.0,499.4 L740.0,498.7 L741.0,498.9 L742.0,498.5 L743.0,499.9 L744.0,499.3 L745.0,499.4 L746.0,498.9 L747.0,499.4 L748.0,499.8 L749.0,499.5 L750.0,499.6 L751.0,499.5 L752.0,500.5 L753.0,499.6 L754.0,499.3 L755.0,499.7 L756.0,499.8 L757.0,499.9 L758.0,499.9 L759.0,499.6 L760.0,500.0 L761.0,500.2 L762.0,499.6 L763.0,500.8 L764.0,500.8 L765.0,499.5 L766.0,500.1 L767.0,500.6 L768.0,500.7 L769.0,500.9 L770.0,499.6 L771.0,499.9 L772.0,500.1 L773.0,500.5 L774.0,500.0 L775.0,500.5 L776.0,500.6 L777.0,500.7 L778.0,500.0 L779.0,500.5 L780.0,500.5 L781.0,500.3 L782.0,500.9 L783.0,500.4 L784.0,501.0 L785.0,500.3 L786.0,501.1 L787.0,501.1 L788.0,500.3 L789.0,500.7 L790.0,500.7 L791.0,500.2 L792.0,500.9 L793.0,500.8 L794.0,500.3 L795.0,500.7 L796.0,500.9 L797.0,500.6 L798.0,500.4 L799.0,501.2 L800.0,500.3 L801.0,500.8 L802.0,501.1 L803.0,501.0 L804.0,500.0 L805.0,500.6 L806.0,500.6 L807.0,500.6 L808.0,500.9 L809.0,500.9 L810.0,500.8 L811.0,500.8 L812.0,501.1 L813.0,501.2 L814.0,500.1 L815.0,501.5 L816.0,500.5 L817.0,501.0 L818.0,500.2 L819.0,500.6 L820.0,500.3 L821.0,501.1 L822.0,501.1 L823.0,500.8 L824.0,500.7 L825.0,500.9 L826.0,500.4 L827.0,500.6 L828.0,500.5 L829.0,501.1 L830.0,500.8 L831.0,500.3 L832.0,500.9 L833.0,501.0 L834.0,501.3 L835.0,500.6 L836.0,500.9 L837.0,501.5 L838.0,500.7 L839.0,500.7 L840.0,501.0 L841.0,500.6 L842.0,500.8 L843.0,500.6 L844.0,500.5 L845.0,501.1 L846.0,500.7 L847.0,500.4 L848.0,500.7 L849.0,500.7 L850.0,500.9 L851.0,501.1 L852.0,501.4 L853.0,500.4 L854.0,500.7 L855.0,500.1 L856.0,500.9 L857.0,501.0 L858.0,500.6 L859.0,500.5 L860.0,500.4 L861.0,500.3 L862.0,501.0 L863.0,501.5 L864.0,500.4 L865.0,501.4 L866.0,500.7 L867.0,500.3 L868.0,501.0 L869.0,501.0 L870.0,500.9 L871.0,500.7 L872.0,501.4 L873.0,500.7 L874.0,501.0 L875.0,501.0 L876.0,500.4 L877.0,500.1 L878.0,500.1 L879.0,500.6 L880.0,500.9 L881.0,500.1 M900.0,503.2 L901.0,504.0 L902.0,502.8 L903.0,503.6 L904.0,503.5 L905.0,503.7 L906.0,502.9 L907.0,503.5 L908.0,502.9 L909.0,503.9 L910.0,503.1 L911.0,503.5 L912.0,503.1 L913.0,503.4 L914.0,502.8 L915.0,503.5 L916.0,503.6 L917.0,503.4 L918.0,503.9 L919.0,503.5 L920.0,503.6 L921.0,503.5 L922.0,504.0 L923.0,503.1 L924.0,503.2 L925.0,503.3 L926.0,503.6 L927.0,503.4 L928.0,503.6 L929.0,503.4 L930.0,503.1 L931.0,503.3 L932.0,503.5 L933.0,502.5 L934.0,503.8 L935.0,503.1 L936.0,503.2 L937.0,503.4 L938.0,503.2 L939.0,502.8 L940.0,503.2 L941.0,503.8 L942.0,503.6 L943.0,503.7 L944.0,503.1 L945.0,503.2 L946.0,503.6 L947.0,503.8 L948.0,503.3 L949.0,502.9 L950.0,502.6 L951.0,503.7 L952.0,502.7 L953.0,503.4 L954.0,503.5 L955.0,504.4 L956.0,503.3 L957.0,503.2 L958.0,503.4 L959.0,503.4 L960.0,503.7 L961.0,503.4 L962.0,502.9 L963.0,502.4 L964.0,503.3 L965.0,502.9 L966.0,503.6 L967.0,502.7 L968.0,503.2 L969.0,502.9 L970.0,502.8 L971.0,503.7 L972.0,503.2 L973.0,503.0 L974.0,503.3 L975.0,502.8 L976.0,502.9 L977.0,502.8 L978.0,503.7 L979.0,503.1 L980.0,503.2 L981.0,503.4 L982.0,502.9 L983.0,502.9 L984.0,502.4 L985.0,503.1 L986.0,503.0 L987.0,502.8 L988.0,503.3 L989.0,502.2 L990.0,503.0 L991.0,502.4 L992.0,502.4 L993.0,502.8 L994.0,503.3 L995.0,502.4 L996.0,502.4 L997.0,502.3 L998.0,503.5 L999.0,502.9 L1000.0,502.9 L1001.0,503.4 L1002.0,502.8 L1003.0,501.9 L1004.0,502.4 L1005.0,502.2 L1006.0,503.3 L1007.0,502.1 L1008.0,502.7 L1009.0,502.3 L1010.0,502.3 L1011.0,502.5 L1012.0,502.4 L1013.0,502.2 L1014.0,501.9 L1015.0,502.1 L1016.0,501.9 L1017.0,502.0 L1018.0,502.3 L1019.0,502.2 L1020.0,502.4 L1021.0,502.1 L1022.0,502.8 L1023.0,501.8 L1024.0,501.7 L1025.0,502.4 L1026.0,501.7 L1027.0,501.9 L1028.0,502.2 L1029.0,501.8 L1030.0,501.6 L1031.0,502.0 L1032.0,501.8 L1033.0,501.4 L1034.0,501.1 L1035.0,501.3 L1036.0,500.8 L1037.0,501.0 L1038.0,500.9 L1039.0,501.3 L1040.0,501.4 L1041.0,500.8 L1042.0,500.8 L1043.0,500.5 L1044.0,500.3 L1045.0,500.5 L1046.0,500.8 L1047.0,500.6 L1048.0,500.6 L1049.0,500.2 L1050.0,499.1 L1051.0,500.4 L1052.0,500.4 L1053.0,500.1 L1054.0,499.9 L1055.0,499.9 L1056.0,500.3 L1057.0,499.3 L1058.0,499.5 L1059.0,499.1 L1060.0,498.9 L1061.0,498.4 L1062.0,498.1 L1063.0,497.6 L1064.0,498.0 L1065.0,497.4 L1066.0,496.9 L1067.0,496.8 L1068.0,496.3 L1069.0,497.1 L1070.0,496.1 L1071.0,495.9 L1072.0,495.1 L1073.0,494.9 L1074.0,495.3 L1075.0,494.5 L1076.0,494.3 L1077.0,494.5 L1078.0,494.2 L1079.0,493.3 L1080.0,492.8 L1081.0,492.4 L1082.0,491.8 L1083.0,492.2 L1084.0,490.7 L1085.0,490.7 L1086.0,489.7 L1087.0,489.6 L1088.0,489.9 L1089.0,489.7 L1090.0,489.4 L1091.0,489.0 L1092.0,488.7 L1093.0,488.6 L1094.0,488.6 L1095.0,489.1 L1096.0,489.3 L1097.0,489.0 L1098.0,488.7 L1099.0,488.7 L1100.0,489.4 L1101.0,489.4 L1102.0,489.1 L1103.0,490.6 L1104.0,490.4 L1105.0,490.6 L1106.0,490.8 L1107.0,491.2 L1108.0,492.2 L1109.0,491.9 L1110.0,492.7 L1111.0,493.3 L1112.0,494.1 L1113.0,494.0 L1114.0,494.2 L1115.0,494.4 L1116.0,495.2 L1117.0,495.6 L1118.0,495.4 L1119.0,496.1 L1120.0,496.1 L1121.0,495.9 L1122.0,496.4 L1123.0,497.3 L1124.0,497.8 L1125.0,497.8 L1126.0,497.7 L1127.0,497.7 L1128.0,498.4 L1129.0,498.5 L1130.0,498.0 L1131.0,499.0 L1132.0,498.7 L1133.0,499.4 L1134.0,499.5 L1135.0,499.7 L1136.0,500.0 L1137.0,500.0 L1138.0,499.5 L1139.0,499.6 L1140.0,500.5 L1141.0,500.4 L1142.0,499.8 L1143.0,499.7 L1144.0,500.9 L1145.0,501.5 L1146.0,501.0 L1147.0,500.8 L1148.0,501.0 L1149.0,500.0 L1150.0,500.7 L1151.0,501.5 L1152.0,501.5 L1153.0,500.5 L1154.0,501.8 L1155.0,501.6 L1156.0,501.8 L1157.0,501.5 L1158.0,501.6 L1159.0,501.3 L1160.0,501.8 L1161.0,502.1 L1162.0,501.5 L1163.0,502.0 L1164.0,501.7 L1165.0,502.3 L1166.0,502.3 L1167.0,501.2 L1168.0,502.2 L1169.0,502.5 L1170.0,501.9 L1171.0,502.1 L1172.0,502.1 L1173.0,501.8 L1174.0,502.2 L1175.0,502.9 L1176.0,502.5 L1177.0,502.9 L1178.0,502.7 L1179.0,502.8 L1180.0,502.5 L1181.0,502.7 L1182.0,503.2 L1183.0,503.0 L1184.0,502.6 L1185.0,502.3 L1186.0,502.2 L1187.0,502.7 L1188.0,502.8 L1189.0,502.0 L1190.0,502.7 L1191.0,502.8 L1192.0,502.8 L1193.0,502.5 L1194.0,503.5 L1195.0,503.0 L1196.0,502.2 L1197.0,502.5 L1198.0,503.1 L1199.0,503.0 L1200.0,502.8 L1201.0,502.8 L1202.0,502.7 L1203.0,502.7 L1204.0,502.5 L1205.0,503.1 L1206.0,501.8 L1207.0,502.6 L1208.0,503.3 L1209.0,502.6 L1210.0,502.5 L1211.0,503.6 L1212.0,503.3 L1213.0,502.9 L1214.0,502.7 L1215.0,502.8 L1216.0,502.8 L1217.0,502.9 L1218.0,502.7 L1219.0,503.1 L1220.0,502.8 L1221.0,502.3 L1222.0,502.5 L1223.0,503.0 L1224.0,502.6 L1225.0,502.1 L1226.0,503.5 L1227.0,503.2 L1228.0,502.8 L1229.0,502.8 L1230.0,503.2 L1231.0,503.5 L1232.0,502.8 L1233.0,503.2 L1234.0,502.8 L1235.0,503.1 L1236.0,502.6 L1237.0,502.3 L1238.0,503.0 L1239.0,503.0 L1240.0,503.3 L1241.0,502.8 L1242.0,503.5 L1243.0,503.0 L1244.0,503.6 L1245.0,502.9 L1246.0,503.6 L1247.0,503.0 L1248.0,503.1 L1249.0,503.4 L1250.0,502.4 L1251.0,502.6 L1252.0,503.7 L1253.0,502.5 L1254.0,502.8 L1255.0,503.2 L1256.0,503.5 L1257.0,502.8 L1258.0,503.0 L1259.0,502.6 L1260.0,502.8 L1261.0,503.3 L1262.0,503.1 L1263.0,502.9 L1264.0,503.1 L1265.0,503.0 L1266.0,503.0 L1267.0,502.8 L1268.0,502.6 L1269.0,503.1 L1270.0,502.5 L1271.0,503.2 L1272.0,503.6 L1273.0,503.4 L1274.0,503.7 L1275.0,502.4 L1276.0,502.9 L1277.0,502.5 L1278.0,502.5 L1279.0,502.1 L1280.0,502.3 L1281.0,503.0 L1282.0,503.0 L1283.0,503.1 L1284.0,503.1 L1285.0,502.9 L1286.0,502.3 L1287.0,502.5 L1288.0,502.8 L1289.0,503.0 L1290.0,502.4 L1291.0,502.3 L1292.0,502.3 L1293.0,503.0 L1294.0,502.6 L1295.0,502.2 L1296.0,502.0 L1297.0,502.4 L1298.0,501.6 L1299.0,502.1 L1300.0,502.0 L1301.0,501.9 L1302.0,502.2 L1303.0,502.2 L1304.0,503.1 L1305.0,502.0 L1306.0,502.2 L1307.0,501.6 L1308.0,501.3 L1309.0,502.3 L1310.0,502.5 L1311.0,501.4 L1312.0,501.8 L1313.0,502.2 L1314.0,501.8 L1315.0,500.9 L1316.0,502.1 L1317.0,501.7 L1318.0,502.0 L1319.0,501.4 L1320.0,502.0 L1321.0,502.1 L1322.0,501.5 L1323.0,501.9 L1324.0,501.5 L1325.0,501.6 L1326.0,501.5 L1327.0,501.7 L1328.0,501.6 L1329.0,502.3 L1330.0,501.9 L1331.0,501.6 L1332.0,502.5 L1333.0,502.2 L1334.0,502.4 L1335.0,502.1 L1336.0,502.4 L1337.0,502.2 L1338.0,501.9 L1339.0,502.3 L1340.0,502.4 L1341.0,502.4 L1342.0,502.7 L1343.0,501.8 L1344.0,502.6 L1345.0,502.2 L1346.0,502.5 L1347.0,502.8 L1348.0,502.7 L1349.0,502.4 L1350.0,503.0 L1351.0,502.7 L1352.0,503.1 L1353.0,503.2 L1354.0,502.7 L1355.0,502.4 L1356.0,502.9 L1357.0,503.2 L1358.0,503.0 L1359.0,502.5 L1360.0,502.3 L1361.0,502.6 L1362.0,502.7 L1363.0,503.2 L1364.0,503.1 L1365.0,503.4 L1366.0,503.0 L1367.0,503.7 L1368.0,503.1 L1369.0,503.3 L1370.0,503.0 L1371.0,503.3 L1372.0,503.5 L1373.0,503.5 L1374.0,503.6 L1375.0,503.0 L1376.0,503.4 L1377.0,503.8 L1378.0,503.3 L1379.0,503.2 L1380.0,503.2 L1381.0,503.1" fill="none" stroke="#3b63b5" stroke-width="7.2" stroke-linejoin="round" stroke-linecap="butt"/>
<path d="M302.0,660.4 L303.0,660.9 L304.0,660.5 L305.0,660.4 L306.0,660.1 L307.0,660.0 L308.0,661.2 L309.0,660.2 L310.0,660.4 L311.0,660.2 L312.0,660.5 L313.0,660.3 L314.0,660.5 L315.0,660.9 L316.0,660.2 L317.0,660.6 L318.0,660.4 L319.0,660.7 L320.0,660.2 L321.0,660.6 L322.0,660.1 L323.0,659.8 L324.0,660.0 L325.0,660.1 L326.0,660.1 L327.0,660.3 L328.0,660.9 L329.0,660.1 L330.0,660.6 L331.0,660.5 L332.0,660.2 L333.0,660.2 L334.0,660.6 L335.0,660.7 L336.0,660.4 L337.0,660.4 L338.0,660.5 L339.0,660.0 L340.0,660.5 L341.0,660.6 L342.0,661.1 L343.0,660.1 L344.0,660.2 L345.0,660.5 L346.0,660.3 L347.0,660.4 L348.0,660.5 L349.0,660.4 L350.0,660.5 L351.0,660.7 L352.0,660.0 L353.0,660.7 L354.0,659.7 L355.0,661.1 L356.0,660.9 L357.0,660.3 L358.0,660.9 L359.0,660.5 L360.0,660.7 L361.0,660.8 L362.0,660.7 L363.0,660.6 L364.0,660.8 L365.0,660.5 L366.0,660.4 L367.0,660.2 L368.0,659.9 L369.0,661.1 L370.0,660.8 L371.0,660.1 L372.0,660.7 L373.0,660.6 L374.0,659.8 L375.0,660.2 L376.0,660.5 L377.0,661.1 L378.0,660.9 L379.0,661.0 L380.0,660.6 L381.0,660.9 L382.0,660.1 L383.0,660.7 L384.0,660.7 L385.0,660.0 L386.0,660.6 L387.0,661.0 L388.0,661.1 L389.0,660.9 L390.0,660.2 L391.0,660.4 L392.0,660.2 L393.0,660.8 L394.0,660.1 L395.0,660.0 L396.0,659.8 L397.0,660.4 L398.0,660.5 L399.0,660.1 L400.0,660.0 L401.0,660.2 L402.0,660.7 L403.0,659.7 L404.0,660.1 L405.0,660.2 L406.0,660.2 L407.0,660.5 L408.0,660.3 L409.0,660.0 L410.0,660.4 L411.0,660.2 L412.0,659.9 L413.0,659.8 L414.0,659.3 L415.0,659.6 L416.0,659.2 L417.0,659.0 L418.0,659.2 L419.0,658.6 L420.0,658.8 L421.0,658.8 L422.0,659.0 L423.0,658.6 L424.0,658.7 L425.0,659.0 L426.0,658.5 L427.0,657.7 L428.0,657.2 L429.0,657.3 L430.0,657.0 L431.0,656.3 L432.0,656.1 L433.0,655.8 L434.0,655.7 L435.0,656.0 L436.0,655.6 L437.0,654.2 L438.0,653.8 L439.0,652.8 L440.0,652.0 L441.0,651.8 L442.0,651.1 L443.0,650.1 L444.0,649.7 L445.0,648.5 L446.0,648.3 L447.0,647.0 L448.0,646.9 L449.0,646.2 L450.0,646.1 L451.0,646.2 L452.0,645.8 L453.0,646.4 L454.0,647.2 L455.0,647.8 L456.0,648.8 L457.0,649.2 L458.0,649.9 L459.0,651.1 L460.0,652.0 L461.0,652.4 L462.0,653.8 L463.0,654.3 L464.0,654.9 L465.0,655.4 L466.0,655.4 L467.0,656.8 L468.0,656.3 L469.0,657.0 L470.0,657.5 L471.0,657.6 L472.0,657.9 L473.0,657.8 L474.0,658.2 L475.0,658.5 L476.0,659.1 L477.0,658.6 L478.0,659.3 L479.0,659.3 L480.0,659.4 L481.0,659.3 L482.0,659.5 L483.0,659.1 L484.0,659.8 L485.0,660.0 L486.0,659.8 L487.0,660.2 L488.0,660.2 L489.0,659.9 L490.0,660.6 L491.0,660.1 L492.0,661.2 L493.0,660.1 L494.0,660.2 L495.0,660.3 L496.0,660.7 L497.0,661.0 L498.0,660.7 L499.0,660.6 L500.0,661.4 L501.0,661.1 L502.0,660.7 L503.0,660.8 L504.0,660.3 L505.0,660.9 L506.0,661.5 L507.0,660.5 L508.0,660.5 L509.0,661.0 L510.0,660.2 L511.0,661.5 L512.0,660.5 L513.0,660.8 L514.0,661.0 L515.0,661.5 L516.0,661.3 L517.0,660.5 L518.0,660.6 L519.0,661.2 L520.0,660.4 L521.0,661.1 L522.0,660.9 L523.0,661.5 L524.0,661.6 L525.0,660.4 L526.0,661.4 L527.0,661.5 L528.0,661.0 L529.0,661.1 L530.0,660.9 L531.0,661.2 L532.0,661.4 L533.0,661.8 L534.0,661.8 L535.0,661.2 L536.0,661.0 L537.0,661.7 L538.0,660.4 L539.0,660.8 L540.0,661.6 L541.0,662.1 L542.0,661.1 L543.0,661.4 L544.0,661.0 L545.0,661.3 L546.0,661.3 L547.0,661.1 L548.0,661.5 L549.0,661.3 L550.0,661.5 L551.0,661.3 L552.0,660.9 L553.0,661.4 L554.0,661.7 L555.0,661.1 L556.0,661.8 L557.0,661.5 L558.0,661.2 L559.0,661.4 L560.0,661.2 L561.0,661.0 L562.0,661.7 L563.0,661.7 L564.0,661.2 L565.0,661.3 L566.0,661.3 L567.0,661.6 L568.0,661.8 L569.0,661.1 L570.0,661.4 L571.0,661.3 L572.0,661.5 L573.0,661.8 L574.0,661.0 L575.0,660.5 L576.0,661.2 L577.0,660.7 L578.0,661.8 L579.0,661.0 L580.0,661.1 L581.0,661.3 L582.0,661.2 L583.0,661.0 L584.0,661.1 L585.0,661.4 L586.0,661.0 L587.0,661.7 L588.0,661.1 L589.0,660.2 L590.0,661.3 L591.0,660.3 L592.0,661.0 L593.0,661.6 L594.0,661.2 L595.0,660.4 L596.0,660.4 L597.0,660.7 L598.0,661.1 L599.0,660.3 L600.0,660.9 L601.0,660.6 L602.0,660.4 L603.0,660.3 L604.0,660.9 L605.0,659.7 L606.0,659.8 L607.0,660.4 L608.0,660.4 L609.0,659.5 L610.0,659.5 L611.0,659.4 L612.0,659.9 L613.0,659.4 L614.0,660.0 L615.0,659.7 L616.0,659.4 L617.0,659.2 L618.0,659.2 L619.0,659.2 L620.0,658.8 L621.0,658.7 L622.0,658.8 L623.0,658.3 L624.0,658.5 L625.0,658.0 L626.0,657.6 L627.0,657.7 L628.0,658.0 L629.0,657.7 L630.0,656.4 L631.0,656.9 L632.0,656.3 L633.0,656.1 L634.0,655.8 L635.0,655.6 L636.0,655.2 L637.0,654.9 L638.0,654.8 L639.0,653.9 L640.0,653.5 L641.0,653.1 L642.0,652.7 L643.0,652.8 L644.0,651.7 L645.0,651.6 L646.0,651.0 L647.0,650.7 L648.0,649.8 L649.0,649.4 L650.0,648.2 L651.0,647.3 L652.0,646.4 L653.0,644.4 L654.0,643.6 L655.0,642.3 L656.0,639.7 L657.0,637.3 L658.0,635.5 L659.0,632.3 L660.0,630.6 L661.0,628.0 L662.0,628.7 L663.0,629.0 L664.0,630.2 L665.0,631.2 L666.0,631.0 L667.0,630.6 L668.0,628.6 L669.0,628.0 L670.0,625.3 L671.0,620.9 L672.0,615.3 L673.0,608.5 L674.0,599.6 L675.0,587.7 L676.0,573.7 L677.0,556.2 L678.0,539.0 L679.0,526.5 L680.0,521.8 L681.0,526.6 L682.0,540.3 L683.0,557.4 L684.0,574.2 L685.0,589.3 L686.0,601.0 L687.0,611.6 L688.0,619.3 L689.0,625.5 L690.0,629.7 L691.0,633.5 L692.0,636.1 L693.0,638.6 L694.0,641.3 L695.0,643.4 L696.0,643.1 L697.0,644.2 L698.0,645.2 L699.0,645.0 L700.0,645.6 L701.0,645.4 L702.0,645.3 L703.0,645.7 L704.0,645.3 L705.0,645.0 L706.0,646.1 L707.0,646.3 L708.0,646.8 L709.0,647.6 L710.0,649.0 L711.0,649.6 L712.0,650.8 L713.0,652.0 L714.0,652.5 L715.0,653.7 L716.0,653.6 L717.0,654.9 L718.0,655.4 L719.0,656.4 L720.0,656.2 L721.0,656.9 L722.0,656.9 L723.0,656.9 L724.0,657.3 L725.0,657.6 L726.0,658.4 L727.0,658.1 L728.0,658.5 L729.0,659.0 L730.0,659.3 L731.0,659.4 L732.0,659.7 L733.0,658.9 L734.0,659.3 L735.0,659.7 L736.0,660.0 L737.0,659.9 L738.0,659.6 L739.0,659.9 L740.0,659.4 L741.0,660.4 L742.0,659.5 L743.0,660.3 L744.0,660.7 L745.0,660.7 L746.0,659.9 L747.0,660.5 L748.0,660.4 L749.0,660.5 L750.0,661.2 L751.0,660.8 L752.0,660.2 L753.0,660.4 L754.0,661.0 L755.0,660.9 L756.0,660.5 L757.0,660.3 L758.0,660.7 L759.0,660.8 L760.0,661.3 L761.0,660.8 L762.0,661.3 L763.0,661.5 L764.0,660.5 L765.0,660.9 L766.0,661.7 L767.0,661.0 L768.0,661.2 L769.0,661.5 L770.0,660.9 L771.0,661.1 L772.0,660.7 L773.0,661.5 L774.0,661.1 L775.0,661.2 L776.0,660.4 L777.0,661.7 L778.0,661.6 L779.0,661.1 L780.0,661.8 L781.0,660.5 L782.0,661.4 L783.0,660.8 L784.0,662.4 L785.0,660.5 L786.0,661.0 L787.0,661.2 L788.0,661.7 L789.0,661.8 L790.0,661.6 L791.0,661.4 L792.0,662.2 L793.0,661.2 L794.0,661.6 L795.0,662.1 L796.0,661.1 L797.0,661.2 L798.0,661.9 L799.0,661.7 L800.0,661.1 L801.0,661.6 L802.0,662.2 L803.0,661.5 L804.0,661.9 L805.0,661.6 L806.0,661.4 L807.0,662.2 L808.0,661.9 L809.0,662.0 L810.0,661.6 L811.0,661.7 L812.0,661.7 L813.0,661.8 L814.0,661.5 L815.0,661.5 L816.0,662.1 L817.0,661.3 L818.0,661.5 L819.0,661.5 L820.0,661.5 L821.0,661.2 L822.0,661.4 L823.0,662.0 L824.0,661.5 L825.0,661.4 L826.0,662.3 L827.0,661.2 L828.0,662.0 L829.0,661.8 L830.0,661.2 L831.0,661.6 L832.0,661.6 L833.0,662.2 L834.0,662.0 L835.0,661.6 L836.0,661.3 L837.0,661.1 L838.0,661.7 L839.0,661.2 L840.0,661.7 L841.0,661.6 L842.0,661.9 L843.0,662.1 L844.0,661.8 L845.0,661.9 L846.0,661.7 L847.0,662.1 L848.0,662.0 L849.0,662.3 L850.0,662.2 L851.0,661.5 L852.0,661.2 L853.0,662.0 L854.0,662.1 L855.0,661.5 L856.0,662.3 L857.0,661.8 L858.0,661.7 L859.0,661.9 L860.0,661.2 L861.0,661.2 L862.0,661.6 L863.0,661.3 L864.0,661.7 L865.0,661.7 L866.0,660.8 L867.0,661.5 L868.0,661.9 L869.0,660.9 L870.0,661.6 L871.0,661.3 L872.0,661.1 L873.0,662.1 L874.0,662.1 L875.0,661.6 L876.0,661.6 L877.0,662.2 L878.0,662.2 L879.0,661.7 L880.0,662.0 L881.0,661.8 M900.0,661.6 L901.0,661.9 L902.0,661.5 L903.0,661.9 L904.0,661.6 L905.0,661.5 L906.0,661.5 L907.0,661.8 L908.0,662.0 L909.0,661.8 L910.0,661.4 L911.0,661.9 L912.0,661.3 L913.0,661.3 L914.0,661.6 L915.0,661.9 L916.0,661.9 L917.0,661.8 L918.0,662.1 L919.0,661.9 L920.0,661.5 L921.0,661.9 L922.0,661.5 L923.0,661.8 L924.0,661.8 L925.0,661.6 L926.0,661.1 L927.0,661.6 L928.0,661.5 L929.0,661.6 L930.0,661.5 L931.0,661.2 L932.0,661.0 L933.0,661.8 L934.0,661.9 L935.0,661.7 L936.0,661.6 L937.0,662.3 L938.0,661.8 L939.0,661.6 L940.0,661.9 L941.0,661.5 L942.0,661.8 L943.0,661.7 L944.0,661.7 L945.0,661.6 L946.0,661.4 L947.0,661.7 L948.0,661.9 L949.0,661.2 L950.0,661.3 L951.0,661.1 L952.0,661.8 L953.0,661.4 L954.0,661.8 L955.0,661.2 L956.0,661.8 L957.0,661.3 L958.0,661.3 L959.0,661.7 L960.0,661.3 L961.0,661.2 L962.0,661.8 L963.0,661.4 L964.0,661.9 L965.0,662.3 L966.0,661.2 L967.0,661.3 L968.0,660.9 L969.0,661.0 L970.0,661.6 L971.0,661.5 L972.0,661.5 L973.0,661.5 L974.0,661.0 L975.0,660.7 L976.0,661.7 L977.0,661.4 L978.0,661.7 L979.0,661.3 L980.0,661.5 L981.0,661.1 L982.0,661.2 L983.0,661.2 L984.0,661.4 L985.0,661.7 L986.0,661.4 L987.0,660.2 L988.0,661.1 L989.0,661.2 L990.0,661.4 L991.0,661.2 L992.0,660.9 L993.0,660.8 L994.0,661.0 L995.0,660.8 L996.0,661.5 L997.0,661.2 L998.0,661.0 L999.0,661.3 L1000.0,661.7 L1001.0,660.9 L1002.0,660.9 L1003.0,660.8 L1004.0,660.5 L1005.0,660.6 L1006.0,660.5 L1007.0,661.0 L1008.0,660.9 L1009.0,661.1 L1010.0,660.5 L1011.0,661.0 L1012.0,660.3 L1013.0,660.6 L1014.0,661.1 L1015.0,661.0 L1016.0,660.9 L1017.0,661.2 L1018.0,660.8 L1019.0,660.4 L1020.0,660.3 L1021.0,660.1 L1022.0,660.4 L1023.0,660.0 L1024.0,660.0 L1025.0,659.9 L1026.0,659.6 L1027.0,661.0 L1028.0,660.4 L1029.0,659.3 L1030.0,660.1 L1031.0,659.7 L1032.0,659.1 L1033.0,659.7 L1034.0,659.8 L1035.0,659.8 L1036.0,659.9 L1037.0,659.2 L1038.0,659.4 L1039.0,659.6 L1040.0,659.4 L1041.0,659.3 L1042.0,659.1 L1043.0,659.4 L1044.0,658.5 L1045.0,658.3 L1046.0,659.3 L1047.0,658.7 L1048.0,658.8 L1049.0,658.4 L1050.0,658.1 L1051.0,657.9 L1052.0,658.0 L1053.0,657.6 L1054.0,657.6 L1055.0,657.4 L1056.0,657.6 L1057.0,657.4 L1058.0,657.5 L1059.0,656.5 L1060.0,656.5 L1061.0,656.6 L1062.0,656.2 L1063.0,655.0 L1064.0,655.7 L1065.0,655.3 L1066.0,654.9 L1067.0,654.7 L1068.0,654.3 L1069.0,654.6 L1070.0,654.1 L1071.0,653.6 L1072.0,653.6 L1073.0,653.2 L1074.0,652.2 L1075.0,651.8 L1076.0,651.4 L1077.0,651.6 L1078.0,651.0 L1079.0,651.0 L1080.0,650.4 L1081.0,649.8 L1082.0,649.0 L1083.0,649.0 L1084.0,649.5 L1085.0,648.2 L1086.0,647.8 L1087.0,647.8 L1088.0,648.1 L1089.0,647.4 L1090.0,646.9 L1091.0,646.9 L1092.0,647.0 L1093.0,647.1 L1094.0,647.4 L1095.0,648.0 L1096.0,647.7 L1097.0,647.6 L1098.0,647.6 L1099.0,647.6 L1100.0,648.3 L1101.0,648.9 L1102.0,649.0 L1103.0,649.1 L1104.0,649.7 L1105.0,649.8 L1106.0,650.2 L1107.0,650.5 L1108.0,651.0 L1109.0,651.4 L1110.0,652.1 L1111.0,652.1 L1112.0,652.5 L1113.0,653.2 L1114.0,653.5 L1115.0,653.9 L1116.0,653.6 L1117.0,654.7 L1118.0,654.5 L1119.0,654.4 L1120.0,655.0 L1121.0,654.9 L1122.0,655.3 L1123.0,655.7 L1124.0,656.4 L1125.0,655.8 L1126.0,656.6 L1127.0,656.6 L1128.0,657.5 L1129.0,657.2 L1130.0,657.5 L1131.0,657.9 L1132.0,657.2 L1133.0,657.7 L1134.0,657.4 L1135.0,657.8 L1136.0,658.3 L1137.0,658.3 L1138.0,658.6 L1139.0,658.4 L1140.0,658.4 L1141.0,658.7 L1142.0,658.6 L1143.0,658.6 L1144.0,658.5 L1145.0,659.1 L1146.0,659.4 L1147.0,658.9 L1148.0,659.2 L1149.0,658.7 L1150.0,659.1 L1151.0,659.6 L1152.0,659.2 L1153.0,659.9 L1154.0,659.6 L1155.0,660.0 L1156.0,659.7 L1157.0,659.5 L1158.0,660.0 L1159.0,660.3 L1160.0,659.9 L1161.0,660.3 L1162.0,659.9 L1163.0,660.1 L1164.0,660.7 L1165.0,660.3 L1166.0,660.0 L1167.0,660.6 L1168.0,660.4 L1169.0,660.3 L1170.0,660.7 L1171.0,659.5 L1172.0,660.7 L1173.0,661.2 L1174.0,660.7 L1175.0,660.0 L1176.0,661.1 L1177.0,661.5 L1178.0,660.9 L1179.0,660.4 L1180.0,660.5 L1181.0,660.7 L1182.0,660.9 L1183.0,661.2 L1184.0,661.0 L1185.0,660.1 L1186.0,660.8 L1187.0,660.9 L1188.0,661.6 L1189.0,660.7 L1190.0,660.5 L1191.0,660.9 L1192.0,661.1 L1193.0,660.4 L1194.0,661.4 L1195.0,661.0 L1196.0,661.3 L1197.0,661.3 L1198.0,661.3 L1199.0,661.6 L1200.0,661.7 L1201.0,661.0 L1202.0,661.1 L1203.0,661.5 L1204.0,661.2 L1205.0,661.0 L1206.0,661.2 L1207.0,660.9 L1208.0,661.0 L1209.0,660.0 L1210.0,661.3 L1211.0,661.8 L1212.0,661.5 L1213.0,661.5 L1214.0,661.3 L1215.0,661.0 L1216.0,661.4 L1217.0,661.3 L1218.0,661.2 L1219.0,661.4 L1220.0,661.1 L1221.0,661.3 L1222.0,661.5 L1223.0,661.6 L1224.0,661.4 L1225.0,661.6 L1226.0,661.4 L1227.0,660.5 L1228.0,660.7 L1229.0,661.3 L1230.0,660.9 L1231.0,661.5 L1232.0,660.9 L1233.0,661.2 L1234.0,661.2 L1235.0,661.1 L1236.0,661.1 L1237.0,661.3 L1238.0,661.4 L1239.0,661.2 L1240.0,661.4 L1241.0,661.5 L1242.0,661.3 L1243.0,661.1 L1244.0,661.1 L1245.0,661.2 L1246.0,661.2 L1247.0,661.4 L1248.0,662.3 L1249.0,661.7 L1250.0,661.4 L1251.0,661.5 L1252.0,661.5 L1253.0,661.8 L1254.0,661.8 L1255.0,661.0 L1256.0,662.1 L1257.0,661.0 L1258.0,661.3 L1259.0,661.0 L1260.0,660.7 L1261.0,660.7 L1262.0,662.0 L1263.0,661.8 L1264.0,660.9 L1265.0,660.9 L1266.0,661.8 L1267.0,660.9 L1268.0,661.4 L1269.0,661.9 L1270.0,661.5 L1271.0,661.7 L1272.0,661.3 L1273.0,660.6 L1274.0,660.9 L1275.0,660.5 L1276.0,661.3 L1277.0,660.7 L1278.0,661.1 L1279.0,660.9 L1280.0,660.8 L1281.0,661.2 L1282.0,660.9 L1283.0,660.7 L1284.0,661.3 L1285.0,660.9 L1286.0,660.4 L1287.0,661.3 L1288.0,660.4 L1289.0,660.9 L1290.0,661.0 L1291.0,660.7 L1292.0,660.5 L1293.0,660.6 L1294.0,660.6 L1295.0,660.3 L1296.0,660.9 L1297.0,660.4 L1298.0,660.3 L1299.0,661.0 L1300.0,660.2 L1301.0,659.9 L1302.0,660.4 L1303.0,660.4 L1304.0,660.3 L1305.0,661.0 L1306.0,660.1 L1307.0,660.7 L1308.0,660.5 L1309.0,660.7 L1310.0,660.1 L1311.0,660.0 L1312.0,660.0 L1313.0,660.2 L1314.0,660.4 L1315.0,660.6 L1316.0,659.4 L1317.0,660.4 L1318.0,660.1 L1319.0,660.0 L1320.0,659.7 L1321.0,660.1 L1322.0,659.4 L1323.0,660.5 L1324.0,659.7 L1325.0,660.0 L1326.0,660.1 L1327.0,660.3 L1328.0,659.7 L1329.0,660.5 L1330.0,660.4 L1331.0,660.8 L1332.0,660.4 L1333.0,660.3 L1334.0,659.7 L1335.0,660.3 L1336.0,661.0 L1337.0,660.4 L1338.0,660.4 L1339.0,660.5 L1340.0,660.9 L1341.0,660.1 L1342.0,661.3 L1343.0,661.0 L1344.0,661.0 L1345.0,660.8 L1346.0,661.5 L1347.0,660.7 L1348.0,661.2 L1349.0,661.0 L1350.0,660.6 L1351.0,661.0 L1352.0,661.3 L1353.0,661.0 L1354.0,661.0 L1355.0,661.1 L1356.0,660.9 L1357.0,660.8 L1358.0,661.2 L1359.0,660.9 L1360.0,661.4 L1361.0,661.5 L1362.0,661.7 L1363.0,661.6 L1364.0,661.2 L1365.0,661.5 L1366.0,661.0 L1367.0,661.5 L1368.0,661.2 L1369.0,661.9 L1370.0,661.2 L1371.0,661.5 L1372.0,661.2 L1373.0,661.7 L1374.0,661.7 L1375.0,661.1 L1376.0,662.2 L1377.0,661.7 L1378.0,661.0 L1379.0,661.2 L1380.0,660.9 L1381.0,660.9" fill="none" stroke="#d92c45" stroke-width="7.2" stroke-linejoin="round" stroke-linecap="butt"/>
<path d="M302.0,818.9 L303.0,818.2 L304.0,819.0 L305.0,818.4 L306.0,818.8 L307.0,819.5 L308.0,818.8 L309.0,818.9 L310.0,819.4 L311.0,818.8 L312.0,819.1 L313.0,818.7 L314.0,818.8 L315.0,819.0 L316.0,819.0 L317.0,818.7 L318.0,819.1 L319.0,819.2 L320.0,819.2 L321.0,819.0 L322.0,818.7 L323.0,819.3 L324.0,819.3 L325.0,818.7 L326.0,818.2 L327.0,819.0 L328.0,819.4 L329.0,819.3 L330.0,818.6 L331.0,819.5 L332.0,818.8 L333.0,819.4 L334.0,818.9 L335.0,819.4 L336.0,819.3 L337.0,819.0 L338.0,819.3 L339.0,818.9 L340.0,819.0 L341.0,819.0 L342.0,818.8 L343.0,819.4 L344.0,819.4 L345.0,819.1 L346.0,818.8 L347.0,819.3 L348.0,819.2 L349.0,819.4 L350.0,819.1 L351.0,819.1 L352.0,819.6 L353.0,818.9 L354.0,819.1 L355.0,818.5 L356.0,819.0 L357.0,819.0 L358.0,819.1 L359.0,819.4 L360.0,819.0 L361.0,819.3 L362.0,819.0 L363.0,819.0 L364.0,818.5 L365.0,819.3 L366.0,819.4 L367.0,818.8 L368.0,819.0 L369.0,818.6 L370.0,819.1 L371.0,818.8 L372.0,819.3 L373.0,819.1 L374.0,819.4 L375.0,818.9 L376.0,818.6 L377.0,819.2 L378.0,819.0 L379.0,819.8 L380.0,819.3 L381.0,819.7 L382.0,819.4 L383.0,819.1 L384.0,818.7 L385.0,819.1 L386.0,819.4 L387.0,819.2 L388.0,819.3 L389.0,819.3 L390.0,818.7 L391.0,819.3 L392.0,818.9 L393.0,819.2 L394.0,819.6 L395.0,818.5 L396.0,819.1 L397.0,819.3 L398.0,819.5 L399.0,819.2 L400.0,818.8 L401.0,819.4 L402.0,819.3 L403.0,818.5 L404.0,819.1 L405.0,818.5 L406.0,818.1 L407.0,818.7 L408.0,818.7 L409.0,818.3 L410.0,819.6 L411.0,818.5 L412.0,819.1 L413.0,819.2 L414.0,819.6 L415.0,818.7 L416.0,819.4 L417.0,818.4 L418.0,818.7 L419.0,818.6 L420.0,818.3 L421.0,818.7 L422.0,819.2 L423.0,819.2 L424.0,818.6 L425.0,817.9 L426.0,818.0 L427.0,818.4 L428.0,818.3 L429.0,818.1 L430.0,817.7 L431.0,817.4 L432.0,817.7 L433.0,817.3 L434.0,817.7 L435.0,816.7 L436.0,817.0 L437.0,816.9 L438.0,816.9 L439.0,816.6 L440.0,815.2 L441.0,814.8 L442.0,814.9 L443.0,814.1 L444.0,813.2 L445.0,814.1 L446.0,813.3 L447.0,813.2 L448.0,812.5 L449.0,812.6 L450.0,812.2 L451.0,812.1 L452.0,812.8 L453.0,811.9 L454.0,812.7 L455.0,812.3 L456.0,813.7 L457.0,813.5 L458.0,813.6 L459.0,813.8 L460.0,814.8 L461.0,816.0 L462.0,815.8 L463.0,815.5 L464.0,815.6 L465.0,817.6 L466.0,816.7 L467.0,816.6 L468.0,817.4 L469.0,817.7 L470.0,818.3 L471.0,817.8 L472.0,817.8 L473.0,818.4 L474.0,818.0 L475.0,818.5 L476.0,818.6 L477.0,818.9 L478.0,818.4 L479.0,818.5 L480.0,818.9 L481.0,819.1 L482.0,818.4 L483.0,818.7 L484.0,819.1 L485.0,819.0 L486.0,820.0 L487.0,819.4 L488.0,819.7 L489.0,819.2 L490.0,819.3 L491.0,819.4 L492.0,819.7 L493.0,819.3 L494.0,820.0 L495.0,819.2 L496.0,819.8 L497.0,819.6 L498.0,819.3 L499.0,820.0 L500.0,819.8 L501.0,819.4 L502.0,819.2 L503.0,819.8 L504.0,819.2 L505.0,819.7 L506.0,819.2 L507.0,819.5 L508.0,819.2 L509.0,819.4 L510.0,820.0 L511.0,820.1 L512.0,819.2 L513.0,819.3 L514.0,818.7 L515.0,819.4 L516.0,819.6 L517.0,818.8 L518.0,818.7 L519.0,819.1 L520.0,818.6 L521.0,818.7 L522.0,819.1 L523.0,818.5 L524.0,818.4 L525.0,818.6 L526.0,817.9 L527.0,817.9 L528.0,817.6 L529.0,817.3 L530.0,818.2 L531.0,817.3 L532.0,818.0 L533.0,817.8 L534.0,818.1 L535.0,818.1 L536.0,818.7 L537.0,819.1 L538.0,819.5 L539.0,818.5 L540.0,819.4 L541.0,819.2 L542.0,819.2 L543.0,819.5 L544.0,819.6 L545.0,819.6 L546.0,819.7 L547.0,820.5 L548.0,819.8 L549.0,819.9 L550.0,819.4 L551.0,820.2 L552.0,819.7 L553.0,819.8 L554.0,819.6 L555.0,819.9 L556.0,819.6 L557.0,819.5 L558.0,819.5 L559.0,819.8 L560.0,820.0 L561.0,820.2 L562.0,820.6 L563.0,820.6 L564.0,819.8 L565.0,819.7 L566.0,820.2 L567.0,819.7 L568.0,820.4 L569.0,820.4 L570.0,819.7 L571.0,820.3 L572.0,820.5 L573.0,820.1 L574.0,819.9 L575.0,819.9 L576.0,820.1 L577.0,819.7 L578.0,820.1 L579.0,819.9 L580.0,819.7 L581.0,819.6 L582.0,820.1 L583.0,819.6 L584.0,820.0 L585.0,819.2 L586.0,819.8 L587.0,819.9 L588.0,820.0 L589.0,820.2 L590.0,820.0 L591.0,820.0 L592.0,819.7 L593.0,819.4 L594.0,819.3 L595.0,819.4 L596.0,819.7 L597.0,819.9 L598.0,819.7 L599.0,819.6 L600.0,819.7 L601.0,819.3 L602.0,819.5 L603.0,819.3 L604.0,819.4 L605.0,819.2 L606.0,818.8 L607.0,819.0 L608.0,818.8 L609.0,819.6 L610.0,819.5 L611.0,818.7 L612.0,818.5 L613.0,818.8 L614.0,818.2 L615.0,819.1 L616.0,818.5 L617.0,818.3 L618.0,818.7 L619.0,818.7 L620.0,818.2 L621.0,818.4 L622.0,817.4 L623.0,817.6 L624.0,817.4 L625.0,817.0 L626.0,817.7 L627.0,818.1 L628.0,816.7 L629.0,816.8 L630.0,817.1 L631.0,816.5 L632.0,816.4 L633.0,815.9 L634.0,816.1 L635.0,815.4 L636.0,815.7 L637.0,815.4 L638.0,815.1 L639.0,814.4 L640.0,814.3 L641.0,814.2 L642.0,813.3 L643.0,812.9 L644.0,812.1 L645.0,812.3 L646.0,812.0 L647.0,811.9 L648.0,810.6 L649.0,810.0 L650.0,810.3 L651.0,809.5 L652.0,808.0 L653.0,807.3 L654.0,805.8 L655.0,805.2 L656.0,804.3 L657.0,802.4 L658.0,799.6 L659.0,797.5 L660.0,794.3 L661.0,791.7 L662.0,788.8 L663.0,787.5 L664.0,787.2 L665.0,787.3 L666.0,787.8 L667.0,788.0 L668.0,787.6 L669.0,785.6 L670.0,782.9 L671.0,778.9 L672.0,773.8 L673.0,765.7 L674.0,755.8 L675.0,742.6 L676.0,726.5 L677.0,709.3 L678.0,693.2 L679.0,682.6 L680.0,682.6 L681.0,693.3 L682.0,710.2 L683.0,728.1 L684.0,744.0 L685.0,757.0 L686.0,767.6 L687.0,777.2 L688.0,782.3 L689.0,787.4 L690.0,791.1 L691.0,793.4 L692.0,796.6 L693.0,797.9 L694.0,798.8 L695.0,800.2 L696.0,800.3 L697.0,800.9 L698.0,800.3 L699.0,800.5 L700.0,800.5 L701.0,799.7 L702.0,798.9 L703.0,798.7 L704.0,798.9 L705.0,798.1 L706.0,798.3 L707.0,799.6 L708.0,800.1 L709.0,801.1 L710.0,802.1 L711.0,803.6 L712.0,805.1 L713.0,806.2 L714.0,806.7 L715.0,808.6 L716.0,808.8 L717.0,810.9 L718.0,811.0 L719.0,812.1 L720.0,812.7 L721.0,813.0 L722.0,814.2 L723.0,814.3 L724.0,815.4 L725.0,815.3 L726.0,815.6 L727.0,816.6 L728.0,816.6 L729.0,816.3 L730.0,816.3 L731.0,817.5 L732.0,817.4 L733.0,817.6 L734.0,817.3 L735.0,817.3 L736.0,817.4 L737.0,818.2 L738.0,817.9 L739.0,818.3 L740.0,817.4 L741.0,818.6 L742.0,818.1 L743.0,817.5 L744.0,818.1 L745.0,818.8 L746.0,819.2 L747.0,817.8 L748.0,818.4 L749.0,818.9 L750.0,818.4 L751.0,818.9 L752.0,818.7 L753.0,819.1 L754.0,818.6 L755.0,819.1 L756.0,819.0 L757.0,819.3 L758.0,819.3 L759.0,819.7 L760.0,819.5 L761.0,820.0 L762.0,818.9 L763.0,819.4 L764.0,819.8 L765.0,819.6 L766.0,818.7 L767.0,819.7 L768.0,819.5 L769.0,820.5 L770.0,819.6 L771.0,819.9 L772.0,819.4 L773.0,820.0 L774.0,818.8 L775.0,819.4 L776.0,819.7 L777.0,819.3 L778.0,820.2 L779.0,819.9 L780.0,820.5 L781.0,819.4 L782.0,819.6 L783.0,820.1 L784.0,819.8 L785.0,820.2 L786.0,820.2 L787.0,819.7 L788.0,820.0 L789.0,820.2 L790.0,820.1 L791.0,819.9 L792.0,819.9 L793.0,820.0 L794.0,820.4 L795.0,820.8 L796.0,819.6 L797.0,819.7 L798.0,820.0 L799.0,820.6 L800.0,819.8 L801.0,820.9 L802.0,820.9 L803.0,819.3 L804.0,820.4 L805.0,820.3 L806.0,820.0 L807.0,819.5 L808.0,820.3 L809.0,820.0 L810.0,820.6 L811.0,820.4 L812.0,819.9 L813.0,820.9 L814.0,820.8 L815.0,820.7 L816.0,820.2 L817.0,820.5 L818.0,820.3 L819.0,820.0 L820.0,819.6 L821.0,820.3 L822.0,819.5 L823.0,820.5 L824.0,819.8 L825.0,820.3 L826.0,820.2 L827.0,819.9 L828.0,819.9 L829.0,820.1 L830.0,820.8 L831.0,820.4 L832.0,820.2 L833.0,820.6 L834.0,819.9 L835.0,819.7 L836.0,820.0 L837.0,820.6 L838.0,820.2 L839.0,820.3 L840.0,820.3 L841.0,820.1 L842.0,820.7 L843.0,820.5 L844.0,820.0 L845.0,819.9 L846.0,820.3 L847.0,820.0 L848.0,820.3 L849.0,820.5 L850.0,820.3 L851.0,820.4 L852.0,820.1 L853.0,820.0 L854.0,819.9 L855.0,820.8 L856.0,820.0 L857.0,820.3 L858.0,820.3 L859.0,820.5 L860.0,820.2 L861.0,819.7 L862.0,821.0 L863.0,819.9 L864.0,820.5 L865.0,819.9 L866.0,820.5 L867.0,819.9 L868.0,820.9 L869.0,820.5 L870.0,819.7 L871.0,820.9 L872.0,819.6 L873.0,820.2 L874.0,820.7 L875.0,820.2 L876.0,820.8 L877.0,820.3 L878.0,820.1 L879.0,820.8 L880.0,820.3 L881.0,820.1 M900.0,820.2 L901.0,819.7 L902.0,819.3 L903.0,819.6 L904.0,820.7 L905.0,820.7 L906.0,819.3 L907.0,820.1 L908.0,820.3 L909.0,819.7 L910.0,820.1 L911.0,819.5 L912.0,819.7 L913.0,820.2 L914.0,819.8 L915.0,819.8 L916.0,819.7 L917.0,819.3 L918.0,819.4 L919.0,819.6 L920.0,819.7 L921.0,819.5 L922.0,820.5 L923.0,819.2 L924.0,819.4 L925.0,819.5 L926.0,820.0 L927.0,819.3 L928.0,819.9 L929.0,819.5 L930.0,819.5 L931.0,819.9 L932.0,820.1 L933.0,820.1 L934.0,819.3 L935.0,820.1 L936.0,820.1 L937.0,819.9 L938.0,819.9 L939.0,819.8 L940.0,819.7 L941.0,820.1 L942.0,820.3 L943.0,819.6 L944.0,819.9 L945.0,820.1 L946.0,819.2 L947.0,820.3 L948.0,819.9 L949.0,820.2 L950.0,819.6 L951.0,819.4 L952.0,819.7 L953.0,819.8 L954.0,819.4 L955.0,820.0 L956.0,819.8 L957.0,819.3 L958.0,819.9 L959.0,819.6 L960.0,819.7 L961.0,819.5 L962.0,819.4 L963.0,819.2 L964.0,819.7 L965.0,819.7 L966.0,819.8 L967.0,819.4 L968.0,819.8 L969.0,820.0 L970.0,819.2 L971.0,819.7 L972.0,820.4 L973.0,819.4 L974.0,819.5 L975.0,819.6 L976.0,819.4 L977.0,819.9 L978.0,819.6 L979.0,819.5 L980.0,819.3 L981.0,819.8 L982.0,819.5 L983.0,819.4 L984.0,819.4 L985.0,820.1 L986.0,819.5 L987.0,819.6 L988.0,820.0 L989.0,819.5 L990.0,819.8 L991.0,819.1 L992.0,819.7 L993.0,818.7 L994.0,819.5 L995.0,819.3 L996.0,819.2 L997.0,819.8 L998.0,819.7 L999.0,819.7 L1000.0,819.9 L1001.0,819.5 L1002.0,819.6 L1003.0,819.3 L1004.0,820.0 L1005.0,819.6 L1006.0,819.0 L1007.0,819.0 L1008.0,819.0 L1009.0,819.0 L1010.0,819.7 L1011.0,819.3 L1012.0,819.6 L1013.0,818.9 L1014.0,818.9 L1015.0,819.6 L1016.0,818.4 L1017.0,818.7 L1018.0,818.3 L1019.0,818.8 L1020.0,819.9 L1021.0,818.7 L1022.0,819.3 L1023.0,819.5 L1024.0,818.7 L1025.0,818.6 L1026.0,819.0 L1027.0,819.1 L1028.0,818.2 L1029.0,818.5 L1030.0,819.3 L1031.0,818.4 L1032.0,818.8 L1033.0,819.0 L1034.0,818.5 L1035.0,818.5 L1036.0,818.3 L1037.0,818.2 L1038.0,818.2 L1039.0,817.8 L1040.0,818.1 L1041.0,818.2 L1042.0,818.4 L1043.0,818.0 L1044.0,817.8 L1045.0,818.7 L1046.0,817.9 L1047.0,817.8 L1048.0,817.6 L1049.0,817.7 L1050.0,817.3 L1051.0,817.4 L1052.0,817.2 L1053.0,816.9 L1054.0,817.1 L1055.0,816.7 L1056.0,817.7 L1057.0,816.5 L1058.0,817.5 L1059.0,816.8 L1060.0,816.9 L1061.0,817.0 L1062.0,815.7 L1063.0,816.7 L1064.0,816.2 L1065.0,815.7 L1066.0,815.4 L1067.0,815.6 L1068.0,814.7 L1069.0,815.8 L1070.0,814.9 L1071.0,815.0 L1072.0,814.6 L1073.0,814.2 L1074.0,813.9 L1075.0,813.5 L1076.0,814.1 L1077.0,813.4 L1078.0,813.3 L1079.0,813.1 L1080.0,812.9 L1081.0,812.6 L1082.0,812.7 L1083.0,811.8 L1084.0,811.5 L1085.0,811.6 L1086.0,811.4 L1087.0,811.4 L1088.0,811.7 L1089.0,811.5 L1090.0,811.3 L1091.0,810.8 L1092.0,811.2 L1093.0,811.1 L1094.0,811.4 L1095.0,811.2 L1096.0,811.1 L1097.0,811.4 L1098.0,811.3 L1099.0,811.4 L1100.0,811.9 L1101.0,812.1 L1102.0,812.6 L1103.0,812.5 L1104.0,812.3 L1105.0,813.4 L1106.0,813.7 L1107.0,813.0 L1108.0,813.4 L1109.0,814.2 L1110.0,814.2 L1111.0,813.8 L1112.0,814.9 L1113.0,814.8 L1114.0,815.0 L1115.0,815.5 L1116.0,815.1 L1117.0,815.2 L1118.0,815.9 L1119.0,816.2 L1120.0,816.0 L1121.0,816.6 L1122.0,816.5 L1123.0,816.8 L1124.0,816.3 L1125.0,816.6 L1126.0,817.2 L1127.0,816.7 L1128.0,816.8 L1129.0,817.2 L1130.0,817.2 L1131.0,817.0 L1132.0,816.9 L1133.0,818.0 L1134.0,817.6 L1135.0,818.2 L1136.0,817.5 L1137.0,817.9 L1138.0,817.9 L1139.0,818.0 L1140.0,817.5 L1141.0,818.5 L1142.0,818.1 L1143.0,818.3 L1144.0,817.9 L1145.0,818.9 L1146.0,817.8 L1147.0,819.1 L1148.0,818.3 L1149.0,818.4 L1150.0,818.3 L1151.0,819.1 L1152.0,818.3 L1153.0,818.4 L1154.0,818.4 L1155.0,818.9 L1156.0,818.9 L1157.0,818.5 L1158.0,819.0 L1159.0,819.4 L1160.0,819.1 L1161.0,819.0 L1162.0,818.6 L1163.0,819.5 L1164.0,819.2 L1165.0,818.5 L1166.0,818.8 L1167.0,818.1 L1168.0,819.2 L1169.0,818.7 L1170.0,819.0 L1171.0,819.6 L1172.0,818.6 L1173.0,819.4 L1174.0,819.1 L1175.0,818.8 L1176.0,819.6 L1177.0,819.4 L1178.0,819.0 L1179.0,819.4 L1180.0,819.0 L1181.0,819.0 L1182.0,819.1 L1183.0,819.6 L1184.0,818.7 L1185.0,818.9 L1186.0,819.6 L1187.0,818.8 L1188.0,819.3 L1189.0,819.2 L1190.0,818.9 L1191.0,819.1 L1192.0,819.3 L1193.0,819.4 L1194.0,819.6 L1195.0,819.5 L1196.0,819.7 L1197.0,819.5 L1198.0,819.3 L1199.0,819.6 L1200.0,819.6 L1201.0,819.7 L1202.0,819.4 L1203.0,819.4 L1204.0,819.4 L1205.0,818.9 L1206.0,819.6 L1207.0,819.2 L1208.0,819.2 L1209.0,819.4 L1210.0,820.2 L1211.0,819.2 L1212.0,820.0 L1213.0,818.8 L1214.0,819.4 L1215.0,820.2 L1216.0,819.6 L1217.0,819.7 L1218.0,819.3 L1219.0,818.8 L1220.0,819.7 L1221.0,819.9 L1222.0,819.9 L1223.0,820.2 L1224.0,819.5 L1225.0,819.7 L1226.0,818.8 L1227.0,819.4 L1228.0,819.6 L1229.0,820.0 L1230.0,820.2 L1231.0,820.1 L1232.0,819.7 L1233.0,819.5 L1234.0,819.5 L1235.0,819.5 L1236.0,819.6 L1237.0,820.0 L1238.0,819.5 L1239.0,819.0 L1240.0,819.1 L1241.0,820.6 L1242.0,820.0 L1243.0,819.4 L1244.0,819.5 L1245.0,819.8 L1246.0,819.7 L1247.0,819.7 L1248.0,818.9 L1249.0,819.1 L1250.0,819.6 L1251.0,819.8 L1252.0,819.6 L1253.0,820.1 L1254.0,819.5 L1255.0,819.6 L1256.0,819.5 L1257.0,819.8 L1258.0,819.3 L1259.0,820.2 L1260.0,819.1 L1261.0,819.8 L1262.0,819.7 L1263.0,820.0 L1264.0,819.1 L1265.0,819.1 L1266.0,819.3 L1267.0,819.7 L1268.0,819.7 L1269.0,818.5 L1270.0,819.3 L1271.0,819.5 L1272.0,819.5 L1273.0,819.5 L1274.0,819.3 L1275.0,819.4 L1276.0,818.7 L1277.0,819.6 L1278.0,818.4 L1279.0,819.2 L1280.0,818.9 L1281.0,819.3 L1282.0,818.9 L1283.0,819.5 L1284.0,819.3 L1285.0,819.4 L1286.0,819.5 L1287.0,819.5 L1288.0,819.0 L1289.0,819.3 L1290.0,819.2 L1291.0,819.3 L1292.0,819.0 L1293.0,818.1 L1294.0,818.8 L1295.0,818.9 L1296.0,818.7 L1297.0,818.6 L1298.0,818.9 L1299.0,818.5 L1300.0,819.0 L1301.0,819.1 L1302.0,818.7 L1303.0,819.0 L1304.0,818.2 L1305.0,818.3 L1306.0,818.5 L1307.0,818.2 L1308.0,818.6 L1309.0,818.6 L1310.0,819.1 L1311.0,818.3 L1312.0,818.9 L1313.0,818.1 L1314.0,818.4 L1315.0,818.8 L1316.0,818.6 L1317.0,817.7 L1318.0,818.5 L1319.0,818.7 L1320.0,818.0 L1321.0,818.4 L1322.0,818.5 L1323.0,818.7 L1324.0,819.0 L1325.0,818.2 L1326.0,818.4 L1327.0,819.2 L1328.0,819.1 L1329.0,819.3 L1330.0,818.8 L1331.0,819.2 L1332.0,818.0 L1333.0,819.0 L1334.0,818.6 L1335.0,818.5 L1336.0,818.6 L1337.0,819.3 L1338.0,819.5 L1339.0,818.9 L1340.0,819.0 L1341.0,819.5 L1342.0,818.9 L1343.0,819.3 L1344.0,819.4 L1345.0,819.6 L1346.0,819.1 L1347.0,818.3 L1348.0,819.2 L1349.0,819.5 L1350.0,819.2 L1351.0,819.1 L1352.0,819.0 L1353.0,819.5 L1354.0,819.5 L1355.0,819.5 L1356.0,819.4 L1357.0,819.9 L1358.0,819.6 L1359.0,819.5 L1360.0,819.1 L1361.0,819.4 L1362.0,819.5 L1363.0,820.0 L1364.0,819.7 L1365.0,819.4 L1366.0,819.8 L1367.0,819.8 L1368.0,819.4 L1369.0,819.8 L1370.0,819.2 L1371.0,819.7 L1372.0,820.3 L1373.0,820.0 L1374.0,819.9 L1375.0,820.0 L1376.0,819.9 L1377.0,819.3 L1378.0,819.5 L1379.0,819.4 L1380.0,819.9 L1381.0,820.0" fill="none" stroke="#48484f" stroke-width="7.2" stroke-linejoin="round" stroke-linecap="butt"/>
<path d="M802.33,125.13L827.97,150.77M802.33,150.77L827.97,125.13M802.73,275.53L827.97,300.77M802.73,300.77L827.97,275.53M802.73,439.63L827.97,464.87M802.73,464.87L827.97,439.63M802.73,597.93L827.97,623.17M802.73,623.17L827.97,597.93M586.23,2004.43L612.57,2030.77M586.23,2030.77L612.57,2004.43M804.13,2004.43L830.47,2030.77M804.13,2030.77L830.47,2004.43M1025.13,2004.43L1051.47,2030.77M1025.13,2030.77L1051.47,2004.43M1254.13,2004.63L1280.27,2030.77M1254.13,2030.77L1280.27,2004.63M482.13,1248.23L507.37,1273.47M482.13,1273.47L507.37,1248.23M482.13,1325.13L507.37,1350.37M482.13,1350.37L507.37,1325.13M482.13,1403.33L507.37,1428.57M482.13,1428.57L507.37,1403.33M482.13,1481.03L507.37,1506.27M482.13,1506.27L507.37,1481.03" fill="none" stroke="#231f20" stroke-width="2.9"/>
</svg></body></html>
